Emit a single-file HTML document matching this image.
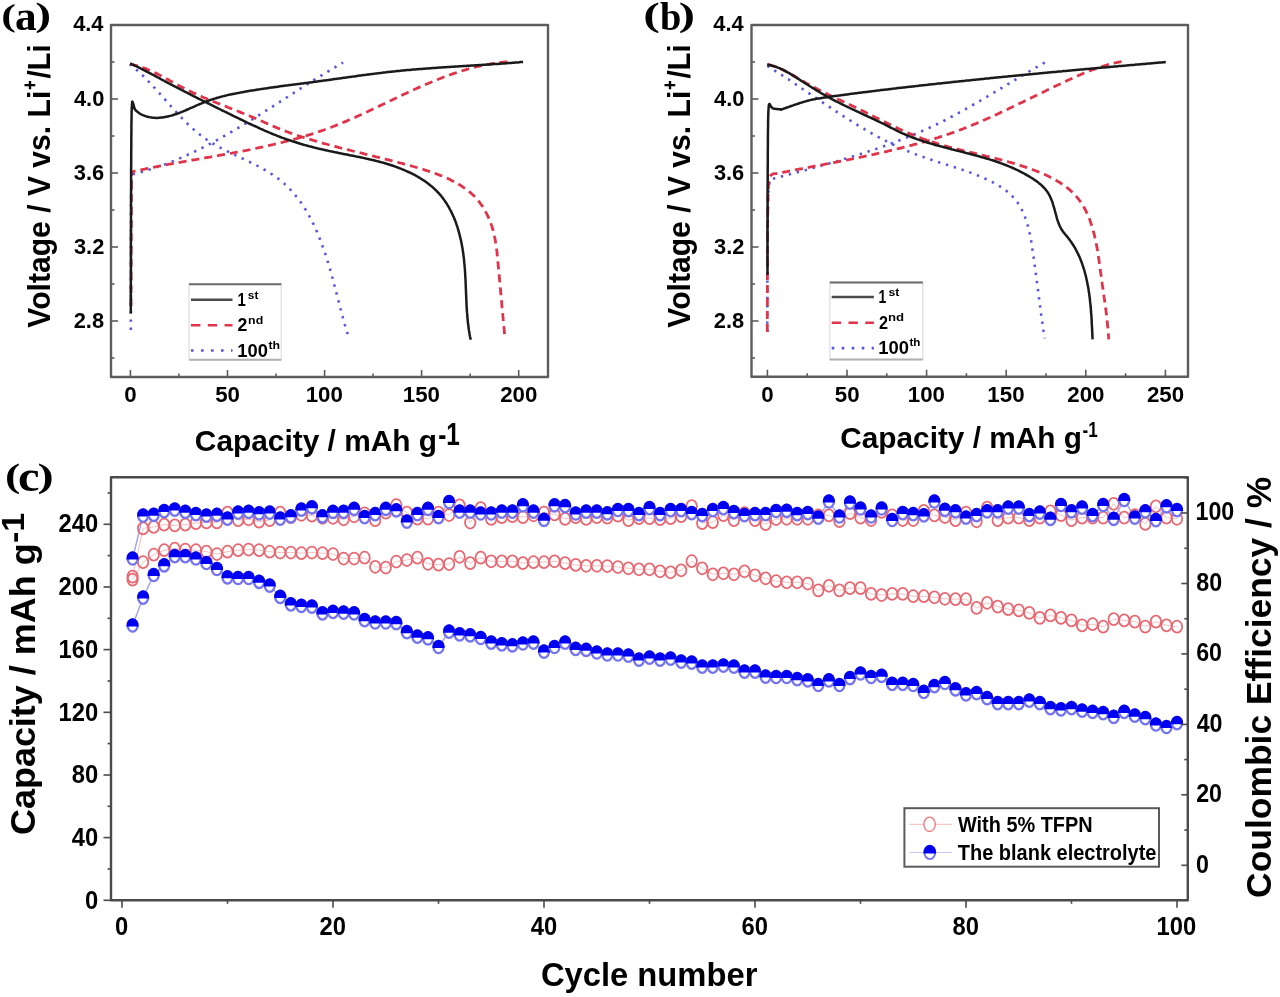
<!DOCTYPE html>
<html><head><meta charset="utf-8"><style>
html,body{margin:0;padding:0;background:#fff;}
svg{display:block;filter:blur(0.75px);}
</style></head><body>
<svg width="1280" height="997" viewBox="0 0 1280 997">
<rect width="1280" height="997" fill="#fff"/>
<path d="M129.8,64.2 L130.8,65.0 L131.8,65.8 L132.7,66.5 L133.6,67.3 L134.6,68.1 L135.5,68.9 L136.4,69.7 L137.3,70.5 L138.2,71.3 L139.1,72.2 L140.0,73.0 L140.9,73.8 L141.8,74.7 L142.7,75.5 L143.6,76.4 L144.4,77.2 L145.3,78.1 L146.2,79.0 L147.0,79.8 L147.9,80.7 L148.7,81.6 L149.6,82.5 L150.4,83.4 L151.2,84.3 L152.1,85.1 L152.9,86.0 L153.7,86.9 L154.6,87.8 L155.4,88.7 L156.2,89.7 L157.0,90.6 L157.8,91.5 L158.6,92.4 L159.5,93.3 L160.3,94.2 L161.1,95.1 L161.9,96.0 L162.7,97.0 L163.5,97.9 L164.3,98.8 L165.1,99.7 L165.9,100.6 L166.7,101.5 L167.5,102.5 L168.3,103.4 L169.2,104.3 L170.0,105.2 L170.8,106.1 L171.6,107.0 L172.4,107.9 L173.2,108.8 L174.0,109.7 L174.8,110.6 L175.7,111.5 L176.5,112.4 L177.3,113.3 L178.1,114.2 L178.9,115.1 L179.8,116.0 L180.6,116.9 L181.5,117.7 L182.3,118.6 L183.1,119.5 L184.0,120.3 L184.8,121.2 L185.7,122.0 L186.6,122.9 L187.4,123.7 L188.3,124.6 L189.2,125.4 L190.1,126.2 L190.9,127.0 L191.8,127.8 L192.7,128.6 L193.6,129.4 L194.5,130.2 L195.5,131.0 L196.4,131.8 L197.3,132.6 L198.2,133.3 L199.2,134.1 L200.1,134.8 L201.1,135.5 L202.1,136.3 L203.0,137.0 L204.0,137.7 L205.0,138.4 L206.0,139.1 L207.0,139.8 L208.0,140.4 L209.0,141.1 L210.1,141.7 L211.1,142.4 L212.1,143.0 L213.2,143.7 L214.2,144.3 L215.3,144.9 L216.4,145.5 L217.4,146.1 L218.5,146.7 L219.6,147.3 L220.7,147.9 L221.8,148.5 L222.9,149.0 L224.0,149.6 L225.1,150.2 L226.2,150.7 L227.3,151.3 L228.4,151.8 L229.5,152.4 L230.6,152.9 L231.8,153.5 L232.9,154.0 L234.0,154.5 L235.1,155.1 L236.3,155.6 L237.4,156.2 L238.5,156.7 L239.6,157.2 L240.8,157.8 L241.9,158.3 L243.0,158.8 L244.1,159.4 L245.3,159.9 L246.4,160.4 L247.5,161.0 L248.6,161.5 L249.7,162.0 L250.9,162.6 L252.0,163.1 L253.1,163.7 L254.2,164.2 L255.3,164.8 L256.4,165.4 L257.5,165.9 L258.6,166.5 L259.7,167.1 L260.7,167.6 L261.8,168.2 L262.9,168.8 L263.9,169.4 L265.0,170.0 L266.0,170.6 L267.1,171.2 L268.1,171.9 L269.2,172.5 L270.2,173.1 L271.2,173.8 L272.2,174.4 L273.2,175.1 L274.2,175.8 L275.2,176.5 L276.2,177.1 L277.1,177.8 L278.1,178.6 L279.0,179.3 L279.9,180.0 L280.9,180.8 L281.8,181.5 L282.7,182.3 L283.6,183.1 L284.5,183.8 L285.3,184.6 L286.2,185.4 L287.1,186.3 L287.9,187.1 L288.7,187.9 L289.6,188.8 L290.4,189.6 L291.2,190.5 L292.0,191.4 L292.8,192.2 L293.6,193.1 L294.3,194.0 L295.1,194.9 L295.8,195.9 L296.6,196.8 L297.3,197.7 L298.0,198.7 L298.8,199.6 L299.5,200.6 L300.2,201.5 L300.9,202.5 L301.5,203.5 L302.2,204.5 L302.9,205.5 L303.5,206.5 L304.2,207.5 L304.8,208.5 L305.5,209.5 L306.1,210.6 L306.7,211.6 L307.3,212.7 L307.9,213.7 L308.5,214.8 L309.1,215.8 L309.7,216.9 L310.3,218.0 L310.9,219.0 L311.4,220.1 L312.0,221.2 L312.5,222.3 L313.1,223.4 L313.6,224.5 L314.1,225.6 L314.7,226.7 L315.2,227.8 L315.7,229.0 L316.2,230.1 L316.7,231.2 L317.2,232.3 L317.7,233.5 L318.1,234.6 L318.6,235.7 L319.1,236.9 L319.5,238.0 L320.0,239.2 L320.4,240.3 L320.9,241.5 L321.3,242.7 L321.8,243.8 L322.2,245.0 L322.6,246.2 L323.0,247.3 L323.5,248.5 L323.9,249.7 L324.3,250.8 L324.7,252.0 L325.1,253.2 L325.5,254.4 L325.8,255.5 L326.2,256.7 L326.6,257.9 L327.0,259.1 L327.4,260.2 L327.7,261.4 L328.1,262.6 L328.4,263.8 L328.8,265.0 L329.1,266.1 L329.5,267.3 L329.8,268.5 L330.2,269.7 L330.5,270.9 L330.8,272.0 L331.2,273.2 L331.5,274.4 L331.8,275.6 L332.1,276.7 L332.5,277.9 L332.8,279.1 L333.1,280.3 L333.4,281.4 L333.7,282.6 L334.0,283.8 L334.3,285.0 L334.6,286.1 L334.9,287.3 L335.3,288.5 L335.6,289.7 L335.9,290.8 L336.2,292.0 L336.5,293.2 L336.8,294.3 L337.1,295.5 L337.4,296.7 L337.7,297.9 L338.0,299.0 L338.3,300.2 L338.6,301.4 L338.9,302.5 L339.2,303.7 L339.5,304.9 L339.8,306.0 L340.1,307.2 L340.4,308.4 L340.7,309.5 L341.0,310.7 L341.3,311.9 L341.6,313.0 L341.9,314.2 L342.2,315.4 L342.6,316.5 L342.9,317.7 L343.2,318.9 L343.5,320.1 L343.8,321.2 L344.2,322.4 L344.5,323.6 L344.8,324.7 L345.2,325.9 L345.5,327.1 L345.9,328.2 L346.2,329.4 L346.6,330.6 L346.9,331.7 L347.3,332.9 L347.7,334.1 L348.0,335.2" fill="none" stroke="#5656e4" stroke-width="2.6" stroke-dasharray="2.4 5.8" stroke-linejoin="round" />
<path d="M130.8,330.0 L130.8,323.7 L130.8,315.3 L130.9,305.2 L130.9,294.1 L130.9,282.4 L130.9,270.8 L131.0,259.8 L131.0,250.0 L131.0,240.8 L131.0,231.4 L131.0,222.1 L131.0,213.2 L131.0,204.7 L131.1,197.1 L131.2,190.4 L131.3,185.0 L131.5,181.0 L131.8,178.3 L132.1,176.6 L132.4,175.6 L132.8,175.2 L133.1,175.0 L133.3,174.8 L133.5,174.4 L133.3,174.2 L134.1,174.0 L134.9,173.8 L135.7,173.6 L136.5,173.4 L137.3,173.2 L138.0,173.0 L138.8,172.8 L139.6,172.6 L140.4,172.4 L141.2,172.1 L141.9,171.9 L142.7,171.7 L143.5,171.5 L144.3,171.2 L145.0,171.0 L145.8,170.8 L146.6,170.5 L147.4,170.3 L148.1,170.1 L148.9,169.8 L149.7,169.6 L150.4,169.3 L151.2,169.1 L152.0,168.9 L152.7,168.6 L153.5,168.4 L154.2,168.1 L155.0,167.8 L155.8,167.6 L156.5,167.3 L157.3,167.1 L158.0,166.8 L158.8,166.5 L159.5,166.3 L160.3,166.0 L161.0,165.7 L161.8,165.5 L162.6,165.2 L163.3,164.9 L164.1,164.6 L164.8,164.4 L165.6,164.1 L166.3,163.8 L167.0,163.5 L167.8,163.2 L168.5,162.9 L169.3,162.6 L170.0,162.4 L170.8,162.1 L171.5,161.8 L172.2,161.5 L173.0,161.2 L173.7,160.9 L174.5,160.6 L175.2,160.3 L175.9,160.0 L176.7,159.7 L177.4,159.3 L178.1,159.0 L178.9,158.7 L179.6,158.4 L180.3,158.1 L181.1,157.8 L181.8,157.5 L182.5,157.1 L183.3,156.8 L184.0,156.5 L184.7,156.2 L185.4,155.9 L186.2,155.5 L186.9,155.2 L187.6,154.9 L188.3,154.5 L189.1,154.2 L189.8,153.9 L190.5,153.5 L191.2,153.2 L191.9,152.9 L192.7,152.5 L193.4,152.2 L194.1,151.8 L194.8,151.5 L195.5,151.1 L196.3,150.8 L197.0,150.4 L197.7,150.1 L198.4,149.7 L199.1,149.4 L199.8,149.0 L200.5,148.7 L201.3,148.3 L202.0,148.0 L202.7,147.6 L203.4,147.3 L204.1,146.9 L204.8,146.5 L205.5,146.2 L206.2,145.8 L206.9,145.4 L207.6,145.1 L208.3,144.7 L209.0,144.3 L209.7,144.0 L210.5,143.6 L211.2,143.2 L211.9,142.8 L212.6,142.5 L213.3,142.1 L214.0,141.7 L214.7,141.3 L215.4,141.0 L216.1,140.6 L216.8,140.2 L217.5,139.8 L218.2,139.4 L218.9,139.0 L219.6,138.7 L220.3,138.3 L220.9,137.9 L221.6,137.5 L222.3,137.1 L223.0,136.7 L223.7,136.3 L224.4,135.9 L225.1,135.5 L225.8,135.1 L226.5,134.8 L227.2,134.4 L227.9,134.0 L228.6,133.6 L229.3,133.2 L230.0,132.8 L230.6,132.4 L231.3,132.0 L232.0,131.6 L232.7,131.2 L233.4,130.8 L234.1,130.4 L234.8,129.9 L235.5,129.5 L236.2,129.1 L236.8,128.7 L237.5,128.3 L238.2,127.9 L238.9,127.5 L239.6,127.1 L240.3,126.7 L241.0,126.3 L241.6,125.9 L242.3,125.4 L243.0,125.0 L243.7,124.6 L244.4,124.2 L245.1,123.8 L245.7,123.4 L246.4,123.0 L247.1,122.5 L247.8,122.1 L248.5,121.7 L249.1,121.3 L249.8,120.9 L250.5,120.4 L251.2,120.0 L251.9,119.6 L252.5,119.2 L253.2,118.8 L253.9,118.3 L254.6,117.9 L255.2,117.5 L255.9,117.1 L256.6,116.6 L257.3,116.2 L258.0,115.8 L258.6,115.4 L259.3,115.0 L260.0,114.5 L260.7,114.1 L261.3,113.7 L262.0,113.2 L262.7,112.8 L263.4,112.4 L264.0,112.0 L264.7,111.5 L265.4,111.1 L266.1,110.7 L266.7,110.2 L267.4,109.8 L268.1,109.4 L268.8,109.0 L269.4,108.5 L270.1,108.1 L270.8,107.7 L271.5,107.2 L272.1,106.8 L272.8,106.4 L273.5,105.9 L274.2,105.5 L274.8,105.1 L275.5,104.6 L276.2,104.2 L276.8,103.8 L277.5,103.3 L278.2,102.9 L278.9,102.5 L279.5,102.1 L280.2,101.6 L280.9,101.2 L281.6,100.8 L282.2,100.3 L282.9,99.9 L283.6,99.5 L284.2,99.0 L284.9,98.6 L285.6,98.2 L286.3,97.7 L286.9,97.3 L287.6,96.9 L288.3,96.4 L288.9,96.0 L289.6,95.6 L290.3,95.1 L291.0,94.7 L291.6,94.3 L292.3,93.8 L293.0,93.4 L293.6,93.0 L294.3,92.5 L295.0,92.1 L295.7,91.7 L296.3,91.2 L297.0,90.8 L297.7,90.4 L298.4,90.0 L299.0,89.5 L299.7,89.1 L300.4,88.7 L301.0,88.2 L301.7,87.8 L302.4,87.4 L303.1,86.9 L303.7,86.5 L304.4,86.1 L305.1,85.7 L305.8,85.2 L306.4,84.8 L307.1,84.4 L307.8,84.0 L308.5,83.5 L309.1,83.1 L309.8,82.7 L310.5,82.3 L311.1,81.8 L311.8,81.4 L312.5,81.0 L313.2,80.6 L313.8,80.1 L314.5,79.7 L315.2,79.3 L315.9,78.9 L316.6,78.5 L317.2,78.0 L317.9,77.6 L318.6,77.2 L319.3,76.8 L319.9,76.4 L320.6,75.9 L321.3,75.5 L322.0,75.1 L322.6,74.7 L323.3,74.3 L324.0,73.9 L324.7,73.5 L325.4,73.0 L326.0,72.6 L326.7,72.2 L327.4,71.8 L328.1,71.4 L328.8,71.0 L329.4,70.6 L330.1,70.2 L330.8,69.8 L331.5,69.4 L332.2,68.9 L332.8,68.5 L333.5,68.1 L334.2,67.7 L334.9,67.3 L335.6,66.9 L336.3,66.5 L336.9,66.1 L337.6,65.7 L338.3,65.3 L339.0,64.9 L339.7,64.5 L340.4,64.1 L341.1,63.7 L341.7,63.3 L342.4,63.0 L343.1,62.6" fill="none" stroke="#5656e4" stroke-width="2.6" stroke-dasharray="2.4 5.8" stroke-linejoin="round" />
<path d="M129.9,64.1 L131.7,64.5 L133.4,64.8 L135.1,65.3 L136.8,65.7 L138.5,66.2 L140.2,66.7 L141.8,67.3 L143.4,67.8 L145.1,68.4 L146.7,69.1 L148.3,69.7 L149.9,70.4 L151.4,71.1 L153.0,71.8 L154.6,72.6 L156.1,73.3 L157.7,74.1 L159.2,74.9 L160.8,75.7 L162.3,76.5 L163.8,77.3 L165.4,78.1 L166.9,79.0 L168.4,79.8 L169.9,80.7 L171.5,81.5 L173.0,82.3 L174.5,83.2 L176.0,84.0 L177.5,84.8 L179.1,85.7 L180.6,86.5 L182.1,87.3 L183.7,88.1 L185.2,88.9 L186.8,89.7 L188.3,90.4 L189.9,91.2 L191.5,91.9 L193.0,92.7 L194.6,93.4 L196.2,94.1 L197.8,94.9 L199.4,95.6 L201.0,96.3 L202.5,97.0 L204.1,97.7 L205.7,98.3 L207.3,99.0 L208.9,99.7 L210.5,100.4 L212.2,101.0 L213.8,101.7 L215.4,102.3 L217.0,103.0 L218.6,103.6 L220.2,104.3 L221.8,104.9 L223.4,105.6 L225.1,106.2 L226.7,106.8 L228.3,107.5 L229.9,108.1 L231.5,108.7 L233.2,109.4 L234.8,110.0 L236.4,110.6 L238.0,111.3 L239.6,111.9 L241.2,112.6 L242.9,113.2 L244.5,113.9 L246.1,114.5 L247.7,115.2 L249.3,115.8 L250.9,116.5 L252.5,117.1 L254.1,117.8 L255.7,118.5 L257.3,119.2 L258.9,119.9 L260.5,120.6 L262.1,121.3 L263.7,122.0 L265.3,122.7 L266.8,123.4 L268.4,124.1 L270.0,124.8 L271.6,125.5 L273.2,126.2 L274.8,126.9 L276.4,127.5 L278.0,128.2 L279.6,128.9 L281.2,129.5 L282.9,130.1 L284.5,130.8 L286.1,131.4 L287.7,132.0 L289.4,132.6 L291.0,133.2 L292.7,133.8 L294.3,134.3 L295.9,134.9 L297.6,135.5 L299.3,136.0 L300.9,136.6 L302.6,137.1 L304.2,137.6 L305.9,138.2 L307.6,138.7 L309.2,139.2 L310.9,139.7 L312.6,140.2 L314.2,140.7 L315.9,141.2 L317.6,141.7 L319.3,142.2 L320.9,142.6 L322.6,143.1 L324.3,143.6 L326.0,144.0 L327.6,144.5 L329.3,144.9 L331.0,145.4 L332.7,145.8 L334.3,146.3 L336.0,146.7 L337.7,147.1 L339.4,147.6 L341.0,148.0 L342.7,148.4 L344.4,148.9 L346.1,149.3 L347.7,149.7 L349.4,150.1 L351.1,150.5 L352.7,151.0 L354.4,151.4 L356.1,151.8 L357.7,152.2 L359.4,152.6 L361.1,153.0 L362.7,153.4 L364.4,153.9 L366.1,154.3 L367.7,154.7 L369.4,155.1 L371.1,155.5 L372.7,155.9 L374.4,156.3 L376.1,156.8 L377.8,157.2 L379.4,157.6 L381.1,158.0 L382.8,158.4 L384.5,158.9 L386.1,159.3 L387.8,159.7 L389.5,160.2 L391.2,160.6 L392.9,161.0 L394.5,161.5 L396.2,161.9 L397.9,162.3 L399.6,162.8 L401.3,163.2 L403.0,163.7 L404.7,164.2 L406.4,164.6 L408.1,165.1 L409.8,165.6 L411.5,166.0 L413.2,166.5 L414.9,167.0 L416.7,167.5 L418.4,168.0 L420.1,168.5 L421.8,169.0 L423.5,169.5 L425.2,170.1 L426.9,170.6 L428.6,171.2 L430.3,171.7 L432.0,172.3 L433.7,172.9 L435.4,173.5 L437.0,174.1 L438.7,174.7 L440.3,175.4 L442.0,176.0 L443.6,176.7 L445.2,177.4 L446.8,178.1 L448.4,178.8 L450.0,179.6 L451.5,180.4 L453.1,181.2 L454.6,182.0 L456.1,182.8 L457.6,183.6 L459.1,184.5 L460.6,185.4 L462.0,186.3 L463.4,187.3 L464.8,188.3 L466.2,189.3 L467.6,190.3 L468.9,191.3 L470.2,192.4 L471.4,193.5 L472.7,194.7 L473.9,195.8 L475.1,197.0 L476.2,198.3 L477.3,199.5 L478.4,200.8 L479.4,202.1 L480.4,203.5 L481.4,204.9 L482.4,206.2 L483.3,207.7 L484.2,209.1 L485.0,210.6 L485.8,212.1 L486.6,213.6 L487.4,215.1 L488.1,216.7 L488.8,218.2 L489.5,219.8 L490.1,221.4 L490.7,223.0 L491.3,224.7 L491.9,226.3 L492.4,228.0 L492.9,229.6 L493.3,231.3 L493.8,233.0 L494.2,234.7 L494.5,236.5 L494.9,238.2 L495.2,239.9 L495.5,241.7 L495.8,243.4 L496.1,245.2 L496.3,246.9 L496.5,248.7 L496.8,250.4 L497.0,252.2 L497.1,254.0 L497.3,255.7 L497.5,257.5 L497.7,259.3 L497.8,261.0 L498.0,262.8 L498.2,264.5 L498.3,266.3 L498.5,268.0 L498.6,269.8 L498.8,271.5 L499.0,273.3 L499.1,275.0 L499.3,276.7 L499.4,278.5 L499.6,280.2 L499.8,281.9 L499.9,283.7 L500.1,285.4 L500.2,287.1 L500.4,288.8 L500.6,290.5 L500.7,292.3 L500.9,294.0 L501.0,295.7 L501.2,297.4 L501.3,299.1 L501.5,300.8 L501.7,302.5 L501.8,304.3 L502.0,306.0 L502.1,307.7 L502.3,309.4 L502.5,311.1 L502.6,312.8 L502.8,314.6 L502.9,316.3 L503.1,318.0 L503.2,319.7 L503.4,321.5 L503.6,323.2 L503.7,324.9 L503.9,326.7 L504.1,328.4 L504.2,330.1 L504.4,331.9 L504.5,333.6 L504.7,335.4 L504.9,337.1 L505.0,338.9" fill="none" stroke="#e0344a" stroke-width="2.8" stroke-dasharray="8 5" stroke-linejoin="round" />
<path d="M131.0,306.0 L131.0,301.7 L131.0,296.1 L131.1,289.5 L131.1,282.1 L131.1,274.1 L131.1,265.9 L131.2,257.8 L131.2,250.0 L131.2,241.9 L131.3,233.1 L131.3,224.0 L131.3,214.8 L131.4,205.9 L131.4,197.7 L131.5,190.7 L131.5,185.0 L131.5,180.9 L131.5,178.0 L131.5,176.1 L131.5,175.0 L131.5,174.4 L131.5,174.0 L131.6,173.6 L131.7,173.0 L131.9,172.3 L132.1,171.9 L132.3,171.7 L132.6,171.6 L132.9,171.6 L133.1,171.7 L133.4,171.7 L133.5,171.7 L133.5,171.5 L134.7,171.2 L136.0,170.9 L137.3,170.6 L138.6,170.4 L139.9,170.1 L141.2,169.8 L142.5,169.5 L143.7,169.3 L145.0,169.0 L146.3,168.7 L147.6,168.5 L148.9,168.2 L150.2,167.9 L151.5,167.7 L152.8,167.4 L154.1,167.2 L155.3,166.9 L156.6,166.7 L157.9,166.4 L159.2,166.2 L160.5,165.9 L161.8,165.7 L163.1,165.4 L164.4,165.2 L165.7,164.9 L167.0,164.7 L168.3,164.4 L169.6,164.2 L170.9,164.0 L172.2,163.7 L173.5,163.5 L174.8,163.3 L176.1,163.0 L177.4,162.8 L178.7,162.5 L180.0,162.3 L181.3,162.1 L182.6,161.8 L183.9,161.6 L185.2,161.4 L186.5,161.2 L187.8,160.9 L189.1,160.7 L190.4,160.5 L191.7,160.2 L193.0,160.0 L194.3,159.8 L195.6,159.6 L196.9,159.3 L198.2,159.1 L199.5,158.9 L200.8,158.6 L202.1,158.4 L203.4,158.2 L204.7,158.0 L206.0,157.7 L207.3,157.5 L208.6,157.3 L209.9,157.1 L211.2,156.8 L212.5,156.6 L213.8,156.4 L215.1,156.1 L216.4,155.9 L217.7,155.7 L219.0,155.4 L220.3,155.2 L221.6,155.0 L222.9,154.7 L224.2,154.5 L225.5,154.3 L226.8,154.0 L228.1,153.8 L229.4,153.6 L230.7,153.3 L232.0,153.1 L233.3,152.8 L234.6,152.6 L235.9,152.3 L237.2,152.1 L238.5,151.9 L239.8,151.6 L241.1,151.4 L242.4,151.1 L243.7,150.8 L245.0,150.6 L246.3,150.3 L247.6,150.1 L248.9,149.8 L250.1,149.6 L251.4,149.3 L252.7,149.0 L254.0,148.8 L255.3,148.5 L256.6,148.2 L257.9,148.0 L259.2,147.7 L260.5,147.4 L261.7,147.1 L263.0,146.9 L264.3,146.6 L265.6,146.3 L266.9,146.0 L268.2,145.7 L269.5,145.4 L270.7,145.1 L272.0,144.8 L273.3,144.5 L274.6,144.2 L275.9,143.9 L277.1,143.6 L278.4,143.3 L279.7,143.0 L281.0,142.7 L282.2,142.4 L283.5,142.0 L284.8,141.7 L286.1,141.4 L287.3,141.1 L288.6,140.7 L289.9,140.4 L291.1,140.1 L292.4,139.7 L293.7,139.4 L294.9,139.0 L296.2,138.7 L297.5,138.3 L298.7,137.9 L300.0,137.6 L301.3,137.2 L302.5,136.9 L303.8,136.5 L305.0,136.1 L306.3,135.7 L307.5,135.3 L308.8,134.9 L310.0,134.6 L311.3,134.2 L312.5,133.8 L313.8,133.4 L315.0,133.0 L316.3,132.5 L317.5,132.1 L318.8,131.7 L320.0,131.3 L321.2,130.9 L322.5,130.4 L323.7,130.0 L325.0,129.5 L326.2,129.1 L327.4,128.6 L328.7,128.2 L329.9,127.7 L331.1,127.3 L332.4,126.8 L333.6,126.3 L334.8,125.8 L336.0,125.4 L337.2,124.9 L338.5,124.4 L339.7,123.9 L340.9,123.4 L342.1,122.9 L343.3,122.4 L344.6,121.9 L345.8,121.4 L347.0,120.9 L348.2,120.3 L349.4,119.8 L350.6,119.3 L351.8,118.8 L353.0,118.2 L354.2,117.7 L355.4,117.2 L356.7,116.6 L357.9,116.1 L359.1,115.5 L360.3,115.0 L361.5,114.4 L362.7,113.9 L363.9,113.3 L365.1,112.8 L366.3,112.2 L367.5,111.7 L368.7,111.1 L369.9,110.5 L371.1,110.0 L372.3,109.4 L373.5,108.8 L374.7,108.3 L375.9,107.7 L377.0,107.1 L378.2,106.6 L379.4,106.0 L380.6,105.4 L381.8,104.9 L383.0,104.3 L384.2,103.7 L385.4,103.1 L386.6,102.6 L387.8,102.0 L389.0,101.4 L390.2,100.8 L391.4,100.3 L392.6,99.7 L393.8,99.1 L395.0,98.6 L396.2,98.0 L397.4,97.4 L398.6,96.8 L399.8,96.3 L400.9,95.7 L402.1,95.1 L403.3,94.6 L404.5,94.0 L405.7,93.5 L406.9,92.9 L408.1,92.3 L409.3,91.8 L410.5,91.2 L411.7,90.7 L412.9,90.1 L414.1,89.6 L415.3,89.0 L416.5,88.5 L417.7,87.9 L418.9,87.4 L420.2,86.9 L421.4,86.3 L422.6,85.8 L423.8,85.3 L425.0,84.7 L426.2,84.2 L427.4,83.7 L428.6,83.2 L429.8,82.7 L431.0,82.2 L432.3,81.7 L433.5,81.2 L434.7,80.7 L435.9,80.2 L437.1,79.7 L438.3,79.2 L439.6,78.7 L440.8,78.2 L442.0,77.8 L443.2,77.3 L444.5,76.8 L445.7,76.4 L446.9,75.9 L448.2,75.5 L449.4,75.0 L450.6,74.6 L451.9,74.2 L453.1,73.7 L454.3,73.3 L455.6,72.9 L456.8,72.5 L458.1,72.1 L459.3,71.7 L460.6,71.3 L461.8,70.9 L463.1,70.5 L464.3,70.1 L465.6,69.8 L466.8,69.4 L468.1,69.0 L469.3,68.7 L470.6,68.3 L471.9,68.0 L473.1,67.7 L474.4,67.3 L475.7,67.0 L477.0,66.7 L478.2,66.4 L479.5,66.1 L480.8,65.8 L482.1,65.6 L483.4,65.3 L484.7,65.0 L485.9,64.8 L487.2,64.5 L488.5,64.3 L489.8,64.0 L491.1,63.8 L492.4,63.6 L493.7,63.4 L495.0,63.2 L496.4,63.0 L497.7,62.8 L499.0,62.7 L500.3,62.5 L501.6,62.3 L503.0,62.2 L504.3,62.1 L505.6,61.9 L506.9,61.8 L508.3,61.7 L509.6,61.6" fill="none" stroke="#e0344a" stroke-width="2.8" stroke-dasharray="8 5" stroke-linejoin="round" />
<path d="M130.2,63.5 L131.7,64.2 L133.2,64.8 L134.7,65.5 L136.1,66.2 L137.6,66.9 L139.1,67.7 L140.5,68.4 L142.0,69.1 L143.4,69.8 L144.9,70.6 L146.3,71.3 L147.8,72.1 L149.2,72.8 L150.7,73.6 L152.1,74.4 L153.6,75.1 L155.0,75.9 L156.4,76.7 L157.9,77.5 L159.3,78.2 L160.7,79.0 L162.2,79.8 L163.6,80.5 L165.1,81.3 L166.5,82.1 L167.9,82.9 L169.4,83.6 L170.8,84.4 L172.3,85.1 L173.7,85.9 L175.2,86.7 L176.6,87.4 L178.1,88.2 L179.5,88.9 L181.0,89.7 L182.4,90.4 L183.9,91.2 L185.3,91.9 L186.8,92.7 L188.3,93.4 L189.7,94.1 L191.2,94.9 L192.6,95.6 L194.1,96.4 L195.6,97.1 L197.0,97.8 L198.5,98.6 L200.0,99.3 L201.4,100.0 L202.9,100.8 L204.4,101.5 L205.8,102.2 L207.3,103.0 L208.8,103.7 L210.2,104.4 L211.7,105.2 L213.2,105.9 L214.6,106.6 L216.1,107.3 L217.6,108.1 L219.1,108.8 L220.5,109.5 L222.0,110.3 L223.5,111.0 L224.9,111.7 L226.4,112.4 L227.9,113.2 L229.4,113.9 L230.9,114.6 L232.3,115.3 L233.8,116.1 L235.3,116.8 L236.8,117.5 L238.2,118.2 L239.7,119.0 L241.2,119.7 L242.7,120.4 L244.2,121.1 L245.7,121.8 L247.1,122.5 L248.6,123.3 L250.1,124.0 L251.6,124.7 L253.1,125.4 L254.6,126.0 L256.1,126.7 L257.6,127.4 L259.1,128.1 L260.6,128.8 L262.1,129.4 L263.6,130.1 L265.1,130.8 L266.6,131.4 L268.1,132.1 L269.6,132.7 L271.1,133.3 L272.6,134.0 L274.2,134.6 L275.7,135.2 L277.2,135.8 L278.7,136.4 L280.3,137.0 L281.8,137.6 L283.3,138.1 L284.9,138.7 L286.4,139.2 L287.9,139.8 L289.5,140.3 L291.0,140.8 L292.6,141.3 L294.1,141.8 L295.7,142.3 L297.2,142.8 L298.8,143.3 L300.4,143.8 L301.9,144.2 L303.5,144.7 L305.1,145.1 L306.6,145.5 L308.2,146.0 L309.8,146.4 L311.4,146.8 L313.0,147.2 L314.5,147.6 L316.1,148.0 L317.7,148.4 L319.3,148.7 L320.9,149.1 L322.5,149.5 L324.1,149.8 L325.7,150.2 L327.3,150.5 L328.9,150.9 L330.5,151.2 L332.1,151.6 L333.7,151.9 L335.3,152.3 L336.9,152.6 L338.5,152.9 L340.1,153.2 L341.7,153.6 L343.3,153.9 L344.9,154.2 L346.5,154.5 L348.1,154.8 L349.7,155.2 L351.3,155.5 L353.0,155.8 L354.6,156.1 L356.2,156.5 L357.8,156.8 L359.4,157.1 L361.0,157.4 L362.6,157.8 L364.2,158.1 L365.8,158.5 L367.4,158.8 L369.0,159.2 L370.6,159.6 L372.2,159.9 L373.8,160.3 L375.4,160.7 L377.0,161.1 L378.6,161.5 L380.2,162.0 L381.8,162.4 L383.4,162.8 L385.0,163.3 L386.6,163.8 L388.2,164.3 L389.8,164.8 L391.3,165.3 L392.9,165.8 L394.5,166.3 L396.1,166.9 L397.7,167.5 L399.2,168.1 L400.8,168.7 L402.3,169.3 L403.9,169.9 L405.4,170.6 L407.0,171.3 L408.5,172.0 L410.0,172.7 L411.5,173.4 L413.0,174.2 L414.5,174.9 L415.9,175.7 L417.4,176.5 L418.8,177.4 L420.2,178.2 L421.6,179.1 L423.0,180.0 L424.4,180.9 L425.7,181.8 L427.0,182.7 L428.3,183.7 L429.6,184.7 L430.8,185.7 L432.1,186.7 L433.3,187.8 L434.5,188.9 L435.6,190.0 L436.8,191.1 L437.9,192.3 L438.9,193.4 L440.0,194.6 L441.0,195.8 L442.0,197.1 L443.0,198.3 L443.9,199.6 L444.8,200.9 L445.7,202.2 L446.6,203.5 L447.4,204.9 L448.3,206.3 L449.1,207.7 L449.8,209.1 L450.6,210.5 L451.3,211.9 L452.0,213.4 L452.7,214.8 L453.3,216.3 L454.0,217.8 L454.6,219.3 L455.2,220.8 L455.8,222.4 L456.3,223.9 L456.8,225.4 L457.4,227.0 L457.9,228.6 L458.3,230.2 L458.8,231.8 L459.2,233.4 L459.6,235.0 L460.0,236.6 L460.4,238.2 L460.8,239.8 L461.2,241.4 L461.5,243.1 L461.8,244.7 L462.1,246.4 L462.4,248.0 L462.7,249.7 L462.9,251.3 L463.2,253.0 L463.4,254.6 L463.6,256.3 L463.8,257.9 L464.0,259.6 L464.2,261.3 L464.3,262.9 L464.5,264.6 L464.6,266.2 L464.8,267.9 L464.9,269.5 L465.0,271.2 L465.1,272.9 L465.2,274.5 L465.3,276.2 L465.4,277.8 L465.5,279.5 L465.6,281.2 L465.6,282.8 L465.7,284.5 L465.8,286.1 L465.8,287.8 L465.9,289.4 L466.0,291.1 L466.0,292.7 L466.1,294.4 L466.2,296.0 L466.2,297.7 L466.3,299.3 L466.4,301.0 L466.5,302.6 L466.5,304.2 L466.6,305.9 L466.7,307.5 L466.8,309.1 L466.9,310.8 L467.0,312.4 L467.2,314.0 L467.3,315.7 L467.4,317.3 L467.6,318.9 L467.7,320.5 L467.9,322.2 L468.1,323.8 L468.3,325.4 L468.5,327.0 L468.7,328.6 L468.9,330.2 L469.2,331.8 L469.5,333.4 L469.7,335.0 L470.0,336.6 L470.4,338.2 L470.7,339.8" fill="none" stroke="#1a1a1a" stroke-width="2.5" stroke-linejoin="round" />
<path d="M130.8,313.6 L130.8,308.7 L130.8,302.3 L130.8,294.7 L130.8,286.2 L130.9,277.1 L130.9,267.8 L130.9,258.7 L130.9,250.0 L130.9,241.5 L130.9,232.7 L131.0,223.8 L131.0,214.8 L131.0,205.8 L131.0,196.9 L131.1,188.3 L131.1,180.0 L131.1,171.7 L131.2,163.3 L131.2,154.8 L131.3,146.6 L131.3,138.8 L131.4,131.7 L131.4,125.3 L131.5,120.0 L131.6,115.8 L131.6,112.6 L131.7,110.2 L131.7,108.4 L131.8,107.0 L131.9,106.0 L131.9,105.0 L132.0,104.0 L132.1,103.0 L132.1,102.4 L132.2,101.9 L132.2,101.7 L132.3,101.6 L132.4,101.7 L132.5,101.9 L132.6,102.1 L132.8,102.5 L133.0,103.2 L133.3,104.0 L133.6,104.9 L133.9,105.9 L134.1,106.8 L134.3,107.5 L134.5,108.0 L134.2,108.3 L134.9,109.2 L135.6,110.2 L136.5,111.0 L137.4,111.8 L138.4,112.6 L139.4,113.3 L140.6,114.0 L141.7,114.6 L142.9,115.1 L144.2,115.6 L145.4,116.1 L146.7,116.5 L148.0,116.9 L149.3,117.1 L150.7,117.4 L152.0,117.6 L153.3,117.7 L154.6,117.8 L155.9,117.9 L157.2,117.9 L158.5,117.8 L159.8,117.8 L161.1,117.6 L162.4,117.5 L163.7,117.3 L165.0,117.1 L166.3,116.8 L167.6,116.5 L168.8,116.2 L170.1,115.9 L171.4,115.6 L172.6,115.2 L173.9,114.8 L175.1,114.4 L176.4,114.0 L177.6,113.5 L178.9,113.1 L180.1,112.6 L181.3,112.1 L182.6,111.6 L183.8,111.1 L185.0,110.6 L186.3,110.0 L187.5,109.5 L188.7,109.0 L189.9,108.4 L191.1,107.9 L192.4,107.4 L193.6,106.8 L194.8,106.3 L196.0,105.7 L197.3,105.2 L198.5,104.7 L199.7,104.1 L201.0,103.6 L202.2,103.1 L203.4,102.6 L204.7,102.1 L205.9,101.6 L207.2,101.1 L208.4,100.7 L209.7,100.2 L211.0,99.8 L212.2,99.4 L213.5,99.0 L214.8,98.6 L216.1,98.2 L217.3,97.8 L218.6,97.5 L219.9,97.1 L221.2,96.7 L222.5,96.4 L223.8,96.1 L225.1,95.8 L226.4,95.4 L227.7,95.1 L229.0,94.8 L230.3,94.6 L231.6,94.3 L232.9,94.0 L234.2,93.7 L235.5,93.5 L236.8,93.2 L238.2,92.9 L239.5,92.7 L240.8,92.4 L242.1,92.2 L243.4,92.0 L244.7,91.7 L246.1,91.5 L247.4,91.3 L248.7,91.1 L250.0,90.8 L251.3,90.6 L252.6,90.4 L254.0,90.2 L255.3,90.0 L256.6,89.8 L257.9,89.6 L259.2,89.4 L260.6,89.1 L261.9,88.9 L263.2,88.7 L264.5,88.6 L265.8,88.4 L267.1,88.2 L268.5,88.0 L269.8,87.8 L271.1,87.6 L272.4,87.4 L273.7,87.2 L275.1,87.0 L276.4,86.9 L277.7,86.7 L279.0,86.5 L280.3,86.3 L281.7,86.1 L283.0,86.0 L284.3,85.8 L285.6,85.6 L286.9,85.4 L288.3,85.3 L289.6,85.1 L290.9,84.9 L292.2,84.7 L293.5,84.6 L294.9,84.4 L296.2,84.2 L297.5,84.1 L298.8,83.9 L300.2,83.7 L301.5,83.5 L302.8,83.4 L304.1,83.2 L305.4,83.0 L306.8,82.9 L308.1,82.7 L309.4,82.5 L310.7,82.4 L312.0,82.2 L313.4,82.0 L314.7,81.8 L316.0,81.7 L317.3,81.5 L318.6,81.3 L320.0,81.1 L321.3,81.0 L322.6,80.8 L323.9,80.6 L325.3,80.4 L326.6,80.2 L327.9,80.1 L329.2,79.9 L330.5,79.7 L331.9,79.5 L333.2,79.3 L334.5,79.1 L335.8,79.0 L337.1,78.8 L338.5,78.6 L339.8,78.4 L341.1,78.2 L342.4,78.0 L343.8,77.8 L345.1,77.7 L346.4,77.5 L347.7,77.3 L349.0,77.1 L350.4,76.9 L351.7,76.7 L353.0,76.6 L354.3,76.4 L355.7,76.2 L357.0,76.0 L358.3,75.8 L359.6,75.6 L360.9,75.5 L362.3,75.3 L363.6,75.1 L364.9,74.9 L366.2,74.8 L367.6,74.6 L368.9,74.4 L370.2,74.2 L371.5,74.1 L372.9,73.9 L374.2,73.7 L375.5,73.6 L376.8,73.4 L378.2,73.2 L379.5,73.1 L380.8,72.9 L382.1,72.8 L383.5,72.6 L384.8,72.4 L386.1,72.3 L387.4,72.1 L388.8,72.0 L390.1,71.8 L391.4,71.7 L392.7,71.5 L394.1,71.4 L395.4,71.3 L396.7,71.1 L398.0,71.0 L399.4,70.9 L400.7,70.7 L402.0,70.6 L403.4,70.5 L404.7,70.3 L406.0,70.2 L407.3,70.1 L408.7,70.0 L410.0,69.9 L411.3,69.7 L412.7,69.6 L414.0,69.5 L415.3,69.4 L416.6,69.3 L418.0,69.2 L419.3,69.1 L420.6,69.0 L422.0,68.9 L423.3,68.8 L424.6,68.7 L425.9,68.6 L427.3,68.5 L428.6,68.4 L429.9,68.3 L431.3,68.2 L432.6,68.1 L433.9,68.0 L435.3,67.9 L436.6,67.8 L437.9,67.7 L439.2,67.6 L440.6,67.5 L441.9,67.4 L443.2,67.3 L444.6,67.3 L445.9,67.2 L447.2,67.1 L448.6,67.0 L449.9,66.9 L451.2,66.8 L452.6,66.7 L453.9,66.7 L455.2,66.6 L456.6,66.5 L457.9,66.4 L459.2,66.3 L460.5,66.2 L461.9,66.2 L463.2,66.1 L464.5,66.0 L465.9,65.9 L467.2,65.8 L468.5,65.7 L469.9,65.7 L471.2,65.6 L472.5,65.5 L473.9,65.4 L475.2,65.3 L476.5,65.3 L477.9,65.2 L479.2,65.1 L480.5,65.0 L481.9,64.9 L483.2,64.8 L484.5,64.8 L485.8,64.7 L487.2,64.6 L488.5,64.5 L489.8,64.4 L491.2,64.3 L492.5,64.2 L493.8,64.1 L495.2,64.1 L496.5,64.0 L497.8,63.9 L499.2,63.8 L500.5,63.7 L501.8,63.6 L503.2,63.5 L504.5,63.4 L505.8,63.3 L507.1,63.2 L508.5,63.1 L509.8,63.0 L511.1,62.9 L512.5,62.8 L513.8,62.7 L515.1,62.6 L516.5,62.5 L517.8,62.4 L519.1,62.3 L520.4,62.1 L521.8,62.0 L523.1,61.9" fill="none" stroke="#1a1a1a" stroke-width="2.5" stroke-linejoin="round" />
<rect x="111" y="25" width="437" height="352" fill="none" stroke="#5c5c5c" stroke-width="2.4" stroke-linejoin="round"/>
<line x1="111" y1="25.0" x2="118" y2="25.0" stroke="#5c5c5c" stroke-width="1.6"/>
<line x1="111" y1="99.0" x2="118" y2="99.0" stroke="#5c5c5c" stroke-width="1.6"/>
<line x1="111" y1="173.0" x2="118" y2="173.0" stroke="#5c5c5c" stroke-width="1.6"/>
<line x1="111" y1="247.0" x2="118" y2="247.0" stroke="#5c5c5c" stroke-width="1.6"/>
<line x1="111" y1="321.0" x2="118" y2="321.0" stroke="#5c5c5c" stroke-width="1.6"/>
<line x1="111" y1="62.0" x2="114.5" y2="62.0" stroke="#5c5c5c" stroke-width="1.6"/>
<line x1="111" y1="136.0" x2="114.5" y2="136.0" stroke="#5c5c5c" stroke-width="1.6"/>
<line x1="111" y1="210.0" x2="114.5" y2="210.0" stroke="#5c5c5c" stroke-width="1.6"/>
<line x1="111" y1="284.0" x2="114.5" y2="284.0" stroke="#5c5c5c" stroke-width="1.6"/>
<line x1="111" y1="358.0" x2="114.5" y2="358.0" stroke="#5c5c5c" stroke-width="1.6"/>
<line x1="130.4" y1="377" x2="130.4" y2="370" stroke="#5c5c5c" stroke-width="1.6"/>
<line x1="227.5" y1="377" x2="227.5" y2="370" stroke="#5c5c5c" stroke-width="1.6"/>
<line x1="324.6" y1="377" x2="324.6" y2="370" stroke="#5c5c5c" stroke-width="1.6"/>
<line x1="421.6" y1="377" x2="421.6" y2="370" stroke="#5c5c5c" stroke-width="1.6"/>
<line x1="518.7" y1="377" x2="518.7" y2="370" stroke="#5c5c5c" stroke-width="1.6"/>
<line x1="178.9" y1="377" x2="178.9" y2="373.5" stroke="#5c5c5c" stroke-width="1.6"/>
<line x1="276.0" y1="377" x2="276.0" y2="373.5" stroke="#5c5c5c" stroke-width="1.6"/>
<line x1="373.1" y1="377" x2="373.1" y2="373.5" stroke="#5c5c5c" stroke-width="1.6"/>
<line x1="470.2" y1="377" x2="470.2" y2="373.5" stroke="#5c5c5c" stroke-width="1.6"/>
<text transform="translate(73.16,30.90) scale(1.0300,1)" font-family='"Liberation Sans", sans-serif' font-weight="bold" font-size="21.20" fill="#000">4.4</text>
<text transform="translate(73.92,106.30) scale(1.0300,1)" font-family='"Liberation Sans", sans-serif' font-weight="bold" font-size="21.20" fill="#000">4.0</text>
<text transform="translate(73.81,180.30) scale(1.0300,1)" font-family='"Liberation Sans", sans-serif' font-weight="bold" font-size="21.20" fill="#000">3.6</text>
<text transform="translate(73.92,254.30) scale(1.0300,1)" font-family='"Liberation Sans", sans-serif' font-weight="bold" font-size="21.20" fill="#000">3.2</text>
<text transform="translate(73.70,328.30) scale(1.0300,1)" font-family='"Liberation Sans", sans-serif' font-weight="bold" font-size="21.20" fill="#000">2.8</text>
<text transform="translate(124.21,401.50) scale(1.0000,1)" font-family='"Liberation Sans", sans-serif' font-weight="bold" font-size="22.30" fill="#000">0</text>
<text transform="translate(215.21,401.50) scale(1.0000,1)" font-family='"Liberation Sans", sans-serif' font-weight="bold" font-size="22.30" fill="#000">50</text>
<text transform="translate(305.71,401.50) scale(1.0000,1)" font-family='"Liberation Sans", sans-serif' font-weight="bold" font-size="22.30" fill="#000">100</text>
<text transform="translate(402.78,401.50) scale(1.0000,1)" font-family='"Liberation Sans", sans-serif' font-weight="bold" font-size="22.30" fill="#000">150</text>
<text transform="translate(500.19,401.50) scale(1.0000,1)" font-family='"Liberation Sans", sans-serif' font-weight="bold" font-size="22.30" fill="#000">200</text>
<text transform="translate(194.81,451.40) scale(0.9858,1)" font-family='"Liberation Sans", sans-serif' font-weight="bold" font-size="30.30" fill="#000">Capacity / mAh g</text>
<text transform="translate(438.13,444.60) scale(0.7734,1)" font-family='"Liberation Sans", sans-serif' font-weight="bold" font-size="31.50" fill="#000">-1</text>
<text transform="translate(49.70,327.70) rotate(-90) scale(0.9874,1)" font-family='"Liberation Sans", sans-serif' font-weight="bold" font-size="30.50" fill="#000">Voltage / V vs. Li</text>
<path d="M30,81 V89.2 M24.5,85.1 H35.3" stroke="#000" stroke-width="2.4"/>
<text transform="translate(49.70,78.59) rotate(-90) scale(0.9670,1)" font-family='"Liberation Sans", sans-serif' font-weight="bold" font-size="30.50" fill="#000">/Li</text>
<text transform="translate(1.32,25.83) scale(1.3549,1)" font-family='"Liberation Serif", serif' font-weight="bold" font-size="32.42" fill="#000">(</text>
<text transform="translate(15.10,30.07) scale(1.0138,1)" font-family='"Liberation Serif", serif' font-weight="bold" font-size="42.71" fill="#000">a</text>
<text transform="translate(35.17,25.92) scale(1.4550,1)" font-family='"Liberation Serif", serif' font-weight="bold" font-size="32.78" fill="#000">)</text>
<rect x="189.1" y="284.2" width="92.20000000000002" height="75.60000000000002" fill="#fff" stroke="#e4e4e4" stroke-width="1.5"/>
<line x1="189.1" y1="284.2" x2="281.3" y2="284.2" stroke="#6a6a6a" stroke-width="2"/>
<line x1="189.1" y1="359.8" x2="281.3" y2="359.8" stroke="#b0b0b0" stroke-width="2"/>
<line x1="191" y1="299.8" x2="232.5" y2="299.8" stroke="#4a4a4a" stroke-width="2.6"/>
<line x1="191" y1="325.2" x2="232.5" y2="325.2" stroke="#e0344a" stroke-width="2.6" stroke-dasharray="9.4 7.4"/>
<line x1="191" y1="350.5" x2="232.5" y2="350.5" stroke="#5656e4" stroke-width="2.6" stroke-dasharray="2.6 7.4"/>
<text transform="translate(237.54,306.20) scale(0.7978,1)" font-family='"Liberation Sans", sans-serif' font-weight="bold" font-size="18.60" fill="#000">1</text>
<text transform="translate(247.78,298.50) scale(1.0352,1)" font-family='"Liberation Sans", sans-serif' font-weight="bold" font-size="11.50" fill="#000">st</text>
<text transform="translate(237.48,331.00) scale(0.9521,1)" font-family='"Liberation Sans", sans-serif' font-weight="bold" font-size="18.60" fill="#000">2</text>
<text transform="translate(248.09,323.60) scale(1.0770,1)" font-family='"Liberation Sans", sans-serif' font-weight="bold" font-size="11.50" fill="#000">nd</text>
<text transform="translate(237.31,356.50) scale(0.9857,1)" font-family='"Liberation Sans", sans-serif' font-weight="bold" font-size="18.60" fill="#000">100</text>
<text transform="translate(268.48,349.10) scale(1.0733,1)" font-family='"Liberation Sans", sans-serif' font-weight="bold" font-size="11.50" fill="#000">th</text>
<path d="M767.3,65.9 L768.5,66.6 L769.7,67.4 L770.9,68.1 L772.1,68.9 L773.3,69.7 L774.5,70.4 L775.7,71.2 L776.9,72.0 L778.1,72.7 L779.3,73.5 L780.5,74.3 L781.7,75.0 L782.9,75.8 L784.1,76.6 L785.3,77.4 L786.5,78.2 L787.7,79.0 L788.9,79.7 L790.1,80.5 L791.3,81.3 L792.5,82.1 L793.6,82.9 L794.8,83.7 L796.0,84.5 L797.2,85.3 L798.4,86.1 L799.6,86.9 L800.8,87.7 L802.0,88.5 L803.1,89.3 L804.3,90.1 L805.5,90.9 L806.7,91.7 L807.9,92.5 L809.1,93.3 L810.3,94.1 L811.4,94.9 L812.6,95.7 L813.8,96.5 L815.0,97.3 L816.2,98.1 L817.4,98.9 L818.6,99.7 L819.8,100.5 L820.9,101.3 L822.1,102.1 L823.3,102.9 L824.5,103.7 L825.7,104.5 L826.9,105.3 L828.1,106.1 L829.3,106.9 L830.5,107.7 L831.7,108.5 L832.8,109.3 L834.0,110.1 L835.2,110.8 L836.4,111.6 L837.6,112.4 L838.8,113.2 L840.0,114.0 L841.2,114.8 L842.4,115.5 L843.6,116.3 L844.8,117.1 L846.0,117.8 L847.2,118.6 L848.4,119.4 L849.6,120.1 L850.9,120.9 L852.1,121.7 L853.3,122.4 L854.5,123.2 L855.7,123.9 L856.9,124.6 L858.1,125.4 L859.4,126.1 L860.6,126.9 L861.8,127.6 L863.0,128.3 L864.3,129.0 L865.5,129.8 L866.7,130.5 L867.9,131.2 L869.2,131.9 L870.4,132.6 L871.7,133.3 L872.9,134.0 L874.1,134.7 L875.4,135.4 L876.6,136.1 L877.9,136.8 L879.1,137.4 L880.4,138.1 L881.6,138.8 L882.9,139.4 L884.2,140.1 L885.4,140.7 L886.7,141.4 L887.9,142.0 L889.2,142.7 L890.5,143.3 L891.8,143.9 L893.0,144.5 L894.3,145.1 L895.6,145.7 L896.9,146.3 L898.2,146.9 L899.5,147.5 L900.8,148.1 L902.1,148.7 L903.4,149.3 L904.7,149.8 L906.0,150.4 L907.3,150.9 L908.6,151.5 L909.9,152.0 L911.2,152.6 L912.6,153.1 L913.9,153.6 L915.2,154.1 L916.5,154.6 L917.9,155.1 L919.2,155.6 L920.6,156.1 L921.9,156.6 L923.3,157.1 L924.6,157.5 L926.0,158.0 L927.3,158.5 L928.7,158.9 L930.0,159.4 L931.4,159.8 L932.8,160.3 L934.1,160.7 L935.5,161.1 L936.9,161.6 L938.2,162.0 L939.6,162.5 L941.0,162.9 L942.4,163.3 L943.7,163.8 L945.1,164.2 L946.5,164.6 L947.9,165.1 L949.2,165.5 L950.6,165.9 L952.0,166.4 L953.4,166.8 L954.7,167.2 L956.1,167.7 L957.5,168.1 L958.9,168.6 L960.2,169.1 L961.6,169.5 L963.0,170.0 L964.3,170.4 L965.7,170.9 L967.1,171.4 L968.4,171.9 L969.8,172.4 L971.1,172.9 L972.5,173.4 L973.9,173.9 L975.2,174.4 L976.6,175.0 L977.9,175.5 L979.2,176.1 L980.6,176.6 L981.9,177.2 L983.2,177.8 L984.6,178.4 L985.9,179.0 L987.2,179.6 L988.5,180.2 L989.8,180.8 L991.1,181.5 L992.4,182.1 L993.7,182.8 L995.0,183.5 L996.2,184.2 L997.5,184.9 L998.7,185.6 L999.9,186.4 L1001.1,187.2 L1002.3,187.9 L1003.5,188.7 L1004.6,189.6 L1005.8,190.4 L1006.9,191.3 L1007.9,192.1 L1009.0,193.0 L1010.0,193.9 L1011.0,194.9 L1012.0,195.8 L1012.9,196.8 L1013.9,197.8 L1014.7,198.9 L1015.6,199.9 L1016.4,201.0 L1017.2,202.1 L1018.0,203.2 L1018.7,204.3 L1019.5,205.5 L1020.2,206.6 L1020.8,207.8 L1021.5,209.0 L1022.1,210.3 L1022.7,211.5 L1023.3,212.8 L1023.8,214.0 L1024.3,215.3 L1024.9,216.6 L1025.3,217.9 L1025.8,219.3 L1026.3,220.6 L1026.7,222.0 L1027.1,223.3 L1027.5,224.7 L1027.9,226.1 L1028.3,227.5 L1028.6,228.9 L1029.0,230.3 L1029.3,231.7 L1029.6,233.1 L1029.9,234.6 L1030.2,236.0 L1030.5,237.4 L1030.8,238.9 L1031.0,240.3 L1031.3,241.8 L1031.5,243.2 L1031.8,244.7 L1032.0,246.1 L1032.2,247.6 L1032.4,249.1 L1032.6,250.5 L1032.8,252.0 L1033.1,253.4 L1033.3,254.9 L1033.5,256.3 L1033.7,257.8 L1033.8,259.2 L1034.0,260.7 L1034.2,262.1 L1034.4,263.5 L1034.6,265.0 L1034.8,266.4 L1035.0,267.8 L1035.2,269.2 L1035.4,270.6 L1035.6,272.1 L1035.8,273.5 L1035.9,274.9 L1036.1,276.3 L1036.3,277.7 L1036.5,279.1 L1036.7,280.5 L1036.9,281.9 L1037.1,283.3 L1037.2,284.7 L1037.4,286.1 L1037.6,287.5 L1037.8,288.9 L1038.0,290.3 L1038.2,291.7 L1038.3,293.1 L1038.5,294.5 L1038.7,295.9 L1038.9,297.3 L1039.1,298.7 L1039.3,300.1 L1039.5,301.5 L1039.6,302.9 L1039.8,304.3 L1040.0,305.7 L1040.2,307.1 L1040.4,308.5 L1040.6,309.9 L1040.8,311.3 L1041.0,312.7 L1041.1,314.1 L1041.3,315.5 L1041.5,316.9 L1041.7,318.3 L1041.9,319.7 L1042.1,321.1 L1042.3,322.6 L1042.5,324.0 L1042.7,325.4 L1042.9,326.8 L1043.1,328.3 L1043.3,329.7 L1043.5,331.1 L1043.7,332.6 L1043.9,334.0 L1044.1,335.5 L1044.4,336.9 L1044.6,338.4" fill="none" stroke="#5656e4" stroke-width="2.6" stroke-dasharray="2.4 5.8" stroke-linejoin="round" />
<path d="M767.3,332.0 L767.3,326.4 L767.3,318.8 L767.3,309.7 L767.4,299.8 L767.4,289.3 L767.4,278.8 L767.5,268.9 L767.5,260.0 L767.5,251.7 L767.6,243.2 L767.6,234.9 L767.6,226.8 L767.7,219.1 L767.8,211.9 L767.9,205.5 L768.0,200.0 L768.2,195.4 L768.4,191.7 L768.7,188.6 L769.0,186.2 L769.3,184.1 L769.5,182.5 L769.7,181.1 L769.9,179.8 L769.8,179.6 L770.8,179.4 L771.8,179.1 L772.8,178.8 L773.7,178.6 L774.7,178.3 L775.7,178.1 L776.7,177.8 L777.6,177.5 L778.6,177.3 L779.6,177.0 L780.6,176.8 L781.5,176.5 L782.5,176.2 L783.5,176.0 L784.5,175.7 L785.4,175.4 L786.4,175.2 L787.4,174.9 L788.4,174.7 L789.3,174.4 L790.3,174.1 L791.3,173.9 L792.3,173.6 L793.3,173.4 L794.2,173.1 L795.2,172.8 L796.2,172.6 L797.2,172.3 L798.1,172.0 L799.1,171.8 L800.1,171.5 L801.1,171.2 L802.0,171.0 L803.0,170.7 L804.0,170.5 L805.0,170.2 L806.0,169.9 L806.9,169.7 L807.9,169.4 L808.9,169.1 L809.9,168.9 L810.8,168.6 L811.8,168.3 L812.8,168.1 L813.8,167.8 L814.7,167.5 L815.7,167.2 L816.7,167.0 L817.7,166.7 L818.6,166.4 L819.6,166.2 L820.6,165.9 L821.6,165.6 L822.5,165.3 L823.5,165.1 L824.5,164.8 L825.5,164.5 L826.4,164.2 L827.4,164.0 L828.4,163.7 L829.4,163.4 L830.3,163.1 L831.3,162.8 L832.3,162.6 L833.3,162.3 L834.2,162.0 L835.2,161.7 L836.2,161.4 L837.1,161.2 L838.1,160.9 L839.1,160.6 L840.1,160.3 L841.0,160.0 L842.0,159.7 L843.0,159.4 L843.9,159.1 L844.9,158.8 L845.9,158.6 L846.8,158.3 L847.8,158.0 L848.8,157.7 L849.7,157.4 L850.7,157.1 L851.7,156.8 L852.6,156.5 L853.6,156.2 L854.6,155.9 L855.5,155.6 L856.5,155.3 L857.5,155.0 L858.4,154.7 L859.4,154.4 L860.4,154.1 L861.3,153.8 L862.3,153.5 L863.2,153.1 L864.2,152.8 L865.2,152.5 L866.1,152.2 L867.1,151.9 L868.0,151.6 L869.0,151.3 L870.0,150.9 L870.9,150.6 L871.9,150.3 L872.8,150.0 L873.8,149.7 L874.7,149.3 L875.7,149.0 L876.7,148.7 L877.6,148.4 L878.6,148.0 L879.5,147.7 L880.5,147.4 L881.4,147.0 L882.4,146.7 L883.3,146.4 L884.3,146.0 L885.2,145.7 L886.2,145.3 L887.1,145.0 L888.1,144.7 L889.0,144.3 L890.0,144.0 L890.9,143.6 L891.9,143.3 L892.8,142.9 L893.7,142.6 L894.7,142.2 L895.6,141.9 L896.6,141.5 L897.5,141.1 L898.5,140.8 L899.4,140.4 L900.3,140.1 L901.3,139.7 L902.2,139.3 L903.2,139.0 L904.1,138.6 L905.0,138.2 L906.0,137.8 L906.9,137.5 L907.8,137.1 L908.8,136.7 L909.7,136.3 L910.6,135.9 L911.6,135.6 L912.5,135.2 L913.4,134.8 L914.3,134.4 L915.3,134.0 L916.2,133.6 L917.1,133.2 L918.0,132.8 L919.0,132.4 L919.9,132.0 L920.8,131.6 L921.7,131.2 L922.7,130.8 L923.6,130.4 L924.5,130.0 L925.4,129.6 L926.3,129.2 L927.3,128.8 L928.2,128.3 L929.1,127.9 L930.0,127.5 L930.9,127.1 L931.8,126.6 L932.7,126.2 L933.6,125.8 L934.5,125.3 L935.5,124.9 L936.4,124.5 L937.3,124.0 L938.2,123.6 L939.1,123.2 L940.0,122.7 L940.9,122.3 L941.8,121.8 L942.7,121.4 L943.6,120.9 L944.5,120.5 L945.4,120.0 L946.3,119.5 L947.2,119.1 L948.1,118.6 L949.0,118.1 L949.9,117.7 L950.8,117.2 L951.6,116.7 L952.5,116.3 L953.4,115.8 L954.3,115.3 L955.2,114.8 L956.1,114.4 L957.0,113.9 L957.9,113.4 L958.8,112.9 L959.6,112.4 L960.5,112.0 L961.4,111.5 L962.3,111.0 L963.2,110.5 L964.1,110.0 L964.9,109.5 L965.8,109.0 L966.7,108.5 L967.6,108.0 L968.5,107.5 L969.3,107.0 L970.2,106.5 L971.1,106.0 L972.0,105.5 L972.8,105.0 L973.7,104.5 L974.6,104.0 L975.5,103.5 L976.3,103.0 L977.2,102.5 L978.1,102.0 L979.0,101.5 L979.8,101.0 L980.7,100.4 L981.6,99.9 L982.5,99.4 L983.3,98.9 L984.2,98.4 L985.1,97.9 L985.9,97.4 L986.8,96.8 L987.7,96.3 L988.6,95.8 L989.4,95.3 L990.3,94.8 L991.2,94.2 L992.0,93.7 L992.9,93.2 L993.8,92.7 L994.6,92.2 L995.5,91.6 L996.4,91.1 L997.2,90.6 L998.1,90.1 L999.0,89.6 L999.8,89.0 L1000.7,88.5 L1001.6,88.0 L1002.4,87.5 L1003.3,86.9 L1004.2,86.4 L1005.0,85.9 L1005.9,85.4 L1006.8,84.9 L1007.6,84.3 L1008.5,83.8 L1009.4,83.3 L1010.2,82.8 L1011.1,82.2 L1012.0,81.7 L1012.8,81.2 L1013.7,80.7 L1014.6,80.2 L1015.4,79.6 L1016.3,79.1 L1017.2,78.6 L1018.0,78.1 L1018.9,77.5 L1019.8,77.0 L1020.6,76.5 L1021.5,76.0 L1022.4,75.5 L1023.2,75.0 L1024.1,74.4 L1025.0,73.9 L1025.9,73.4 L1026.7,72.9 L1027.6,72.4 L1028.5,71.9 L1029.3,71.4 L1030.2,70.8 L1031.1,70.3 L1031.9,69.8 L1032.8,69.3 L1033.7,68.8 L1034.6,68.3 L1035.4,67.8 L1036.3,67.3 L1037.2,66.8 L1038.0,66.3 L1038.9,65.8 L1039.8,65.3 L1040.7,64.8 L1041.5,64.3 L1042.4,63.8 L1043.3,63.3 L1044.2,62.8 L1045.0,62.3 L1045.9,61.8" fill="none" stroke="#5656e4" stroke-width="2.6" stroke-dasharray="2.4 5.8" stroke-linejoin="round" />
<path d="M767.4,64.4 L769.0,64.7 L770.6,65.2 L772.1,65.6 L773.7,66.1 L775.2,66.6 L776.8,67.2 L778.3,67.8 L779.8,68.4 L781.2,69.1 L782.7,69.8 L784.2,70.5 L785.6,71.2 L787.1,72.0 L788.5,72.7 L789.9,73.5 L791.3,74.3 L792.7,75.1 L794.2,75.9 L795.6,76.8 L797.0,77.6 L798.4,78.4 L799.8,79.3 L801.2,80.1 L802.6,80.9 L804.0,81.7 L805.4,82.6 L806.8,83.4 L808.2,84.1 L809.6,84.9 L811.1,85.7 L812.5,86.5 L813.9,87.2 L815.4,88.0 L816.8,88.7 L818.2,89.5 L819.7,90.2 L821.1,90.9 L822.5,91.7 L824.0,92.4 L825.4,93.1 L826.9,93.8 L828.3,94.5 L829.8,95.2 L831.2,95.9 L832.7,96.6 L834.2,97.3 L835.6,98.0 L837.1,98.7 L838.5,99.4 L840.0,100.1 L841.5,100.8 L842.9,101.5 L844.4,102.1 L845.9,102.8 L847.3,103.5 L848.8,104.2 L850.3,104.9 L851.7,105.6 L853.2,106.3 L854.7,107.0 L856.1,107.7 L857.6,108.4 L859.1,109.1 L860.5,109.9 L862.0,110.6 L863.5,111.3 L864.9,112.0 L866.4,112.8 L867.9,113.5 L869.3,114.2 L870.8,115.0 L872.3,115.7 L873.8,116.4 L875.2,117.2 L876.7,117.9 L878.2,118.6 L879.6,119.4 L881.1,120.1 L882.6,120.8 L884.0,121.6 L885.5,122.3 L887.0,123.0 L888.5,123.7 L890.0,124.5 L891.4,125.2 L892.9,125.9 L894.4,126.6 L895.9,127.3 L897.4,128.0 L898.8,128.7 L900.3,129.4 L901.8,130.1 L903.3,130.7 L904.8,131.4 L906.3,132.1 L907.8,132.7 L909.3,133.4 L910.8,134.0 L912.3,134.6 L913.8,135.3 L915.3,135.9 L916.8,136.5 L918.3,137.1 L919.9,137.6 L921.4,138.2 L922.9,138.8 L924.4,139.3 L925.9,139.9 L927.5,140.4 L929.0,140.9 L930.5,141.4 L932.1,141.9 L933.6,142.4 L935.1,142.9 L936.7,143.4 L938.2,143.9 L939.8,144.3 L941.3,144.8 L942.9,145.2 L944.4,145.7 L946.0,146.1 L947.5,146.5 L949.1,147.0 L950.7,147.4 L952.2,147.8 L953.8,148.2 L955.3,148.6 L956.9,149.0 L958.5,149.4 L960.0,149.8 L961.6,150.2 L963.2,150.6 L964.7,151.0 L966.3,151.3 L967.9,151.7 L969.5,152.1 L971.0,152.5 L972.6,152.8 L974.2,153.2 L975.8,153.6 L977.4,154.0 L978.9,154.4 L980.5,154.7 L982.1,155.1 L983.7,155.5 L985.3,155.9 L986.8,156.3 L988.4,156.6 L990.0,157.0 L991.6,157.4 L993.2,157.8 L994.7,158.2 L996.3,158.6 L997.9,159.0 L999.5,159.4 L1001.1,159.8 L1002.6,160.2 L1004.2,160.7 L1005.8,161.1 L1007.4,161.5 L1009.0,162.0 L1010.5,162.4 L1012.1,162.9 L1013.7,163.3 L1015.3,163.8 L1016.9,164.3 L1018.4,164.8 L1020.0,165.3 L1021.6,165.8 L1023.1,166.3 L1024.7,166.8 L1026.3,167.3 L1027.9,167.9 L1029.4,168.4 L1031.0,169.0 L1032.6,169.6 L1034.1,170.2 L1035.7,170.8 L1037.2,171.4 L1038.8,172.0 L1040.3,172.6 L1041.9,173.3 L1043.4,173.9 L1044.9,174.6 L1046.4,175.3 L1047.9,176.0 L1049.4,176.7 L1050.9,177.5 L1052.3,178.2 L1053.8,179.0 L1055.2,179.8 L1056.6,180.6 L1058.0,181.5 L1059.4,182.3 L1060.8,183.2 L1062.1,184.1 L1063.5,185.0 L1064.8,185.9 L1066.1,186.9 L1067.3,187.9 L1068.6,188.9 L1069.8,189.9 L1071.0,191.0 L1072.1,192.0 L1073.3,193.1 L1074.4,194.3 L1075.4,195.4 L1076.5,196.6 L1077.5,197.8 L1078.5,199.0 L1079.4,200.3 L1080.4,201.6 L1081.3,202.9 L1082.1,204.2 L1083.0,205.6 L1083.8,206.9 L1084.5,208.3 L1085.3,209.7 L1086.0,211.2 L1086.7,212.6 L1087.4,214.1 L1088.0,215.6 L1088.7,217.1 L1089.3,218.6 L1089.9,220.1 L1090.4,221.7 L1090.9,223.2 L1091.5,224.8 L1092.0,226.4 L1092.4,227.9 L1092.9,229.5 L1093.3,231.1 L1093.8,232.7 L1094.2,234.3 L1094.6,235.9 L1094.9,237.5 L1095.3,239.1 L1095.6,240.7 L1096.0,242.3 L1096.3,243.9 L1096.6,245.5 L1096.9,247.2 L1097.2,248.8 L1097.5,250.4 L1097.7,252.0 L1098.0,253.6 L1098.2,255.3 L1098.5,256.9 L1098.7,258.5 L1099.0,260.1 L1099.2,261.8 L1099.4,263.4 L1099.6,265.0 L1099.9,266.6 L1100.1,268.3 L1100.3,269.9 L1100.5,271.5 L1100.7,273.1 L1101.0,274.7 L1101.2,276.4 L1101.4,278.0 L1101.6,279.6 L1101.9,281.2 L1102.1,282.8 L1102.3,284.4 L1102.5,286.0 L1102.8,287.6 L1103.0,289.2 L1103.2,290.8 L1103.4,292.4 L1103.7,294.0 L1103.9,295.6 L1104.1,297.2 L1104.4,298.8 L1104.6,300.4 L1104.8,302.0 L1105.0,303.6 L1105.2,305.3 L1105.4,306.9 L1105.7,308.5 L1105.9,310.1 L1106.1,311.7 L1106.3,313.3 L1106.5,314.9 L1106.7,316.5 L1106.8,318.1 L1107.0,319.7 L1107.2,321.4 L1107.4,323.0 L1107.5,324.6 L1107.7,326.2 L1107.9,327.8 L1108.0,329.5 L1108.1,331.1 L1108.3,332.7 L1108.4,334.4 L1108.5,336.0 L1108.6,337.7 L1108.8,339.3" fill="none" stroke="#e0344a" stroke-width="2.8" stroke-dasharray="8 5" stroke-linejoin="round" />
<path d="M767.3,332.0 L767.3,326.4 L767.3,318.8 L767.3,309.7 L767.4,299.8 L767.4,289.3 L767.4,278.8 L767.5,268.9 L767.5,260.0 L767.5,251.7 L767.6,243.3 L767.6,235.0 L767.6,226.9 L767.7,219.3 L767.8,212.1 L767.9,205.6 L768.0,200.0 L768.1,195.2 L768.3,191.2 L768.4,187.8 L768.5,185.0 L768.7,182.6 L769.0,180.6 L769.4,178.8 L769.9,177.1 L770.6,175.7 L771.5,174.8 L772.5,174.2 L773.6,173.9 L774.7,173.7 L775.7,173.7 L776.5,173.6 L777.1,173.5 L777.1,173.5 L778.3,173.2 L779.5,173.0 L780.7,172.7 L781.9,172.5 L783.1,172.3 L784.3,172.0 L785.6,171.8 L786.8,171.6 L788.0,171.3 L789.2,171.1 L790.4,170.9 L791.6,170.6 L792.8,170.4 L794.0,170.2 L795.2,169.9 L796.4,169.7 L797.6,169.5 L798.9,169.2 L800.1,169.0 L801.3,168.8 L802.5,168.5 L803.7,168.3 L804.9,168.1 L806.1,167.8 L807.3,167.6 L808.5,167.4 L809.8,167.1 L811.0,166.9 L812.2,166.7 L813.4,166.4 L814.6,166.2 L815.8,166.0 L817.0,165.8 L818.2,165.5 L819.5,165.3 L820.7,165.1 L821.9,164.8 L823.1,164.6 L824.3,164.4 L825.5,164.1 L826.7,163.9 L827.9,163.7 L829.2,163.4 L830.4,163.2 L831.6,163.0 L832.8,162.7 L834.0,162.5 L835.2,162.3 L836.4,162.0 L837.6,161.8 L838.9,161.5 L840.1,161.3 L841.3,161.1 L842.5,160.8 L843.7,160.6 L844.9,160.3 L846.1,160.1 L847.3,159.9 L848.6,159.6 L849.8,159.4 L851.0,159.1 L852.2,158.9 L853.4,158.6 L854.6,158.4 L855.8,158.1 L857.0,157.9 L858.2,157.6 L859.4,157.4 L860.7,157.1 L861.9,156.9 L863.1,156.6 L864.3,156.4 L865.5,156.1 L866.7,155.9 L867.9,155.6 L869.1,155.4 L870.3,155.1 L871.5,154.8 L872.7,154.6 L873.9,154.3 L875.1,154.0 L876.3,153.8 L877.5,153.5 L878.8,153.2 L880.0,153.0 L881.2,152.7 L882.4,152.4 L883.6,152.1 L884.8,151.9 L886.0,151.6 L887.2,151.3 L888.4,151.0 L889.6,150.7 L890.8,150.5 L892.0,150.2 L893.2,149.9 L894.4,149.6 L895.6,149.3 L896.8,149.0 L898.0,148.7 L899.2,148.4 L900.4,148.1 L901.6,147.8 L902.7,147.5 L903.9,147.2 L905.1,146.9 L906.3,146.6 L907.5,146.3 L908.7,146.0 L909.9,145.7 L911.1,145.4 L912.3,145.1 L913.5,144.7 L914.7,144.4 L915.8,144.1 L917.0,143.8 L918.2,143.4 L919.4,143.1 L920.6,142.8 L921.8,142.4 L923.0,142.1 L924.1,141.8 L925.3,141.4 L926.5,141.1 L927.7,140.7 L928.9,140.4 L930.0,140.0 L931.2,139.7 L932.4,139.3 L933.6,139.0 L934.7,138.6 L935.9,138.2 L937.1,137.9 L938.3,137.5 L939.4,137.1 L940.6,136.7 L941.8,136.3 L942.9,136.0 L944.1,135.6 L945.3,135.2 L946.4,134.8 L947.6,134.4 L948.8,134.0 L949.9,133.6 L951.1,133.2 L952.2,132.8 L953.4,132.4 L954.5,131.9 L955.7,131.5 L956.9,131.1 L958.0,130.7 L959.2,130.2 L960.3,129.8 L961.5,129.4 L962.6,128.9 L963.8,128.5 L964.9,128.0 L966.0,127.6 L967.2,127.1 L968.3,126.7 L969.5,126.2 L970.6,125.7 L971.8,125.3 L972.9,124.8 L974.0,124.3 L975.2,123.9 L976.3,123.4 L977.4,122.9 L978.6,122.4 L979.7,121.9 L980.8,121.4 L982.0,121.0 L983.1,120.5 L984.2,120.0 L985.4,119.5 L986.5,119.0 L987.6,118.5 L988.7,118.0 L989.9,117.5 L991.0,117.0 L992.1,116.5 L993.2,115.9 L994.4,115.4 L995.5,114.9 L996.6,114.4 L997.7,113.9 L998.8,113.4 L1000.0,112.9 L1001.1,112.3 L1002.2,111.8 L1003.3,111.3 L1004.4,110.8 L1005.6,110.2 L1006.7,109.7 L1007.8,109.2 L1008.9,108.6 L1010.0,108.1 L1011.1,107.6 L1012.2,107.1 L1013.4,106.5 L1014.5,106.0 L1015.6,105.4 L1016.7,104.9 L1017.8,104.4 L1018.9,103.8 L1020.0,103.3 L1021.1,102.8 L1022.3,102.2 L1023.4,101.7 L1024.5,101.1 L1025.6,100.6 L1026.7,100.1 L1027.8,99.5 L1028.9,99.0 L1030.0,98.4 L1031.2,97.9 L1032.3,97.3 L1033.4,96.8 L1034.5,96.3 L1035.6,95.7 L1036.7,95.2 L1037.8,94.6 L1038.9,94.1 L1040.0,93.6 L1041.1,93.0 L1042.3,92.5 L1043.4,91.9 L1044.5,91.4 L1045.6,90.9 L1046.7,90.3 L1047.8,89.8 L1048.9,89.2 L1050.0,88.7 L1051.2,88.2 L1052.3,87.6 L1053.4,87.1 L1054.5,86.6 L1055.6,86.0 L1056.7,85.5 L1057.8,85.0 L1059.0,84.5 L1060.1,83.9 L1061.2,83.4 L1062.3,82.9 L1063.4,82.4 L1064.5,81.8 L1065.7,81.3 L1066.8,80.8 L1067.9,80.3 L1069.0,79.8 L1070.1,79.3 L1071.3,78.7 L1072.4,78.2 L1073.5,77.7 L1074.6,77.2 L1075.7,76.7 L1076.9,76.2 L1078.0,75.7 L1079.1,75.2 L1080.3,74.8 L1081.4,74.3 L1082.5,73.8 L1083.7,73.3 L1084.8,72.9 L1085.9,72.4 L1087.1,71.9 L1088.2,71.5 L1089.3,71.0 L1090.5,70.6 L1091.6,70.1 L1092.8,69.7 L1093.9,69.3 L1095.1,68.9 L1096.2,68.4 L1097.4,68.0 L1098.6,67.6 L1099.7,67.3 L1100.9,66.9 L1102.0,66.5 L1103.2,66.1 L1104.4,65.8 L1105.6,65.4 L1106.7,65.1 L1107.9,64.7 L1109.1,64.4 L1110.3,64.1 L1111.5,63.8 L1112.7,63.5 L1113.9,63.2 L1115.1,62.9 L1116.3,62.7 L1117.5,62.4 L1118.7,62.1 L1119.9,61.9 L1121.1,61.7 L1122.3,61.5 L1123.6,61.3 L1124.8,61.1 L1126.0,60.9" fill="none" stroke="#e0344a" stroke-width="2.8" stroke-dasharray="8 5" stroke-linejoin="round" />
<path d="M767.2,64.8 L768.8,65.0 L770.4,65.3 L771.9,65.7 L773.5,66.1 L775.0,66.5 L776.5,67.0 L777.9,67.6 L779.4,68.1 L780.8,68.8 L782.2,69.4 L783.6,70.1 L785.0,70.8 L786.3,71.6 L787.7,72.3 L789.1,73.1 L790.4,73.9 L791.7,74.7 L793.1,75.6 L794.4,76.4 L795.7,77.3 L797.0,78.1 L798.4,78.9 L799.7,79.8 L801.0,80.6 L802.3,81.5 L803.6,82.3 L805.0,83.2 L806.3,84.0 L807.6,84.8 L809.0,85.7 L810.3,86.5 L811.6,87.3 L813.0,88.1 L814.3,89.0 L815.6,89.8 L817.0,90.6 L818.3,91.4 L819.7,92.2 L821.0,93.0 L822.4,93.8 L823.7,94.5 L825.1,95.3 L826.4,96.1 L827.8,96.9 L829.2,97.6 L830.6,98.4 L831.9,99.1 L833.3,99.8 L834.7,100.6 L836.1,101.3 L837.5,102.0 L838.9,102.7 L840.3,103.4 L841.7,104.1 L843.1,104.8 L844.5,105.5 L845.9,106.2 L847.3,106.8 L848.7,107.5 L850.1,108.2 L851.6,108.9 L853.0,109.5 L854.4,110.2 L855.8,110.8 L857.2,111.5 L858.7,112.2 L860.1,112.8 L861.5,113.5 L862.9,114.1 L864.3,114.8 L865.8,115.5 L867.2,116.1 L868.6,116.8 L870.0,117.4 L871.5,118.1 L872.9,118.8 L874.3,119.4 L875.7,120.1 L877.1,120.8 L878.5,121.5 L880.0,122.2 L881.4,122.8 L882.8,123.5 L884.2,124.2 L885.6,124.9 L887.0,125.7 L888.4,126.4 L889.8,127.1 L891.2,127.8 L892.6,128.5 L894.0,129.2 L895.4,129.9 L896.8,130.6 L898.2,131.3 L899.6,132.0 L901.0,132.6 L902.4,133.3 L903.9,133.9 L905.3,134.5 L906.7,135.1 L908.2,135.7 L909.6,136.3 L911.1,136.9 L912.5,137.5 L914.0,138.0 L915.4,138.5 L916.9,139.1 L918.4,139.6 L919.9,140.1 L921.3,140.6 L922.8,141.1 L924.3,141.6 L925.8,142.0 L927.3,142.5 L928.8,143.0 L930.3,143.4 L931.8,143.9 L933.3,144.3 L934.8,144.7 L936.3,145.2 L937.8,145.6 L939.3,146.0 L940.9,146.4 L942.4,146.8 L943.9,147.2 L945.4,147.6 L946.9,148.0 L948.5,148.4 L950.0,148.8 L951.5,149.2 L953.0,149.6 L954.5,150.0 L956.1,150.4 L957.6,150.7 L959.1,151.1 L960.6,151.5 L962.2,151.9 L963.7,152.3 L965.2,152.7 L966.7,153.1 L968.3,153.5 L969.8,153.9 L971.3,154.3 L972.8,154.7 L974.3,155.1 L975.9,155.5 L977.4,155.9 L978.9,156.3 L980.4,156.7 L981.9,157.2 L983.4,157.6 L984.9,158.0 L986.4,158.5 L987.9,158.9 L989.4,159.4 L990.9,159.9 L992.4,160.3 L993.9,160.8 L995.4,161.3 L996.8,161.8 L998.3,162.3 L999.8,162.8 L1001.3,163.4 L1002.7,163.9 L1004.2,164.5 L1005.6,165.0 L1007.1,165.6 L1008.5,166.2 L1010.0,166.8 L1011.4,167.4 L1012.8,168.0 L1014.3,168.7 L1015.7,169.3 L1017.1,170.0 L1018.5,170.7 L1019.9,171.4 L1021.3,172.1 L1022.7,172.8 L1024.1,173.5 L1025.5,174.3 L1026.9,175.1 L1028.2,175.9 L1029.6,176.7 L1030.9,177.5 L1032.3,178.3 L1033.6,179.2 L1034.9,180.1 L1036.2,181.0 L1037.5,181.9 L1038.7,182.9 L1040.0,183.9 L1041.1,184.9 L1042.3,186.0 L1043.4,187.1 L1044.4,188.2 L1045.5,189.4 L1046.4,190.6 L1047.3,191.8 L1048.2,193.1 L1049.0,194.5 L1049.7,195.8 L1050.4,197.2 L1051.0,198.7 L1051.6,200.1 L1052.2,201.6 L1052.7,203.1 L1053.1,204.6 L1053.6,206.2 L1054.0,207.7 L1054.5,209.2 L1054.9,210.7 L1055.3,212.3 L1055.7,213.8 L1056.1,215.3 L1056.5,216.8 L1056.9,218.3 L1057.4,219.8 L1057.9,221.3 L1058.4,222.7 L1058.9,224.1 L1059.5,225.5 L1060.2,226.9 L1060.9,228.3 L1061.6,229.6 L1062.5,230.8 L1063.3,232.1 L1064.3,233.3 L1065.3,234.5 L1066.3,235.6 L1067.3,236.8 L1068.2,238.0 L1069.2,239.2 L1070.1,240.5 L1071.0,241.7 L1071.8,243.0 L1072.7,244.3 L1073.5,245.5 L1074.3,246.8 L1075.1,248.2 L1075.8,249.5 L1076.5,250.8 L1077.2,252.2 L1077.9,253.6 L1078.5,254.9 L1079.2,256.3 L1079.8,257.7 L1080.4,259.1 L1080.9,260.6 L1081.5,262.0 L1082.0,263.4 L1082.5,264.9 L1083.0,266.3 L1083.5,267.8 L1084.0,269.3 L1084.4,270.8 L1084.8,272.3 L1085.2,273.8 L1085.6,275.3 L1086.0,276.8 L1086.3,278.3 L1086.7,279.9 L1087.0,281.4 L1087.3,282.9 L1087.6,284.5 L1087.9,286.0 L1088.2,287.6 L1088.5,289.1 L1088.7,290.7 L1088.9,292.3 L1089.2,293.8 L1089.4,295.4 L1089.6,297.0 L1089.8,298.6 L1090.0,300.2 L1090.1,301.7 L1090.3,303.3 L1090.5,304.9 L1090.6,306.5 L1090.8,308.1 L1090.9,309.7 L1091.0,311.2 L1091.1,312.8 L1091.3,314.4 L1091.4,316.0 L1091.5,317.6 L1091.6,319.2 L1091.7,320.7 L1091.7,322.3 L1091.8,323.9 L1091.9,325.4 L1092.0,327.0 L1092.1,328.6 L1092.1,330.1 L1092.2,331.7 L1092.3,333.2 L1092.4,334.8 L1092.4,336.3 L1092.5,337.8 L1092.6,339.3" fill="none" stroke="#1a1a1a" stroke-width="2.5" stroke-linejoin="round" />
<path d="M767.5,275.0 L767.5,269.2 L767.5,261.4 L767.5,252.1 L767.5,241.9 L767.5,231.1 L767.6,220.2 L767.6,209.6 L767.6,200.0 L767.6,190.7 L767.7,181.0 L767.7,171.3 L767.8,161.7 L767.8,152.5 L767.9,144.0 L767.9,136.4 L768.0,130.0 L768.1,124.8 L768.1,120.7 L768.2,117.4 L768.3,114.9 L768.3,112.8 L768.4,111.1 L768.5,109.6 L768.6,108.0 L768.7,106.6 L768.8,105.6 L768.9,104.9 L769.0,104.4 L769.1,104.2 L769.2,104.0 L769.4,104.0 L769.5,103.9 L769.7,103.9 L769.8,104.1 L770.0,104.4 L770.1,104.8 L770.3,105.3 L770.5,105.7 L770.8,106.2 L771.0,106.5 L771.2,106.8 L771.4,107.1 L771.7,107.3 L771.9,107.6 L772.2,107.9 L772.5,108.1 L773.0,108.3 L773.5,108.5 L774.2,108.7 L775.1,108.8 L776.2,109.0 L777.3,109.1 L778.3,109.2 L779.3,109.3 L780.1,109.3 L780.7,109.4 L780.8,109.7 L782.0,109.3 L783.3,108.8 L784.5,108.4 L785.7,108.0 L787.0,107.5 L788.2,107.1 L789.4,106.7 L790.6,106.2 L791.9,105.8 L793.1,105.4 L794.3,104.9 L795.5,104.5 L796.8,104.1 L798.0,103.7 L799.2,103.3 L800.4,102.9 L801.7,102.5 L802.9,102.1 L804.1,101.7 L805.4,101.4 L806.6,101.0 L807.9,100.7 L809.1,100.4 L810.4,100.1 L811.6,99.8 L812.9,99.5 L814.1,99.3 L815.4,99.0 L816.7,98.8 L818.0,98.6 L819.2,98.4 L820.5,98.2 L821.8,98.0 L823.1,97.8 L824.3,97.6 L825.6,97.4 L826.9,97.2 L828.2,97.0 L829.5,96.8 L830.7,96.6 L832.0,96.5 L833.3,96.3 L834.6,96.1 L835.9,95.9 L837.2,95.7 L838.5,95.6 L839.7,95.4 L841.0,95.2 L842.3,95.0 L843.6,94.9 L844.9,94.7 L846.2,94.5 L847.5,94.4 L848.7,94.2 L850.0,94.0 L851.3,93.8 L852.6,93.7 L853.9,93.5 L855.2,93.3 L856.5,93.2 L857.8,93.0 L859.1,92.8 L860.4,92.7 L861.6,92.5 L862.9,92.3 L864.2,92.2 L865.5,92.0 L866.8,91.9 L868.1,91.7 L869.4,91.5 L870.7,91.4 L872.0,91.2 L873.3,91.1 L874.6,90.9 L875.9,90.7 L877.1,90.6 L878.4,90.4 L879.7,90.3 L881.0,90.1 L882.3,90.0 L883.6,89.8 L884.9,89.7 L886.2,89.5 L887.5,89.4 L888.8,89.2 L890.1,89.0 L891.4,88.9 L892.7,88.7 L894.0,88.6 L895.3,88.4 L896.5,88.3 L897.8,88.1 L899.1,88.0 L900.4,87.8 L901.7,87.7 L903.0,87.5 L904.3,87.4 L905.6,87.2 L906.9,87.1 L908.2,87.0 L909.5,86.8 L910.8,86.7 L912.1,86.5 L913.4,86.4 L914.7,86.2 L916.0,86.1 L917.2,85.9 L918.5,85.8 L919.8,85.6 L921.1,85.5 L922.4,85.3 L923.7,85.2 L925.0,85.1 L926.3,84.9 L927.6,84.8 L928.9,84.6 L930.2,84.5 L931.5,84.3 L932.8,84.2 L934.1,84.1 L935.4,83.9 L936.7,83.8 L937.9,83.6 L939.2,83.5 L940.5,83.4 L941.8,83.2 L943.1,83.1 L944.4,82.9 L945.7,82.8 L947.0,82.7 L948.3,82.5 L949.6,82.4 L950.9,82.3 L952.2,82.1 L953.5,82.0 L954.8,81.8 L956.1,81.7 L957.3,81.6 L958.6,81.4 L959.9,81.3 L961.2,81.2 L962.5,81.0 L963.8,80.9 L965.1,80.8 L966.4,80.6 L967.7,80.5 L969.0,80.4 L970.3,80.2 L971.6,80.1 L972.9,79.9 L974.2,79.8 L975.5,79.7 L976.7,79.6 L978.0,79.4 L979.3,79.3 L980.6,79.2 L981.9,79.0 L983.2,78.9 L984.5,78.8 L985.8,78.6 L987.1,78.5 L988.4,78.4 L989.7,78.2 L991.0,78.1 L992.3,78.0 L993.6,77.8 L994.9,77.7 L996.2,77.6 L997.4,77.5 L998.7,77.3 L1000.0,77.2 L1001.3,77.1 L1002.6,76.9 L1003.9,76.8 L1005.2,76.7 L1006.5,76.6 L1007.8,76.4 L1009.1,76.3 L1010.4,76.2 L1011.7,76.1 L1013.0,75.9 L1014.3,75.8 L1015.6,75.7 L1016.9,75.5 L1018.1,75.4 L1019.4,75.3 L1020.7,75.2 L1022.0,75.0 L1023.3,74.9 L1024.6,74.8 L1025.9,74.7 L1027.2,74.5 L1028.5,74.4 L1029.8,74.3 L1031.1,74.2 L1032.4,74.1 L1033.7,73.9 L1035.0,73.8 L1036.3,73.7 L1037.6,73.6 L1038.8,73.4 L1040.1,73.3 L1041.4,73.2 L1042.7,73.1 L1044.0,73.0 L1045.3,72.8 L1046.6,72.7 L1047.9,72.6 L1049.2,72.5 L1050.5,72.3 L1051.8,72.2 L1053.1,72.1 L1054.4,72.0 L1055.7,71.9 L1057.0,71.7 L1058.3,71.6 L1059.6,71.5 L1060.9,71.4 L1062.1,71.3 L1063.4,71.1 L1064.7,71.0 L1066.0,70.9 L1067.3,70.8 L1068.6,70.7 L1069.9,70.5 L1071.2,70.4 L1072.5,70.3 L1073.8,70.2 L1075.1,70.1 L1076.4,70.0 L1077.7,69.8 L1079.0,69.7 L1080.3,69.6 L1081.6,69.5 L1082.9,69.4 L1084.2,69.2 L1085.5,69.1 L1086.7,69.0 L1088.0,68.9 L1089.3,68.8 L1090.6,68.7 L1091.9,68.5 L1093.2,68.4 L1094.5,68.3 L1095.8,68.2 L1097.1,68.1 L1098.4,68.0 L1099.7,67.8 L1101.0,67.7 L1102.3,67.6 L1103.6,67.5 L1104.9,67.4 L1106.2,67.3 L1107.5,67.2 L1108.8,67.0 L1110.1,66.9 L1111.4,66.8 L1112.7,66.7 L1114.0,66.6 L1115.3,66.5 L1116.5,66.4 L1117.8,66.2 L1119.1,66.1 L1120.4,66.0 L1121.7,65.9 L1123.0,65.8 L1124.3,65.7 L1125.6,65.6 L1126.9,65.4 L1128.2,65.3 L1129.5,65.2 L1130.8,65.1 L1132.1,65.0 L1133.4,64.9 L1134.7,64.8 L1136.0,64.6 L1137.3,64.5 L1138.6,64.4 L1139.9,64.3 L1141.2,64.2 L1142.5,64.1 L1143.8,64.0 L1145.1,63.9 L1146.4,63.7 L1147.7,63.6 L1149.0,63.5 L1150.3,63.4 L1151.6,63.3 L1152.9,63.2 L1154.1,63.1 L1155.4,63.0 L1156.7,62.8 L1158.0,62.7 L1159.3,62.6 L1160.6,62.5 L1161.9,62.4 L1163.2,62.3 L1164.5,62.2 L1165.8,62.1" fill="none" stroke="#1a1a1a" stroke-width="2.5" stroke-linejoin="round" />
<rect x="751.5" y="25" width="436.5" height="351.7" fill="none" stroke="#5c5c5c" stroke-width="2.4" stroke-linejoin="round"/>
<line x1="751.5" y1="25.0" x2="758.5" y2="25.0" stroke="#5c5c5c" stroke-width="1.6"/>
<line x1="751.5" y1="99.0" x2="758.5" y2="99.0" stroke="#5c5c5c" stroke-width="1.6"/>
<line x1="751.5" y1="173.0" x2="758.5" y2="173.0" stroke="#5c5c5c" stroke-width="1.6"/>
<line x1="751.5" y1="247.0" x2="758.5" y2="247.0" stroke="#5c5c5c" stroke-width="1.6"/>
<line x1="751.5" y1="321.0" x2="758.5" y2="321.0" stroke="#5c5c5c" stroke-width="1.6"/>
<line x1="751.5" y1="62.0" x2="755.0" y2="62.0" stroke="#5c5c5c" stroke-width="1.6"/>
<line x1="751.5" y1="136.0" x2="755.0" y2="136.0" stroke="#5c5c5c" stroke-width="1.6"/>
<line x1="751.5" y1="210.0" x2="755.0" y2="210.0" stroke="#5c5c5c" stroke-width="1.6"/>
<line x1="751.5" y1="284.0" x2="755.0" y2="284.0" stroke="#5c5c5c" stroke-width="1.6"/>
<line x1="751.5" y1="358.0" x2="755.0" y2="358.0" stroke="#5c5c5c" stroke-width="1.6"/>
<line x1="767.4" y1="376.7" x2="767.4" y2="369.7" stroke="#5c5c5c" stroke-width="1.6"/>
<line x1="847.0" y1="376.7" x2="847.0" y2="369.7" stroke="#5c5c5c" stroke-width="1.6"/>
<line x1="926.6" y1="376.7" x2="926.6" y2="369.7" stroke="#5c5c5c" stroke-width="1.6"/>
<line x1="1006.2" y1="376.7" x2="1006.2" y2="369.7" stroke="#5c5c5c" stroke-width="1.6"/>
<line x1="1085.8" y1="376.7" x2="1085.8" y2="369.7" stroke="#5c5c5c" stroke-width="1.6"/>
<line x1="1165.4" y1="376.7" x2="1165.4" y2="369.7" stroke="#5c5c5c" stroke-width="1.6"/>
<line x1="807.2" y1="376.7" x2="807.2" y2="373.2" stroke="#5c5c5c" stroke-width="1.6"/>
<line x1="886.8" y1="376.7" x2="886.8" y2="373.2" stroke="#5c5c5c" stroke-width="1.6"/>
<line x1="966.4" y1="376.7" x2="966.4" y2="373.2" stroke="#5c5c5c" stroke-width="1.6"/>
<line x1="1046.0" y1="376.7" x2="1046.0" y2="373.2" stroke="#5c5c5c" stroke-width="1.6"/>
<line x1="1125.6" y1="376.7" x2="1125.6" y2="373.2" stroke="#5c5c5c" stroke-width="1.6"/>
<text transform="translate(713.26,30.90) scale(1.0300,1)" font-family='"Liberation Sans", sans-serif' font-weight="bold" font-size="21.20" fill="#000">4.4</text>
<text transform="translate(714.02,106.30) scale(1.0300,1)" font-family='"Liberation Sans", sans-serif' font-weight="bold" font-size="21.20" fill="#000">4.0</text>
<text transform="translate(713.91,180.30) scale(1.0300,1)" font-family='"Liberation Sans", sans-serif' font-weight="bold" font-size="21.20" fill="#000">3.6</text>
<text transform="translate(714.02,254.30) scale(1.0300,1)" font-family='"Liberation Sans", sans-serif' font-weight="bold" font-size="21.20" fill="#000">3.2</text>
<text transform="translate(713.80,328.30) scale(1.0300,1)" font-family='"Liberation Sans", sans-serif' font-weight="bold" font-size="21.20" fill="#000">2.8</text>
<text transform="translate(761.21,401.50) scale(1.0000,1)" font-family='"Liberation Sans", sans-serif' font-weight="bold" font-size="22.30" fill="#000">0</text>
<text transform="translate(834.74,401.50) scale(1.0000,1)" font-family='"Liberation Sans", sans-serif' font-weight="bold" font-size="22.30" fill="#000">50</text>
<text transform="translate(907.76,401.50) scale(1.0000,1)" font-family='"Liberation Sans", sans-serif' font-weight="bold" font-size="22.30" fill="#000">100</text>
<text transform="translate(987.36,401.50) scale(1.0000,1)" font-family='"Liberation Sans", sans-serif' font-weight="bold" font-size="22.30" fill="#000">150</text>
<text transform="translate(1067.29,401.50) scale(1.0000,1)" font-family='"Liberation Sans", sans-serif' font-weight="bold" font-size="22.30" fill="#000">200</text>
<text transform="translate(1146.89,401.50) scale(1.0000,1)" font-family='"Liberation Sans", sans-serif' font-weight="bold" font-size="22.30" fill="#000">250</text>
<text transform="translate(840.21,447.50) scale(1.0104,1)" font-family='"Liberation Sans", sans-serif' font-weight="bold" font-size="29.50" fill="#000">Capacity / mAh g</text>
<text transform="translate(1082.62,436.75) scale(0.7596,1)" font-family='"Liberation Sans", sans-serif' font-weight="bold" font-size="22.50" fill="#000">-1</text>
<text transform="translate(689.70,327.70) rotate(-90) scale(0.9874,1)" font-family='"Liberation Sans", sans-serif' font-weight="bold" font-size="30.50" fill="#000">Voltage / V vs. Li</text>
<path d="M670,81 V89.2 M664.5,85.1 H675.3" stroke="#000" stroke-width="2.4"/>
<text transform="translate(689.70,78.59) rotate(-90) scale(0.9670,1)" font-family='"Liberation Sans", sans-serif' font-weight="bold" font-size="30.50" fill="#000">/Li</text>
<text transform="translate(643.36,25.50) scale(1.4667,1)" font-family='"Liberation Serif", serif' font-weight="bold" font-size="33.96" fill="#000">(</text>
<text transform="translate(660.02,29.60) scale(0.9703,1)" font-family='"Liberation Serif", serif' font-weight="bold" font-size="39.57" fill="#000">b</text>
<text transform="translate(678.83,25.68) scale(1.4414,1)" font-family='"Liberation Serif", serif' font-weight="bold" font-size="33.89" fill="#000">)</text>
<rect x="829.8" y="282.5" width="93.0" height="77.0" fill="#fff" stroke="#e4e4e4" stroke-width="1.5"/>
<line x1="829.8" y1="282.5" x2="922.8" y2="282.5" stroke="#6a6a6a" stroke-width="2"/>
<line x1="829.8" y1="359.5" x2="922.8" y2="359.5" stroke="#b0b0b0" stroke-width="2"/>
<line x1="831.7" y1="297" x2="873.9" y2="297" stroke="#4a4a4a" stroke-width="2.6"/>
<line x1="831.7" y1="322.8" x2="873.9" y2="322.8" stroke="#e0344a" stroke-width="2.6" stroke-dasharray="9.4 7.4"/>
<line x1="831.7" y1="348.1" x2="873.9" y2="348.1" stroke="#5656e4" stroke-width="2.6" stroke-dasharray="2.6 7.4"/>
<text transform="translate(878.59,303.40) scale(0.7515,1)" font-family='"Liberation Sans", sans-serif' font-weight="bold" font-size="18.60" fill="#000">1</text>
<text transform="translate(888.47,295.60) scale(1.0663,1)" font-family='"Liberation Sans", sans-serif' font-weight="bold" font-size="11.50" fill="#000">st</text>
<text transform="translate(878.93,328.90) scale(0.8737,1)" font-family='"Liberation Sans", sans-serif' font-weight="bold" font-size="18.60" fill="#000">2</text>
<text transform="translate(888.04,321.10) scale(1.1488,1)" font-family='"Liberation Sans", sans-serif' font-weight="bold" font-size="11.50" fill="#000">nd</text>
<text transform="translate(878.30,354.40) scale(0.9891,1)" font-family='"Liberation Sans", sans-serif' font-weight="bold" font-size="18.60" fill="#000">100</text>
<text transform="translate(909.38,345.80) scale(1.0137,1)" font-family='"Liberation Sans", sans-serif' font-weight="bold" font-size="11.50" fill="#000">th</text>
<path d="M132.6,576.6 L143.1,528.4 L153.7,526.9 L164.2,524.6 L174.8,525.4 L185.3,524.6 L195.9,523.1 L206.4,522.4 L216.9,522.4 L227.5,512.6 L238.1,520.1 L248.6,519.3 L259.1,521.6 L269.7,520.1 L280.2,512.6 L290.8,517.1 L301.4,514.8 L311.9,515.6 L322.5,517.8 L333.0,517.8 L343.6,519.3 L354.1,516.3 L364.6,513.3 L375.2,520.1 L385.8,512.6 L396.3,505.0 L406.9,512.6 L417.4,518.6 L428.0,518.6 L438.5,512.6 L449.1,515.0 L459.6,505.3 L470.2,522.5 L480.7,508.1 L491.2,518.9 L501.8,517.1 L512.4,516.2 L522.9,517.1 L533.5,515.3 L544.0,512.6 L554.5,514.4 L565.1,518.9 L575.7,517.1 L586.2,518.9 L596.8,517.1 L607.3,517.6 L617.9,515.7 L628.4,520.1 L639.0,518.1 L649.5,518.1 L660.1,519.1 L670.6,518.1 L681.2,516.1 L691.7,506.1 L702.2,523.1 L712.8,522.1 L723.4,515.1 L733.9,520.1 L744.5,513.1 L755.0,520.1 L765.6,524.1 L776.1,519.0 L786.7,518.8 L797.2,518.8 L807.8,518.8 L818.3,515.4 L828.9,515.4 L839.4,521.2 L850.0,513.1 L860.5,517.7 L871.1,520.0 L881.6,511.9 L892.2,515.4 L902.7,520.0 L913.2,520.0 L923.8,510.8 L934.4,515.4 L944.9,517.0 L955.5,520.1 L966.0,512.6 L976.6,521.3 L987.1,507.6 L997.7,520.1 L1008.2,517.6 L1018.8,517.6 L1029.3,520.1 L1039.8,517.6 L1050.4,511.3 L1061.0,515.1 L1071.5,520.1 L1082.1,517.6 L1092.6,517.6 L1103.2,517.6 L1113.7,503.8 L1124.2,517.6 L1134.8,515.1 L1145.3,523.9 L1155.9,506.3 L1166.5,517.6 L1177.0,518.8" fill="none" stroke="#f6c0c0" stroke-width="1.0" stroke-linejoin="round" />
<path d="M132.6,579.6 L143.1,562.2 L153.7,554.7 L164.2,550.2 L174.8,548.7 L185.3,549.5 L195.9,550.2 L206.4,551.7 L216.9,554.0 L227.5,551.7 L238.1,550.2 L248.6,549.5 L259.1,550.2 L269.7,551.7 L280.2,552.5 L290.8,552.5 L301.4,553.2 L311.9,552.5 L322.5,553.2 L333.0,554.0 L343.6,558.5 L354.1,558.5 L364.6,557.7 L375.2,566.8 L385.8,567.5 L396.3,561.5 L406.9,560.0 L417.4,557.7 L428.0,563.8 L438.5,564.6 L449.1,564.0 L459.6,556.8 L470.2,563.1 L480.7,557.7 L491.2,561.3 L501.8,561.3 L512.4,561.3 L522.9,563.1 L533.5,562.2 L544.0,562.2 L554.5,561.3 L565.1,563.1 L575.7,564.9 L586.2,565.8 L596.8,565.8 L607.3,566.0 L617.9,567.0 L628.4,568.3 L639.0,569.3 L649.5,569.3 L660.1,571.3 L670.6,572.3 L681.2,570.3 L691.7,561.2 L702.2,568.3 L712.8,574.3 L723.4,573.3 L733.9,574.3 L744.5,571.3 L755.0,575.3 L765.6,578.3 L776.1,581.2 L786.7,582.3 L797.2,582.3 L807.8,583.5 L818.3,590.4 L828.9,585.8 L839.4,590.4 L850.0,588.1 L860.5,588.1 L871.1,593.9 L881.6,595.0 L892.2,593.9 L902.7,593.9 L913.2,596.2 L923.8,596.2 L934.4,597.3 L944.9,598.8 L955.5,599.1 L966.0,599.1 L976.6,607.9 L987.1,602.8 L997.7,606.6 L1008.2,609.1 L1018.8,610.4 L1029.3,612.9 L1039.8,617.9 L1050.4,615.4 L1061.0,617.9 L1071.5,620.4 L1082.1,625.4 L1092.6,624.2 L1103.2,626.7 L1113.7,619.1 L1124.2,620.4 L1134.8,621.6 L1145.3,626.7 L1155.9,621.6 L1166.5,625.4 L1177.0,626.7" fill="none" stroke="#f6c0c0" stroke-width="1.0" stroke-linejoin="round" />
<path d="M132.6,558.5 L143.1,515.6 L153.7,514.8 L164.2,511.1 L174.8,509.6 L185.3,511.8 L195.9,514.1 L206.4,515.6 L216.9,514.8 L227.5,518.6 L238.1,512.6 L248.6,511.8 L259.1,513.3 L269.7,512.6 L280.2,518.6 L290.8,516.3 L301.4,509.6 L311.9,507.3 L322.5,516.3 L333.0,511.8 L343.6,511.8 L354.1,508.8 L364.6,517.1 L375.2,514.1 L385.8,508.8 L396.3,510.3 L406.9,521.6 L417.4,514.1 L428.0,508.8 L438.5,517.1 L449.1,502.0 L459.6,511.7 L470.2,511.7 L480.7,513.5 L491.2,513.5 L501.8,511.7 L512.4,511.7 L522.9,505.3 L533.5,511.7 L544.0,519.8 L554.5,505.3 L565.1,506.2 L575.7,513.5 L586.2,511.7 L596.8,511.7 L607.3,513.3 L617.9,510.0 L628.4,510.1 L639.0,514.1 L649.5,508.1 L660.1,514.1 L670.6,510.1 L681.2,510.1 L691.7,513.1 L702.2,515.1 L712.8,510.1 L723.4,508.1 L733.9,512.1 L744.5,515.1 L755.0,514.1 L765.6,514.1 L776.1,511.0 L786.7,510.8 L797.2,514.2 L807.8,513.1 L818.3,517.7 L828.9,501.5 L839.4,516.5 L850.0,502.7 L860.5,508.5 L871.1,516.5 L881.6,508.5 L892.2,520.0 L902.7,513.1 L913.2,514.2 L923.8,515.4 L934.4,501.5 L944.9,509.8 L955.5,511.3 L966.0,517.6 L976.6,515.1 L987.1,511.3 L997.7,511.3 L1008.2,507.6 L1018.8,507.6 L1029.3,515.1 L1039.8,512.6 L1050.4,518.8 L1061.0,505.0 L1071.5,511.3 L1082.1,507.6 L1092.6,515.1 L1103.2,505.0 L1113.7,518.8 L1124.2,500.0 L1134.8,517.6 L1145.3,511.3 L1155.9,520.1 L1166.5,506.3 L1177.0,510.1" fill="none" stroke="#a0a0f0" stroke-width="1.4" stroke-linejoin="round" />
<path d="M132.6,625.5 L143.1,597.6 L153.7,575.0 L164.2,565.3 L174.8,556.2 L185.3,556.2 L195.9,558.5 L206.4,563.0 L216.9,569.0 L227.5,577.3 L238.1,578.0 L248.6,578.0 L259.1,581.8 L269.7,585.6 L280.2,596.9 L290.8,604.4 L301.4,605.9 L311.9,606.6 L322.5,613.4 L333.0,611.9 L343.6,612.7 L354.1,613.4 L364.6,620.2 L375.2,622.5 L385.8,622.5 L396.3,623.2 L406.9,632.2 L417.4,636.7 L428.0,638.3 L438.5,647.0 L449.1,631.7 L459.6,634.4 L470.2,635.3 L480.7,638.0 L491.2,642.6 L501.8,644.4 L512.4,645.3 L522.9,643.5 L533.5,642.6 L544.0,651.6 L554.5,647.0 L565.1,642.6 L575.7,648.9 L586.2,649.8 L596.8,652.5 L607.3,654.5 L617.9,654.5 L628.4,655.6 L639.0,659.6 L649.5,657.6 L660.1,659.6 L670.6,658.6 L681.2,661.6 L691.7,662.6 L702.2,666.6 L712.8,666.6 L723.4,665.6 L733.9,666.6 L744.5,671.6 L755.0,671.6 L765.6,676.6 L776.1,677.0 L786.7,677.0 L797.2,679.2 L807.8,680.4 L818.3,685.0 L828.9,680.4 L839.4,685.0 L850.0,678.1 L860.5,673.5 L871.1,677.0 L881.6,675.8 L892.2,683.9 L902.7,683.9 L913.2,685.0 L923.8,691.9 L934.4,686.2 L944.9,683.0 L955.5,689.3 L966.0,694.4 L976.6,693.1 L987.1,698.1 L997.7,703.1 L1008.2,703.1 L1018.8,703.1 L1029.3,700.6 L1039.8,703.1 L1050.4,708.2 L1061.0,709.4 L1071.5,708.2 L1082.1,710.7 L1092.6,711.9 L1103.2,713.2 L1113.7,716.9 L1124.2,711.9 L1134.8,715.7 L1145.3,718.2 L1155.9,724.5 L1166.5,727.0 L1177.0,723.2" fill="none" stroke="#a0a0f0" stroke-width="1.4" stroke-linejoin="round" />
<ellipse cx="132.6" cy="576.6" rx="5.2" ry="6.0" fill="none" stroke="#e96670" stroke-width="1.75"/>
<ellipse cx="143.1" cy="528.4" rx="5.2" ry="6.0" fill="none" stroke="#e96670" stroke-width="1.75"/>
<ellipse cx="153.7" cy="526.9" rx="5.2" ry="6.0" fill="none" stroke="#e96670" stroke-width="1.75"/>
<ellipse cx="164.2" cy="524.6" rx="5.2" ry="6.0" fill="none" stroke="#e96670" stroke-width="1.75"/>
<ellipse cx="174.8" cy="525.4" rx="5.2" ry="6.0" fill="none" stroke="#e96670" stroke-width="1.75"/>
<ellipse cx="185.3" cy="524.6" rx="5.2" ry="6.0" fill="none" stroke="#e96670" stroke-width="1.75"/>
<ellipse cx="195.9" cy="523.1" rx="5.2" ry="6.0" fill="none" stroke="#e96670" stroke-width="1.75"/>
<ellipse cx="206.4" cy="522.4" rx="5.2" ry="6.0" fill="none" stroke="#e96670" stroke-width="1.75"/>
<ellipse cx="216.9" cy="522.4" rx="5.2" ry="6.0" fill="none" stroke="#e96670" stroke-width="1.75"/>
<ellipse cx="227.5" cy="512.6" rx="5.2" ry="6.0" fill="none" stroke="#e96670" stroke-width="1.75"/>
<ellipse cx="238.1" cy="520.1" rx="5.2" ry="6.0" fill="none" stroke="#e96670" stroke-width="1.75"/>
<ellipse cx="248.6" cy="519.3" rx="5.2" ry="6.0" fill="none" stroke="#e96670" stroke-width="1.75"/>
<ellipse cx="259.1" cy="521.6" rx="5.2" ry="6.0" fill="none" stroke="#e96670" stroke-width="1.75"/>
<ellipse cx="269.7" cy="520.1" rx="5.2" ry="6.0" fill="none" stroke="#e96670" stroke-width="1.75"/>
<ellipse cx="280.2" cy="512.6" rx="5.2" ry="6.0" fill="none" stroke="#e96670" stroke-width="1.75"/>
<ellipse cx="290.8" cy="517.1" rx="5.2" ry="6.0" fill="none" stroke="#e96670" stroke-width="1.75"/>
<ellipse cx="301.4" cy="514.8" rx="5.2" ry="6.0" fill="none" stroke="#e96670" stroke-width="1.75"/>
<ellipse cx="311.9" cy="515.6" rx="5.2" ry="6.0" fill="none" stroke="#e96670" stroke-width="1.75"/>
<ellipse cx="322.5" cy="517.8" rx="5.2" ry="6.0" fill="none" stroke="#e96670" stroke-width="1.75"/>
<ellipse cx="333.0" cy="517.8" rx="5.2" ry="6.0" fill="none" stroke="#e96670" stroke-width="1.75"/>
<ellipse cx="343.6" cy="519.3" rx="5.2" ry="6.0" fill="none" stroke="#e96670" stroke-width="1.75"/>
<ellipse cx="354.1" cy="516.3" rx="5.2" ry="6.0" fill="none" stroke="#e96670" stroke-width="1.75"/>
<ellipse cx="364.6" cy="513.3" rx="5.2" ry="6.0" fill="none" stroke="#e96670" stroke-width="1.75"/>
<ellipse cx="375.2" cy="520.1" rx="5.2" ry="6.0" fill="none" stroke="#e96670" stroke-width="1.75"/>
<ellipse cx="385.8" cy="512.6" rx="5.2" ry="6.0" fill="none" stroke="#e96670" stroke-width="1.75"/>
<ellipse cx="396.3" cy="505.0" rx="5.2" ry="6.0" fill="none" stroke="#e96670" stroke-width="1.75"/>
<ellipse cx="406.9" cy="512.6" rx="5.2" ry="6.0" fill="none" stroke="#e96670" stroke-width="1.75"/>
<ellipse cx="417.4" cy="518.6" rx="5.2" ry="6.0" fill="none" stroke="#e96670" stroke-width="1.75"/>
<ellipse cx="428.0" cy="518.6" rx="5.2" ry="6.0" fill="none" stroke="#e96670" stroke-width="1.75"/>
<ellipse cx="438.5" cy="512.6" rx="5.2" ry="6.0" fill="none" stroke="#e96670" stroke-width="1.75"/>
<ellipse cx="449.1" cy="515.0" rx="5.2" ry="6.0" fill="none" stroke="#e96670" stroke-width="1.75"/>
<ellipse cx="459.6" cy="505.3" rx="5.2" ry="6.0" fill="none" stroke="#e96670" stroke-width="1.75"/>
<ellipse cx="470.2" cy="522.5" rx="5.2" ry="6.0" fill="none" stroke="#e96670" stroke-width="1.75"/>
<ellipse cx="480.7" cy="508.1" rx="5.2" ry="6.0" fill="none" stroke="#e96670" stroke-width="1.75"/>
<ellipse cx="491.2" cy="518.9" rx="5.2" ry="6.0" fill="none" stroke="#e96670" stroke-width="1.75"/>
<ellipse cx="501.8" cy="517.1" rx="5.2" ry="6.0" fill="none" stroke="#e96670" stroke-width="1.75"/>
<ellipse cx="512.4" cy="516.2" rx="5.2" ry="6.0" fill="none" stroke="#e96670" stroke-width="1.75"/>
<ellipse cx="522.9" cy="517.1" rx="5.2" ry="6.0" fill="none" stroke="#e96670" stroke-width="1.75"/>
<ellipse cx="533.5" cy="515.3" rx="5.2" ry="6.0" fill="none" stroke="#e96670" stroke-width="1.75"/>
<ellipse cx="544.0" cy="512.6" rx="5.2" ry="6.0" fill="none" stroke="#e96670" stroke-width="1.75"/>
<ellipse cx="554.5" cy="514.4" rx="5.2" ry="6.0" fill="none" stroke="#e96670" stroke-width="1.75"/>
<ellipse cx="565.1" cy="518.9" rx="5.2" ry="6.0" fill="none" stroke="#e96670" stroke-width="1.75"/>
<ellipse cx="575.7" cy="517.1" rx="5.2" ry="6.0" fill="none" stroke="#e96670" stroke-width="1.75"/>
<ellipse cx="586.2" cy="518.9" rx="5.2" ry="6.0" fill="none" stroke="#e96670" stroke-width="1.75"/>
<ellipse cx="596.8" cy="517.1" rx="5.2" ry="6.0" fill="none" stroke="#e96670" stroke-width="1.75"/>
<ellipse cx="607.3" cy="517.6" rx="5.2" ry="6.0" fill="none" stroke="#e96670" stroke-width="1.75"/>
<ellipse cx="617.9" cy="515.7" rx="5.2" ry="6.0" fill="none" stroke="#e96670" stroke-width="1.75"/>
<ellipse cx="628.4" cy="520.1" rx="5.2" ry="6.0" fill="none" stroke="#e96670" stroke-width="1.75"/>
<ellipse cx="639.0" cy="518.1" rx="5.2" ry="6.0" fill="none" stroke="#e96670" stroke-width="1.75"/>
<ellipse cx="649.5" cy="518.1" rx="5.2" ry="6.0" fill="none" stroke="#e96670" stroke-width="1.75"/>
<ellipse cx="660.1" cy="519.1" rx="5.2" ry="6.0" fill="none" stroke="#e96670" stroke-width="1.75"/>
<ellipse cx="670.6" cy="518.1" rx="5.2" ry="6.0" fill="none" stroke="#e96670" stroke-width="1.75"/>
<ellipse cx="681.2" cy="516.1" rx="5.2" ry="6.0" fill="none" stroke="#e96670" stroke-width="1.75"/>
<ellipse cx="691.7" cy="506.1" rx="5.2" ry="6.0" fill="none" stroke="#e96670" stroke-width="1.75"/>
<ellipse cx="702.2" cy="523.1" rx="5.2" ry="6.0" fill="none" stroke="#e96670" stroke-width="1.75"/>
<ellipse cx="712.8" cy="522.1" rx="5.2" ry="6.0" fill="none" stroke="#e96670" stroke-width="1.75"/>
<ellipse cx="723.4" cy="515.1" rx="5.2" ry="6.0" fill="none" stroke="#e96670" stroke-width="1.75"/>
<ellipse cx="733.9" cy="520.1" rx="5.2" ry="6.0" fill="none" stroke="#e96670" stroke-width="1.75"/>
<ellipse cx="744.5" cy="513.1" rx="5.2" ry="6.0" fill="none" stroke="#e96670" stroke-width="1.75"/>
<ellipse cx="755.0" cy="520.1" rx="5.2" ry="6.0" fill="none" stroke="#e96670" stroke-width="1.75"/>
<ellipse cx="765.6" cy="524.1" rx="5.2" ry="6.0" fill="none" stroke="#e96670" stroke-width="1.75"/>
<ellipse cx="776.1" cy="519.0" rx="5.2" ry="6.0" fill="none" stroke="#e96670" stroke-width="1.75"/>
<ellipse cx="786.7" cy="518.8" rx="5.2" ry="6.0" fill="none" stroke="#e96670" stroke-width="1.75"/>
<ellipse cx="797.2" cy="518.8" rx="5.2" ry="6.0" fill="none" stroke="#e96670" stroke-width="1.75"/>
<ellipse cx="807.8" cy="518.8" rx="5.2" ry="6.0" fill="none" stroke="#e96670" stroke-width="1.75"/>
<ellipse cx="818.3" cy="515.4" rx="5.2" ry="6.0" fill="none" stroke="#e96670" stroke-width="1.75"/>
<ellipse cx="828.9" cy="515.4" rx="5.2" ry="6.0" fill="none" stroke="#e96670" stroke-width="1.75"/>
<ellipse cx="839.4" cy="521.2" rx="5.2" ry="6.0" fill="none" stroke="#e96670" stroke-width="1.75"/>
<ellipse cx="850.0" cy="513.1" rx="5.2" ry="6.0" fill="none" stroke="#e96670" stroke-width="1.75"/>
<ellipse cx="860.5" cy="517.7" rx="5.2" ry="6.0" fill="none" stroke="#e96670" stroke-width="1.75"/>
<ellipse cx="871.1" cy="520.0" rx="5.2" ry="6.0" fill="none" stroke="#e96670" stroke-width="1.75"/>
<ellipse cx="881.6" cy="511.9" rx="5.2" ry="6.0" fill="none" stroke="#e96670" stroke-width="1.75"/>
<ellipse cx="892.2" cy="515.4" rx="5.2" ry="6.0" fill="none" stroke="#e96670" stroke-width="1.75"/>
<ellipse cx="902.7" cy="520.0" rx="5.2" ry="6.0" fill="none" stroke="#e96670" stroke-width="1.75"/>
<ellipse cx="913.2" cy="520.0" rx="5.2" ry="6.0" fill="none" stroke="#e96670" stroke-width="1.75"/>
<ellipse cx="923.8" cy="510.8" rx="5.2" ry="6.0" fill="none" stroke="#e96670" stroke-width="1.75"/>
<ellipse cx="934.4" cy="515.4" rx="5.2" ry="6.0" fill="none" stroke="#e96670" stroke-width="1.75"/>
<ellipse cx="944.9" cy="517.0" rx="5.2" ry="6.0" fill="none" stroke="#e96670" stroke-width="1.75"/>
<ellipse cx="955.5" cy="520.1" rx="5.2" ry="6.0" fill="none" stroke="#e96670" stroke-width="1.75"/>
<ellipse cx="966.0" cy="512.6" rx="5.2" ry="6.0" fill="none" stroke="#e96670" stroke-width="1.75"/>
<ellipse cx="976.6" cy="521.3" rx="5.2" ry="6.0" fill="none" stroke="#e96670" stroke-width="1.75"/>
<ellipse cx="987.1" cy="507.6" rx="5.2" ry="6.0" fill="none" stroke="#e96670" stroke-width="1.75"/>
<ellipse cx="997.7" cy="520.1" rx="5.2" ry="6.0" fill="none" stroke="#e96670" stroke-width="1.75"/>
<ellipse cx="1008.2" cy="517.6" rx="5.2" ry="6.0" fill="none" stroke="#e96670" stroke-width="1.75"/>
<ellipse cx="1018.8" cy="517.6" rx="5.2" ry="6.0" fill="none" stroke="#e96670" stroke-width="1.75"/>
<ellipse cx="1029.3" cy="520.1" rx="5.2" ry="6.0" fill="none" stroke="#e96670" stroke-width="1.75"/>
<ellipse cx="1039.8" cy="517.6" rx="5.2" ry="6.0" fill="none" stroke="#e96670" stroke-width="1.75"/>
<ellipse cx="1050.4" cy="511.3" rx="5.2" ry="6.0" fill="none" stroke="#e96670" stroke-width="1.75"/>
<ellipse cx="1061.0" cy="515.1" rx="5.2" ry="6.0" fill="none" stroke="#e96670" stroke-width="1.75"/>
<ellipse cx="1071.5" cy="520.1" rx="5.2" ry="6.0" fill="none" stroke="#e96670" stroke-width="1.75"/>
<ellipse cx="1082.1" cy="517.6" rx="5.2" ry="6.0" fill="none" stroke="#e96670" stroke-width="1.75"/>
<ellipse cx="1092.6" cy="517.6" rx="5.2" ry="6.0" fill="none" stroke="#e96670" stroke-width="1.75"/>
<ellipse cx="1103.2" cy="517.6" rx="5.2" ry="6.0" fill="none" stroke="#e96670" stroke-width="1.75"/>
<ellipse cx="1113.7" cy="503.8" rx="5.2" ry="6.0" fill="none" stroke="#e96670" stroke-width="1.75"/>
<ellipse cx="1124.2" cy="517.6" rx="5.2" ry="6.0" fill="none" stroke="#e96670" stroke-width="1.75"/>
<ellipse cx="1134.8" cy="515.1" rx="5.2" ry="6.0" fill="none" stroke="#e96670" stroke-width="1.75"/>
<ellipse cx="1145.3" cy="523.9" rx="5.2" ry="6.0" fill="none" stroke="#e96670" stroke-width="1.75"/>
<ellipse cx="1155.9" cy="506.3" rx="5.2" ry="6.0" fill="none" stroke="#e96670" stroke-width="1.75"/>
<ellipse cx="1166.5" cy="517.6" rx="5.2" ry="6.0" fill="none" stroke="#e96670" stroke-width="1.75"/>
<ellipse cx="1177.0" cy="518.8" rx="5.2" ry="6.0" fill="none" stroke="#e96670" stroke-width="1.75"/>
<ellipse cx="132.6" cy="579.6" rx="5.2" ry="6.0" fill="none" stroke="#e96670" stroke-width="1.75"/>
<ellipse cx="143.1" cy="562.2" rx="5.2" ry="6.0" fill="none" stroke="#e96670" stroke-width="1.75"/>
<ellipse cx="153.7" cy="554.7" rx="5.2" ry="6.0" fill="none" stroke="#e96670" stroke-width="1.75"/>
<ellipse cx="164.2" cy="550.2" rx="5.2" ry="6.0" fill="none" stroke="#e96670" stroke-width="1.75"/>
<ellipse cx="174.8" cy="548.7" rx="5.2" ry="6.0" fill="none" stroke="#e96670" stroke-width="1.75"/>
<ellipse cx="185.3" cy="549.5" rx="5.2" ry="6.0" fill="none" stroke="#e96670" stroke-width="1.75"/>
<ellipse cx="195.9" cy="550.2" rx="5.2" ry="6.0" fill="none" stroke="#e96670" stroke-width="1.75"/>
<ellipse cx="206.4" cy="551.7" rx="5.2" ry="6.0" fill="none" stroke="#e96670" stroke-width="1.75"/>
<ellipse cx="216.9" cy="554.0" rx="5.2" ry="6.0" fill="none" stroke="#e96670" stroke-width="1.75"/>
<ellipse cx="227.5" cy="551.7" rx="5.2" ry="6.0" fill="none" stroke="#e96670" stroke-width="1.75"/>
<ellipse cx="238.1" cy="550.2" rx="5.2" ry="6.0" fill="none" stroke="#e96670" stroke-width="1.75"/>
<ellipse cx="248.6" cy="549.5" rx="5.2" ry="6.0" fill="none" stroke="#e96670" stroke-width="1.75"/>
<ellipse cx="259.1" cy="550.2" rx="5.2" ry="6.0" fill="none" stroke="#e96670" stroke-width="1.75"/>
<ellipse cx="269.7" cy="551.7" rx="5.2" ry="6.0" fill="none" stroke="#e96670" stroke-width="1.75"/>
<ellipse cx="280.2" cy="552.5" rx="5.2" ry="6.0" fill="none" stroke="#e96670" stroke-width="1.75"/>
<ellipse cx="290.8" cy="552.5" rx="5.2" ry="6.0" fill="none" stroke="#e96670" stroke-width="1.75"/>
<ellipse cx="301.4" cy="553.2" rx="5.2" ry="6.0" fill="none" stroke="#e96670" stroke-width="1.75"/>
<ellipse cx="311.9" cy="552.5" rx="5.2" ry="6.0" fill="none" stroke="#e96670" stroke-width="1.75"/>
<ellipse cx="322.5" cy="553.2" rx="5.2" ry="6.0" fill="none" stroke="#e96670" stroke-width="1.75"/>
<ellipse cx="333.0" cy="554.0" rx="5.2" ry="6.0" fill="none" stroke="#e96670" stroke-width="1.75"/>
<ellipse cx="343.6" cy="558.5" rx="5.2" ry="6.0" fill="none" stroke="#e96670" stroke-width="1.75"/>
<ellipse cx="354.1" cy="558.5" rx="5.2" ry="6.0" fill="none" stroke="#e96670" stroke-width="1.75"/>
<ellipse cx="364.6" cy="557.7" rx="5.2" ry="6.0" fill="none" stroke="#e96670" stroke-width="1.75"/>
<ellipse cx="375.2" cy="566.8" rx="5.2" ry="6.0" fill="none" stroke="#e96670" stroke-width="1.75"/>
<ellipse cx="385.8" cy="567.5" rx="5.2" ry="6.0" fill="none" stroke="#e96670" stroke-width="1.75"/>
<ellipse cx="396.3" cy="561.5" rx="5.2" ry="6.0" fill="none" stroke="#e96670" stroke-width="1.75"/>
<ellipse cx="406.9" cy="560.0" rx="5.2" ry="6.0" fill="none" stroke="#e96670" stroke-width="1.75"/>
<ellipse cx="417.4" cy="557.7" rx="5.2" ry="6.0" fill="none" stroke="#e96670" stroke-width="1.75"/>
<ellipse cx="428.0" cy="563.8" rx="5.2" ry="6.0" fill="none" stroke="#e96670" stroke-width="1.75"/>
<ellipse cx="438.5" cy="564.6" rx="5.2" ry="6.0" fill="none" stroke="#e96670" stroke-width="1.75"/>
<ellipse cx="449.1" cy="564.0" rx="5.2" ry="6.0" fill="none" stroke="#e96670" stroke-width="1.75"/>
<ellipse cx="459.6" cy="556.8" rx="5.2" ry="6.0" fill="none" stroke="#e96670" stroke-width="1.75"/>
<ellipse cx="470.2" cy="563.1" rx="5.2" ry="6.0" fill="none" stroke="#e96670" stroke-width="1.75"/>
<ellipse cx="480.7" cy="557.7" rx="5.2" ry="6.0" fill="none" stroke="#e96670" stroke-width="1.75"/>
<ellipse cx="491.2" cy="561.3" rx="5.2" ry="6.0" fill="none" stroke="#e96670" stroke-width="1.75"/>
<ellipse cx="501.8" cy="561.3" rx="5.2" ry="6.0" fill="none" stroke="#e96670" stroke-width="1.75"/>
<ellipse cx="512.4" cy="561.3" rx="5.2" ry="6.0" fill="none" stroke="#e96670" stroke-width="1.75"/>
<ellipse cx="522.9" cy="563.1" rx="5.2" ry="6.0" fill="none" stroke="#e96670" stroke-width="1.75"/>
<ellipse cx="533.5" cy="562.2" rx="5.2" ry="6.0" fill="none" stroke="#e96670" stroke-width="1.75"/>
<ellipse cx="544.0" cy="562.2" rx="5.2" ry="6.0" fill="none" stroke="#e96670" stroke-width="1.75"/>
<ellipse cx="554.5" cy="561.3" rx="5.2" ry="6.0" fill="none" stroke="#e96670" stroke-width="1.75"/>
<ellipse cx="565.1" cy="563.1" rx="5.2" ry="6.0" fill="none" stroke="#e96670" stroke-width="1.75"/>
<ellipse cx="575.7" cy="564.9" rx="5.2" ry="6.0" fill="none" stroke="#e96670" stroke-width="1.75"/>
<ellipse cx="586.2" cy="565.8" rx="5.2" ry="6.0" fill="none" stroke="#e96670" stroke-width="1.75"/>
<ellipse cx="596.8" cy="565.8" rx="5.2" ry="6.0" fill="none" stroke="#e96670" stroke-width="1.75"/>
<ellipse cx="607.3" cy="566.0" rx="5.2" ry="6.0" fill="none" stroke="#e96670" stroke-width="1.75"/>
<ellipse cx="617.9" cy="567.0" rx="5.2" ry="6.0" fill="none" stroke="#e96670" stroke-width="1.75"/>
<ellipse cx="628.4" cy="568.3" rx="5.2" ry="6.0" fill="none" stroke="#e96670" stroke-width="1.75"/>
<ellipse cx="639.0" cy="569.3" rx="5.2" ry="6.0" fill="none" stroke="#e96670" stroke-width="1.75"/>
<ellipse cx="649.5" cy="569.3" rx="5.2" ry="6.0" fill="none" stroke="#e96670" stroke-width="1.75"/>
<ellipse cx="660.1" cy="571.3" rx="5.2" ry="6.0" fill="none" stroke="#e96670" stroke-width="1.75"/>
<ellipse cx="670.6" cy="572.3" rx="5.2" ry="6.0" fill="none" stroke="#e96670" stroke-width="1.75"/>
<ellipse cx="681.2" cy="570.3" rx="5.2" ry="6.0" fill="none" stroke="#e96670" stroke-width="1.75"/>
<ellipse cx="691.7" cy="561.2" rx="5.2" ry="6.0" fill="none" stroke="#e96670" stroke-width="1.75"/>
<ellipse cx="702.2" cy="568.3" rx="5.2" ry="6.0" fill="none" stroke="#e96670" stroke-width="1.75"/>
<ellipse cx="712.8" cy="574.3" rx="5.2" ry="6.0" fill="none" stroke="#e96670" stroke-width="1.75"/>
<ellipse cx="723.4" cy="573.3" rx="5.2" ry="6.0" fill="none" stroke="#e96670" stroke-width="1.75"/>
<ellipse cx="733.9" cy="574.3" rx="5.2" ry="6.0" fill="none" stroke="#e96670" stroke-width="1.75"/>
<ellipse cx="744.5" cy="571.3" rx="5.2" ry="6.0" fill="none" stroke="#e96670" stroke-width="1.75"/>
<ellipse cx="755.0" cy="575.3" rx="5.2" ry="6.0" fill="none" stroke="#e96670" stroke-width="1.75"/>
<ellipse cx="765.6" cy="578.3" rx="5.2" ry="6.0" fill="none" stroke="#e96670" stroke-width="1.75"/>
<ellipse cx="776.1" cy="581.2" rx="5.2" ry="6.0" fill="none" stroke="#e96670" stroke-width="1.75"/>
<ellipse cx="786.7" cy="582.3" rx="5.2" ry="6.0" fill="none" stroke="#e96670" stroke-width="1.75"/>
<ellipse cx="797.2" cy="582.3" rx="5.2" ry="6.0" fill="none" stroke="#e96670" stroke-width="1.75"/>
<ellipse cx="807.8" cy="583.5" rx="5.2" ry="6.0" fill="none" stroke="#e96670" stroke-width="1.75"/>
<ellipse cx="818.3" cy="590.4" rx="5.2" ry="6.0" fill="none" stroke="#e96670" stroke-width="1.75"/>
<ellipse cx="828.9" cy="585.8" rx="5.2" ry="6.0" fill="none" stroke="#e96670" stroke-width="1.75"/>
<ellipse cx="839.4" cy="590.4" rx="5.2" ry="6.0" fill="none" stroke="#e96670" stroke-width="1.75"/>
<ellipse cx="850.0" cy="588.1" rx="5.2" ry="6.0" fill="none" stroke="#e96670" stroke-width="1.75"/>
<ellipse cx="860.5" cy="588.1" rx="5.2" ry="6.0" fill="none" stroke="#e96670" stroke-width="1.75"/>
<ellipse cx="871.1" cy="593.9" rx="5.2" ry="6.0" fill="none" stroke="#e96670" stroke-width="1.75"/>
<ellipse cx="881.6" cy="595.0" rx="5.2" ry="6.0" fill="none" stroke="#e96670" stroke-width="1.75"/>
<ellipse cx="892.2" cy="593.9" rx="5.2" ry="6.0" fill="none" stroke="#e96670" stroke-width="1.75"/>
<ellipse cx="902.7" cy="593.9" rx="5.2" ry="6.0" fill="none" stroke="#e96670" stroke-width="1.75"/>
<ellipse cx="913.2" cy="596.2" rx="5.2" ry="6.0" fill="none" stroke="#e96670" stroke-width="1.75"/>
<ellipse cx="923.8" cy="596.2" rx="5.2" ry="6.0" fill="none" stroke="#e96670" stroke-width="1.75"/>
<ellipse cx="934.4" cy="597.3" rx="5.2" ry="6.0" fill="none" stroke="#e96670" stroke-width="1.75"/>
<ellipse cx="944.9" cy="598.8" rx="5.2" ry="6.0" fill="none" stroke="#e96670" stroke-width="1.75"/>
<ellipse cx="955.5" cy="599.1" rx="5.2" ry="6.0" fill="none" stroke="#e96670" stroke-width="1.75"/>
<ellipse cx="966.0" cy="599.1" rx="5.2" ry="6.0" fill="none" stroke="#e96670" stroke-width="1.75"/>
<ellipse cx="976.6" cy="607.9" rx="5.2" ry="6.0" fill="none" stroke="#e96670" stroke-width="1.75"/>
<ellipse cx="987.1" cy="602.8" rx="5.2" ry="6.0" fill="none" stroke="#e96670" stroke-width="1.75"/>
<ellipse cx="997.7" cy="606.6" rx="5.2" ry="6.0" fill="none" stroke="#e96670" stroke-width="1.75"/>
<ellipse cx="1008.2" cy="609.1" rx="5.2" ry="6.0" fill="none" stroke="#e96670" stroke-width="1.75"/>
<ellipse cx="1018.8" cy="610.4" rx="5.2" ry="6.0" fill="none" stroke="#e96670" stroke-width="1.75"/>
<ellipse cx="1029.3" cy="612.9" rx="5.2" ry="6.0" fill="none" stroke="#e96670" stroke-width="1.75"/>
<ellipse cx="1039.8" cy="617.9" rx="5.2" ry="6.0" fill="none" stroke="#e96670" stroke-width="1.75"/>
<ellipse cx="1050.4" cy="615.4" rx="5.2" ry="6.0" fill="none" stroke="#e96670" stroke-width="1.75"/>
<ellipse cx="1061.0" cy="617.9" rx="5.2" ry="6.0" fill="none" stroke="#e96670" stroke-width="1.75"/>
<ellipse cx="1071.5" cy="620.4" rx="5.2" ry="6.0" fill="none" stroke="#e96670" stroke-width="1.75"/>
<ellipse cx="1082.1" cy="625.4" rx="5.2" ry="6.0" fill="none" stroke="#e96670" stroke-width="1.75"/>
<ellipse cx="1092.6" cy="624.2" rx="5.2" ry="6.0" fill="none" stroke="#e96670" stroke-width="1.75"/>
<ellipse cx="1103.2" cy="626.7" rx="5.2" ry="6.0" fill="none" stroke="#e96670" stroke-width="1.75"/>
<ellipse cx="1113.7" cy="619.1" rx="5.2" ry="6.0" fill="none" stroke="#e96670" stroke-width="1.75"/>
<ellipse cx="1124.2" cy="620.4" rx="5.2" ry="6.0" fill="none" stroke="#e96670" stroke-width="1.75"/>
<ellipse cx="1134.8" cy="621.6" rx="5.2" ry="6.0" fill="none" stroke="#e96670" stroke-width="1.75"/>
<ellipse cx="1145.3" cy="626.7" rx="5.2" ry="6.0" fill="none" stroke="#e96670" stroke-width="1.75"/>
<ellipse cx="1155.9" cy="621.6" rx="5.2" ry="6.0" fill="none" stroke="#e96670" stroke-width="1.75"/>
<ellipse cx="1166.5" cy="625.4" rx="5.2" ry="6.0" fill="none" stroke="#e96670" stroke-width="1.75"/>
<ellipse cx="1177.0" cy="626.7" rx="5.2" ry="6.0" fill="none" stroke="#e96670" stroke-width="1.75"/>
<ellipse cx="132.6" cy="558.5" rx="5.0" ry="6.2" fill="#fff" stroke="#7474f0" stroke-width="2.3"/>
<path d="M126.46,559.50 A6.15,7.35 0 1 1 138.64,559.50 Z" fill="#0000f0"/>
<ellipse cx="143.1" cy="515.6" rx="5.0" ry="6.2" fill="#fff" stroke="#7474f0" stroke-width="2.3"/>
<path d="M137.01,516.60 A6.15,7.35 0 1 1 149.19,516.60 Z" fill="#0000f0"/>
<ellipse cx="153.7" cy="514.8" rx="5.0" ry="6.2" fill="#fff" stroke="#7474f0" stroke-width="2.3"/>
<path d="M147.56,515.80 A6.15,7.35 0 1 1 159.74,515.80 Z" fill="#0000f0"/>
<ellipse cx="164.2" cy="511.1" rx="5.0" ry="6.2" fill="#fff" stroke="#7474f0" stroke-width="2.3"/>
<path d="M158.11,512.10 A6.15,7.35 0 1 1 170.29,512.10 Z" fill="#0000f0"/>
<ellipse cx="174.8" cy="509.6" rx="5.0" ry="6.2" fill="#fff" stroke="#7474f0" stroke-width="2.3"/>
<path d="M168.66,510.60 A6.15,7.35 0 1 1 180.84,510.60 Z" fill="#0000f0"/>
<ellipse cx="185.3" cy="511.8" rx="5.0" ry="6.2" fill="#fff" stroke="#7474f0" stroke-width="2.3"/>
<path d="M179.21,512.80 A6.15,7.35 0 1 1 191.39,512.80 Z" fill="#0000f0"/>
<ellipse cx="195.9" cy="514.1" rx="5.0" ry="6.2" fill="#fff" stroke="#7474f0" stroke-width="2.3"/>
<path d="M189.76,515.10 A6.15,7.35 0 1 1 201.94,515.10 Z" fill="#0000f0"/>
<ellipse cx="206.4" cy="515.6" rx="5.0" ry="6.2" fill="#fff" stroke="#7474f0" stroke-width="2.3"/>
<path d="M200.31,516.60 A6.15,7.35 0 1 1 212.49,516.60 Z" fill="#0000f0"/>
<ellipse cx="216.9" cy="514.8" rx="5.0" ry="6.2" fill="#fff" stroke="#7474f0" stroke-width="2.3"/>
<path d="M210.86,515.80 A6.15,7.35 0 1 1 223.04,515.80 Z" fill="#0000f0"/>
<ellipse cx="227.5" cy="518.6" rx="5.0" ry="6.2" fill="#fff" stroke="#7474f0" stroke-width="2.3"/>
<path d="M221.41,519.60 A6.15,7.35 0 1 1 233.59,519.60 Z" fill="#0000f0"/>
<ellipse cx="238.1" cy="512.6" rx="5.0" ry="6.2" fill="#fff" stroke="#7474f0" stroke-width="2.3"/>
<path d="M231.96,513.60 A6.15,7.35 0 1 1 244.14,513.60 Z" fill="#0000f0"/>
<ellipse cx="248.6" cy="511.8" rx="5.0" ry="6.2" fill="#fff" stroke="#7474f0" stroke-width="2.3"/>
<path d="M242.51,512.80 A6.15,7.35 0 1 1 254.69,512.80 Z" fill="#0000f0"/>
<ellipse cx="259.1" cy="513.3" rx="5.0" ry="6.2" fill="#fff" stroke="#7474f0" stroke-width="2.3"/>
<path d="M253.06,514.30 A6.15,7.35 0 1 1 265.24,514.30 Z" fill="#0000f0"/>
<ellipse cx="269.7" cy="512.6" rx="5.0" ry="6.2" fill="#fff" stroke="#7474f0" stroke-width="2.3"/>
<path d="M263.61,513.60 A6.15,7.35 0 1 1 275.79,513.60 Z" fill="#0000f0"/>
<ellipse cx="280.2" cy="518.6" rx="5.0" ry="6.2" fill="#fff" stroke="#7474f0" stroke-width="2.3"/>
<path d="M274.16,519.60 A6.15,7.35 0 1 1 286.34,519.60 Z" fill="#0000f0"/>
<ellipse cx="290.8" cy="516.3" rx="5.0" ry="6.2" fill="#fff" stroke="#7474f0" stroke-width="2.3"/>
<path d="M284.71,517.30 A6.15,7.35 0 1 1 296.89,517.30 Z" fill="#0000f0"/>
<ellipse cx="301.4" cy="509.6" rx="5.0" ry="6.2" fill="#fff" stroke="#7474f0" stroke-width="2.3"/>
<path d="M295.26,510.60 A6.15,7.35 0 1 1 307.44,510.60 Z" fill="#0000f0"/>
<ellipse cx="311.9" cy="507.3" rx="5.0" ry="6.2" fill="#fff" stroke="#7474f0" stroke-width="2.3"/>
<path d="M305.81,508.30 A6.15,7.35 0 1 1 317.99,508.30 Z" fill="#0000f0"/>
<ellipse cx="322.5" cy="516.3" rx="5.0" ry="6.2" fill="#fff" stroke="#7474f0" stroke-width="2.3"/>
<path d="M316.36,517.30 A6.15,7.35 0 1 1 328.54,517.30 Z" fill="#0000f0"/>
<ellipse cx="333.0" cy="511.8" rx="5.0" ry="6.2" fill="#fff" stroke="#7474f0" stroke-width="2.3"/>
<path d="M326.91,512.80 A6.15,7.35 0 1 1 339.09,512.80 Z" fill="#0000f0"/>
<ellipse cx="343.6" cy="511.8" rx="5.0" ry="6.2" fill="#fff" stroke="#7474f0" stroke-width="2.3"/>
<path d="M337.46,512.80 A6.15,7.35 0 1 1 349.64,512.80 Z" fill="#0000f0"/>
<ellipse cx="354.1" cy="508.8" rx="5.0" ry="6.2" fill="#fff" stroke="#7474f0" stroke-width="2.3"/>
<path d="M348.01,509.80 A6.15,7.35 0 1 1 360.19,509.80 Z" fill="#0000f0"/>
<ellipse cx="364.6" cy="517.1" rx="5.0" ry="6.2" fill="#fff" stroke="#7474f0" stroke-width="2.3"/>
<path d="M358.56,518.10 A6.15,7.35 0 1 1 370.74,518.10 Z" fill="#0000f0"/>
<ellipse cx="375.2" cy="514.1" rx="5.0" ry="6.2" fill="#fff" stroke="#7474f0" stroke-width="2.3"/>
<path d="M369.11,515.10 A6.15,7.35 0 1 1 381.29,515.10 Z" fill="#0000f0"/>
<ellipse cx="385.8" cy="508.8" rx="5.0" ry="6.2" fill="#fff" stroke="#7474f0" stroke-width="2.3"/>
<path d="M379.66,509.80 A6.15,7.35 0 1 1 391.84,509.80 Z" fill="#0000f0"/>
<ellipse cx="396.3" cy="510.3" rx="5.0" ry="6.2" fill="#fff" stroke="#7474f0" stroke-width="2.3"/>
<path d="M390.21,511.30 A6.15,7.35 0 1 1 402.39,511.30 Z" fill="#0000f0"/>
<ellipse cx="406.9" cy="521.6" rx="5.0" ry="6.2" fill="#fff" stroke="#7474f0" stroke-width="2.3"/>
<path d="M400.76,522.60 A6.15,7.35 0 1 1 412.94,522.60 Z" fill="#0000f0"/>
<ellipse cx="417.4" cy="514.1" rx="5.0" ry="6.2" fill="#fff" stroke="#7474f0" stroke-width="2.3"/>
<path d="M411.31,515.10 A6.15,7.35 0 1 1 423.49,515.10 Z" fill="#0000f0"/>
<ellipse cx="428.0" cy="508.8" rx="5.0" ry="6.2" fill="#fff" stroke="#7474f0" stroke-width="2.3"/>
<path d="M421.86,509.80 A6.15,7.35 0 1 1 434.04,509.80 Z" fill="#0000f0"/>
<ellipse cx="438.5" cy="517.1" rx="5.0" ry="6.2" fill="#fff" stroke="#7474f0" stroke-width="2.3"/>
<path d="M432.41,518.10 A6.15,7.35 0 1 1 444.59,518.10 Z" fill="#0000f0"/>
<ellipse cx="449.1" cy="502.0" rx="5.0" ry="6.2" fill="#fff" stroke="#7474f0" stroke-width="2.3"/>
<path d="M442.96,503.00 A6.15,7.35 0 1 1 455.14,503.00 Z" fill="#0000f0"/>
<ellipse cx="459.6" cy="511.7" rx="5.0" ry="6.2" fill="#fff" stroke="#7474f0" stroke-width="2.3"/>
<path d="M453.51,512.70 A6.15,7.35 0 1 1 465.69,512.70 Z" fill="#0000f0"/>
<ellipse cx="470.2" cy="511.7" rx="5.0" ry="6.2" fill="#fff" stroke="#7474f0" stroke-width="2.3"/>
<path d="M464.06,512.70 A6.15,7.35 0 1 1 476.24,512.70 Z" fill="#0000f0"/>
<ellipse cx="480.7" cy="513.5" rx="5.0" ry="6.2" fill="#fff" stroke="#7474f0" stroke-width="2.3"/>
<path d="M474.61,514.50 A6.15,7.35 0 1 1 486.79,514.50 Z" fill="#0000f0"/>
<ellipse cx="491.2" cy="513.5" rx="5.0" ry="6.2" fill="#fff" stroke="#7474f0" stroke-width="2.3"/>
<path d="M485.16,514.50 A6.15,7.35 0 1 1 497.34,514.50 Z" fill="#0000f0"/>
<ellipse cx="501.8" cy="511.7" rx="5.0" ry="6.2" fill="#fff" stroke="#7474f0" stroke-width="2.3"/>
<path d="M495.71,512.70 A6.15,7.35 0 1 1 507.89,512.70 Z" fill="#0000f0"/>
<ellipse cx="512.4" cy="511.7" rx="5.0" ry="6.2" fill="#fff" stroke="#7474f0" stroke-width="2.3"/>
<path d="M506.26,512.70 A6.15,7.35 0 1 1 518.44,512.70 Z" fill="#0000f0"/>
<ellipse cx="522.9" cy="505.3" rx="5.0" ry="6.2" fill="#fff" stroke="#7474f0" stroke-width="2.3"/>
<path d="M516.81,506.30 A6.15,7.35 0 1 1 528.99,506.30 Z" fill="#0000f0"/>
<ellipse cx="533.5" cy="511.7" rx="5.0" ry="6.2" fill="#fff" stroke="#7474f0" stroke-width="2.3"/>
<path d="M527.36,512.70 A6.15,7.35 0 1 1 539.54,512.70 Z" fill="#0000f0"/>
<ellipse cx="544.0" cy="519.8" rx="5.0" ry="6.2" fill="#fff" stroke="#7474f0" stroke-width="2.3"/>
<path d="M537.91,520.80 A6.15,7.35 0 1 1 550.09,520.80 Z" fill="#0000f0"/>
<ellipse cx="554.5" cy="505.3" rx="5.0" ry="6.2" fill="#fff" stroke="#7474f0" stroke-width="2.3"/>
<path d="M548.46,506.30 A6.15,7.35 0 1 1 560.64,506.30 Z" fill="#0000f0"/>
<ellipse cx="565.1" cy="506.2" rx="5.0" ry="6.2" fill="#fff" stroke="#7474f0" stroke-width="2.3"/>
<path d="M559.01,507.20 A6.15,7.35 0 1 1 571.19,507.20 Z" fill="#0000f0"/>
<ellipse cx="575.7" cy="513.5" rx="5.0" ry="6.2" fill="#fff" stroke="#7474f0" stroke-width="2.3"/>
<path d="M569.56,514.50 A6.15,7.35 0 1 1 581.74,514.50 Z" fill="#0000f0"/>
<ellipse cx="586.2" cy="511.7" rx="5.0" ry="6.2" fill="#fff" stroke="#7474f0" stroke-width="2.3"/>
<path d="M580.11,512.70 A6.15,7.35 0 1 1 592.29,512.70 Z" fill="#0000f0"/>
<ellipse cx="596.8" cy="511.7" rx="5.0" ry="6.2" fill="#fff" stroke="#7474f0" stroke-width="2.3"/>
<path d="M590.66,512.70 A6.15,7.35 0 1 1 602.84,512.70 Z" fill="#0000f0"/>
<ellipse cx="607.3" cy="513.3" rx="5.0" ry="6.2" fill="#fff" stroke="#7474f0" stroke-width="2.3"/>
<path d="M601.21,514.30 A6.15,7.35 0 1 1 613.39,514.30 Z" fill="#0000f0"/>
<ellipse cx="617.9" cy="510.0" rx="5.0" ry="6.2" fill="#fff" stroke="#7474f0" stroke-width="2.3"/>
<path d="M611.76,511.00 A6.15,7.35 0 1 1 623.94,511.00 Z" fill="#0000f0"/>
<ellipse cx="628.4" cy="510.1" rx="5.0" ry="6.2" fill="#fff" stroke="#7474f0" stroke-width="2.3"/>
<path d="M622.31,511.10 A6.15,7.35 0 1 1 634.49,511.10 Z" fill="#0000f0"/>
<ellipse cx="639.0" cy="514.1" rx="5.0" ry="6.2" fill="#fff" stroke="#7474f0" stroke-width="2.3"/>
<path d="M632.86,515.10 A6.15,7.35 0 1 1 645.04,515.10 Z" fill="#0000f0"/>
<ellipse cx="649.5" cy="508.1" rx="5.0" ry="6.2" fill="#fff" stroke="#7474f0" stroke-width="2.3"/>
<path d="M643.41,509.10 A6.15,7.35 0 1 1 655.59,509.10 Z" fill="#0000f0"/>
<ellipse cx="660.1" cy="514.1" rx="5.0" ry="6.2" fill="#fff" stroke="#7474f0" stroke-width="2.3"/>
<path d="M653.96,515.10 A6.15,7.35 0 1 1 666.14,515.10 Z" fill="#0000f0"/>
<ellipse cx="670.6" cy="510.1" rx="5.0" ry="6.2" fill="#fff" stroke="#7474f0" stroke-width="2.3"/>
<path d="M664.51,511.10 A6.15,7.35 0 1 1 676.69,511.10 Z" fill="#0000f0"/>
<ellipse cx="681.2" cy="510.1" rx="5.0" ry="6.2" fill="#fff" stroke="#7474f0" stroke-width="2.3"/>
<path d="M675.06,511.10 A6.15,7.35 0 1 1 687.24,511.10 Z" fill="#0000f0"/>
<ellipse cx="691.7" cy="513.1" rx="5.0" ry="6.2" fill="#fff" stroke="#7474f0" stroke-width="2.3"/>
<path d="M685.61,514.10 A6.15,7.35 0 1 1 697.79,514.10 Z" fill="#0000f0"/>
<ellipse cx="702.2" cy="515.1" rx="5.0" ry="6.2" fill="#fff" stroke="#7474f0" stroke-width="2.3"/>
<path d="M696.16,516.10 A6.15,7.35 0 1 1 708.34,516.10 Z" fill="#0000f0"/>
<ellipse cx="712.8" cy="510.1" rx="5.0" ry="6.2" fill="#fff" stroke="#7474f0" stroke-width="2.3"/>
<path d="M706.71,511.10 A6.15,7.35 0 1 1 718.89,511.10 Z" fill="#0000f0"/>
<ellipse cx="723.4" cy="508.1" rx="5.0" ry="6.2" fill="#fff" stroke="#7474f0" stroke-width="2.3"/>
<path d="M717.26,509.10 A6.15,7.35 0 1 1 729.44,509.10 Z" fill="#0000f0"/>
<ellipse cx="733.9" cy="512.1" rx="5.0" ry="6.2" fill="#fff" stroke="#7474f0" stroke-width="2.3"/>
<path d="M727.81,513.10 A6.15,7.35 0 1 1 739.99,513.10 Z" fill="#0000f0"/>
<ellipse cx="744.5" cy="515.1" rx="5.0" ry="6.2" fill="#fff" stroke="#7474f0" stroke-width="2.3"/>
<path d="M738.36,516.10 A6.15,7.35 0 1 1 750.54,516.10 Z" fill="#0000f0"/>
<ellipse cx="755.0" cy="514.1" rx="5.0" ry="6.2" fill="#fff" stroke="#7474f0" stroke-width="2.3"/>
<path d="M748.91,515.10 A6.15,7.35 0 1 1 761.09,515.10 Z" fill="#0000f0"/>
<ellipse cx="765.6" cy="514.1" rx="5.0" ry="6.2" fill="#fff" stroke="#7474f0" stroke-width="2.3"/>
<path d="M759.46,515.10 A6.15,7.35 0 1 1 771.64,515.10 Z" fill="#0000f0"/>
<ellipse cx="776.1" cy="511.0" rx="5.0" ry="6.2" fill="#fff" stroke="#7474f0" stroke-width="2.3"/>
<path d="M770.01,512.00 A6.15,7.35 0 1 1 782.19,512.00 Z" fill="#0000f0"/>
<ellipse cx="786.7" cy="510.8" rx="5.0" ry="6.2" fill="#fff" stroke="#7474f0" stroke-width="2.3"/>
<path d="M780.56,511.80 A6.15,7.35 0 1 1 792.74,511.80 Z" fill="#0000f0"/>
<ellipse cx="797.2" cy="514.2" rx="5.0" ry="6.2" fill="#fff" stroke="#7474f0" stroke-width="2.3"/>
<path d="M791.11,515.20 A6.15,7.35 0 1 1 803.29,515.20 Z" fill="#0000f0"/>
<ellipse cx="807.8" cy="513.1" rx="5.0" ry="6.2" fill="#fff" stroke="#7474f0" stroke-width="2.3"/>
<path d="M801.66,514.10 A6.15,7.35 0 1 1 813.84,514.10 Z" fill="#0000f0"/>
<ellipse cx="818.3" cy="517.7" rx="5.0" ry="6.2" fill="#fff" stroke="#7474f0" stroke-width="2.3"/>
<path d="M812.21,518.70 A6.15,7.35 0 1 1 824.39,518.70 Z" fill="#0000f0"/>
<ellipse cx="828.9" cy="501.5" rx="5.0" ry="6.2" fill="#fff" stroke="#7474f0" stroke-width="2.3"/>
<path d="M822.76,502.50 A6.15,7.35 0 1 1 834.94,502.50 Z" fill="#0000f0"/>
<ellipse cx="839.4" cy="516.5" rx="5.0" ry="6.2" fill="#fff" stroke="#7474f0" stroke-width="2.3"/>
<path d="M833.31,517.50 A6.15,7.35 0 1 1 845.49,517.50 Z" fill="#0000f0"/>
<ellipse cx="850.0" cy="502.7" rx="5.0" ry="6.2" fill="#fff" stroke="#7474f0" stroke-width="2.3"/>
<path d="M843.86,503.70 A6.15,7.35 0 1 1 856.04,503.70 Z" fill="#0000f0"/>
<ellipse cx="860.5" cy="508.5" rx="5.0" ry="6.2" fill="#fff" stroke="#7474f0" stroke-width="2.3"/>
<path d="M854.41,509.50 A6.15,7.35 0 1 1 866.59,509.50 Z" fill="#0000f0"/>
<ellipse cx="871.1" cy="516.5" rx="5.0" ry="6.2" fill="#fff" stroke="#7474f0" stroke-width="2.3"/>
<path d="M864.96,517.50 A6.15,7.35 0 1 1 877.14,517.50 Z" fill="#0000f0"/>
<ellipse cx="881.6" cy="508.5" rx="5.0" ry="6.2" fill="#fff" stroke="#7474f0" stroke-width="2.3"/>
<path d="M875.51,509.50 A6.15,7.35 0 1 1 887.69,509.50 Z" fill="#0000f0"/>
<ellipse cx="892.2" cy="520.0" rx="5.0" ry="6.2" fill="#fff" stroke="#7474f0" stroke-width="2.3"/>
<path d="M886.06,521.00 A6.15,7.35 0 1 1 898.24,521.00 Z" fill="#0000f0"/>
<ellipse cx="902.7" cy="513.1" rx="5.0" ry="6.2" fill="#fff" stroke="#7474f0" stroke-width="2.3"/>
<path d="M896.61,514.10 A6.15,7.35 0 1 1 908.79,514.10 Z" fill="#0000f0"/>
<ellipse cx="913.2" cy="514.2" rx="5.0" ry="6.2" fill="#fff" stroke="#7474f0" stroke-width="2.3"/>
<path d="M907.16,515.20 A6.15,7.35 0 1 1 919.34,515.20 Z" fill="#0000f0"/>
<ellipse cx="923.8" cy="515.4" rx="5.0" ry="6.2" fill="#fff" stroke="#7474f0" stroke-width="2.3"/>
<path d="M917.71,516.40 A6.15,7.35 0 1 1 929.89,516.40 Z" fill="#0000f0"/>
<ellipse cx="934.4" cy="501.5" rx="5.0" ry="6.2" fill="#fff" stroke="#7474f0" stroke-width="2.3"/>
<path d="M928.26,502.50 A6.15,7.35 0 1 1 940.44,502.50 Z" fill="#0000f0"/>
<ellipse cx="944.9" cy="509.8" rx="5.0" ry="6.2" fill="#fff" stroke="#7474f0" stroke-width="2.3"/>
<path d="M938.81,510.80 A6.15,7.35 0 1 1 950.99,510.80 Z" fill="#0000f0"/>
<ellipse cx="955.5" cy="511.3" rx="5.0" ry="6.2" fill="#fff" stroke="#7474f0" stroke-width="2.3"/>
<path d="M949.36,512.30 A6.15,7.35 0 1 1 961.54,512.30 Z" fill="#0000f0"/>
<ellipse cx="966.0" cy="517.6" rx="5.0" ry="6.2" fill="#fff" stroke="#7474f0" stroke-width="2.3"/>
<path d="M959.91,518.60 A6.15,7.35 0 1 1 972.09,518.60 Z" fill="#0000f0"/>
<ellipse cx="976.6" cy="515.1" rx="5.0" ry="6.2" fill="#fff" stroke="#7474f0" stroke-width="2.3"/>
<path d="M970.46,516.10 A6.15,7.35 0 1 1 982.64,516.10 Z" fill="#0000f0"/>
<ellipse cx="987.1" cy="511.3" rx="5.0" ry="6.2" fill="#fff" stroke="#7474f0" stroke-width="2.3"/>
<path d="M981.01,512.30 A6.15,7.35 0 1 1 993.19,512.30 Z" fill="#0000f0"/>
<ellipse cx="997.7" cy="511.3" rx="5.0" ry="6.2" fill="#fff" stroke="#7474f0" stroke-width="2.3"/>
<path d="M991.56,512.30 A6.15,7.35 0 1 1 1003.74,512.30 Z" fill="#0000f0"/>
<ellipse cx="1008.2" cy="507.6" rx="5.0" ry="6.2" fill="#fff" stroke="#7474f0" stroke-width="2.3"/>
<path d="M1002.11,508.60 A6.15,7.35 0 1 1 1014.29,508.60 Z" fill="#0000f0"/>
<ellipse cx="1018.8" cy="507.6" rx="5.0" ry="6.2" fill="#fff" stroke="#7474f0" stroke-width="2.3"/>
<path d="M1012.66,508.60 A6.15,7.35 0 1 1 1024.84,508.60 Z" fill="#0000f0"/>
<ellipse cx="1029.3" cy="515.1" rx="5.0" ry="6.2" fill="#fff" stroke="#7474f0" stroke-width="2.3"/>
<path d="M1023.21,516.10 A6.15,7.35 0 1 1 1035.39,516.10 Z" fill="#0000f0"/>
<ellipse cx="1039.8" cy="512.6" rx="5.0" ry="6.2" fill="#fff" stroke="#7474f0" stroke-width="2.3"/>
<path d="M1033.76,513.60 A6.15,7.35 0 1 1 1045.94,513.60 Z" fill="#0000f0"/>
<ellipse cx="1050.4" cy="518.8" rx="5.0" ry="6.2" fill="#fff" stroke="#7474f0" stroke-width="2.3"/>
<path d="M1044.31,519.80 A6.15,7.35 0 1 1 1056.49,519.80 Z" fill="#0000f0"/>
<ellipse cx="1061.0" cy="505.0" rx="5.0" ry="6.2" fill="#fff" stroke="#7474f0" stroke-width="2.3"/>
<path d="M1054.86,506.00 A6.15,7.35 0 1 1 1067.04,506.00 Z" fill="#0000f0"/>
<ellipse cx="1071.5" cy="511.3" rx="5.0" ry="6.2" fill="#fff" stroke="#7474f0" stroke-width="2.3"/>
<path d="M1065.41,512.30 A6.15,7.35 0 1 1 1077.59,512.30 Z" fill="#0000f0"/>
<ellipse cx="1082.1" cy="507.6" rx="5.0" ry="6.2" fill="#fff" stroke="#7474f0" stroke-width="2.3"/>
<path d="M1075.96,508.60 A6.15,7.35 0 1 1 1088.14,508.60 Z" fill="#0000f0"/>
<ellipse cx="1092.6" cy="515.1" rx="5.0" ry="6.2" fill="#fff" stroke="#7474f0" stroke-width="2.3"/>
<path d="M1086.51,516.10 A6.15,7.35 0 1 1 1098.69,516.10 Z" fill="#0000f0"/>
<ellipse cx="1103.2" cy="505.0" rx="5.0" ry="6.2" fill="#fff" stroke="#7474f0" stroke-width="2.3"/>
<path d="M1097.06,506.00 A6.15,7.35 0 1 1 1109.24,506.00 Z" fill="#0000f0"/>
<ellipse cx="1113.7" cy="518.8" rx="5.0" ry="6.2" fill="#fff" stroke="#7474f0" stroke-width="2.3"/>
<path d="M1107.61,519.80 A6.15,7.35 0 1 1 1119.79,519.80 Z" fill="#0000f0"/>
<ellipse cx="1124.2" cy="500.0" rx="5.0" ry="6.2" fill="#fff" stroke="#7474f0" stroke-width="2.3"/>
<path d="M1118.16,501.00 A6.15,7.35 0 1 1 1130.34,501.00 Z" fill="#0000f0"/>
<ellipse cx="1134.8" cy="517.6" rx="5.0" ry="6.2" fill="#fff" stroke="#7474f0" stroke-width="2.3"/>
<path d="M1128.71,518.60 A6.15,7.35 0 1 1 1140.89,518.60 Z" fill="#0000f0"/>
<ellipse cx="1145.3" cy="511.3" rx="5.0" ry="6.2" fill="#fff" stroke="#7474f0" stroke-width="2.3"/>
<path d="M1139.26,512.30 A6.15,7.35 0 1 1 1151.44,512.30 Z" fill="#0000f0"/>
<ellipse cx="1155.9" cy="520.1" rx="5.0" ry="6.2" fill="#fff" stroke="#7474f0" stroke-width="2.3"/>
<path d="M1149.81,521.10 A6.15,7.35 0 1 1 1161.99,521.10 Z" fill="#0000f0"/>
<ellipse cx="1166.5" cy="506.3" rx="5.0" ry="6.2" fill="#fff" stroke="#7474f0" stroke-width="2.3"/>
<path d="M1160.36,507.30 A6.15,7.35 0 1 1 1172.54,507.30 Z" fill="#0000f0"/>
<ellipse cx="1177.0" cy="510.1" rx="5.0" ry="6.2" fill="#fff" stroke="#7474f0" stroke-width="2.3"/>
<path d="M1170.91,511.10 A6.15,7.35 0 1 1 1183.09,511.10 Z" fill="#0000f0"/>
<ellipse cx="132.6" cy="625.5" rx="5.0" ry="6.2" fill="#fff" stroke="#7474f0" stroke-width="2.3"/>
<path d="M126.46,626.50 A6.15,7.35 0 1 1 138.64,626.50 Z" fill="#0000f0"/>
<ellipse cx="143.1" cy="597.6" rx="5.0" ry="6.2" fill="#fff" stroke="#7474f0" stroke-width="2.3"/>
<path d="M137.01,598.60 A6.15,7.35 0 1 1 149.19,598.60 Z" fill="#0000f0"/>
<ellipse cx="153.7" cy="575.0" rx="5.0" ry="6.2" fill="#fff" stroke="#7474f0" stroke-width="2.3"/>
<path d="M147.56,576.00 A6.15,7.35 0 1 1 159.74,576.00 Z" fill="#0000f0"/>
<ellipse cx="164.2" cy="565.3" rx="5.0" ry="6.2" fill="#fff" stroke="#7474f0" stroke-width="2.3"/>
<path d="M158.11,566.30 A6.15,7.35 0 1 1 170.29,566.30 Z" fill="#0000f0"/>
<ellipse cx="174.8" cy="556.2" rx="5.0" ry="6.2" fill="#fff" stroke="#7474f0" stroke-width="2.3"/>
<path d="M168.66,557.20 A6.15,7.35 0 1 1 180.84,557.20 Z" fill="#0000f0"/>
<ellipse cx="185.3" cy="556.2" rx="5.0" ry="6.2" fill="#fff" stroke="#7474f0" stroke-width="2.3"/>
<path d="M179.21,557.20 A6.15,7.35 0 1 1 191.39,557.20 Z" fill="#0000f0"/>
<ellipse cx="195.9" cy="558.5" rx="5.0" ry="6.2" fill="#fff" stroke="#7474f0" stroke-width="2.3"/>
<path d="M189.76,559.50 A6.15,7.35 0 1 1 201.94,559.50 Z" fill="#0000f0"/>
<ellipse cx="206.4" cy="563.0" rx="5.0" ry="6.2" fill="#fff" stroke="#7474f0" stroke-width="2.3"/>
<path d="M200.31,564.00 A6.15,7.35 0 1 1 212.49,564.00 Z" fill="#0000f0"/>
<ellipse cx="216.9" cy="569.0" rx="5.0" ry="6.2" fill="#fff" stroke="#7474f0" stroke-width="2.3"/>
<path d="M210.86,570.00 A6.15,7.35 0 1 1 223.04,570.00 Z" fill="#0000f0"/>
<ellipse cx="227.5" cy="577.3" rx="5.0" ry="6.2" fill="#fff" stroke="#7474f0" stroke-width="2.3"/>
<path d="M221.41,578.30 A6.15,7.35 0 1 1 233.59,578.30 Z" fill="#0000f0"/>
<ellipse cx="238.1" cy="578.0" rx="5.0" ry="6.2" fill="#fff" stroke="#7474f0" stroke-width="2.3"/>
<path d="M231.96,579.00 A6.15,7.35 0 1 1 244.14,579.00 Z" fill="#0000f0"/>
<ellipse cx="248.6" cy="578.0" rx="5.0" ry="6.2" fill="#fff" stroke="#7474f0" stroke-width="2.3"/>
<path d="M242.51,579.00 A6.15,7.35 0 1 1 254.69,579.00 Z" fill="#0000f0"/>
<ellipse cx="259.1" cy="581.8" rx="5.0" ry="6.2" fill="#fff" stroke="#7474f0" stroke-width="2.3"/>
<path d="M253.06,582.80 A6.15,7.35 0 1 1 265.24,582.80 Z" fill="#0000f0"/>
<ellipse cx="269.7" cy="585.6" rx="5.0" ry="6.2" fill="#fff" stroke="#7474f0" stroke-width="2.3"/>
<path d="M263.61,586.60 A6.15,7.35 0 1 1 275.79,586.60 Z" fill="#0000f0"/>
<ellipse cx="280.2" cy="596.9" rx="5.0" ry="6.2" fill="#fff" stroke="#7474f0" stroke-width="2.3"/>
<path d="M274.16,597.90 A6.15,7.35 0 1 1 286.34,597.90 Z" fill="#0000f0"/>
<ellipse cx="290.8" cy="604.4" rx="5.0" ry="6.2" fill="#fff" stroke="#7474f0" stroke-width="2.3"/>
<path d="M284.71,605.40 A6.15,7.35 0 1 1 296.89,605.40 Z" fill="#0000f0"/>
<ellipse cx="301.4" cy="605.9" rx="5.0" ry="6.2" fill="#fff" stroke="#7474f0" stroke-width="2.3"/>
<path d="M295.26,606.90 A6.15,7.35 0 1 1 307.44,606.90 Z" fill="#0000f0"/>
<ellipse cx="311.9" cy="606.6" rx="5.0" ry="6.2" fill="#fff" stroke="#7474f0" stroke-width="2.3"/>
<path d="M305.81,607.60 A6.15,7.35 0 1 1 317.99,607.60 Z" fill="#0000f0"/>
<ellipse cx="322.5" cy="613.4" rx="5.0" ry="6.2" fill="#fff" stroke="#7474f0" stroke-width="2.3"/>
<path d="M316.36,614.40 A6.15,7.35 0 1 1 328.54,614.40 Z" fill="#0000f0"/>
<ellipse cx="333.0" cy="611.9" rx="5.0" ry="6.2" fill="#fff" stroke="#7474f0" stroke-width="2.3"/>
<path d="M326.91,612.90 A6.15,7.35 0 1 1 339.09,612.90 Z" fill="#0000f0"/>
<ellipse cx="343.6" cy="612.7" rx="5.0" ry="6.2" fill="#fff" stroke="#7474f0" stroke-width="2.3"/>
<path d="M337.46,613.70 A6.15,7.35 0 1 1 349.64,613.70 Z" fill="#0000f0"/>
<ellipse cx="354.1" cy="613.4" rx="5.0" ry="6.2" fill="#fff" stroke="#7474f0" stroke-width="2.3"/>
<path d="M348.01,614.40 A6.15,7.35 0 1 1 360.19,614.40 Z" fill="#0000f0"/>
<ellipse cx="364.6" cy="620.2" rx="5.0" ry="6.2" fill="#fff" stroke="#7474f0" stroke-width="2.3"/>
<path d="M358.56,621.20 A6.15,7.35 0 1 1 370.74,621.20 Z" fill="#0000f0"/>
<ellipse cx="375.2" cy="622.5" rx="5.0" ry="6.2" fill="#fff" stroke="#7474f0" stroke-width="2.3"/>
<path d="M369.11,623.50 A6.15,7.35 0 1 1 381.29,623.50 Z" fill="#0000f0"/>
<ellipse cx="385.8" cy="622.5" rx="5.0" ry="6.2" fill="#fff" stroke="#7474f0" stroke-width="2.3"/>
<path d="M379.66,623.50 A6.15,7.35 0 1 1 391.84,623.50 Z" fill="#0000f0"/>
<ellipse cx="396.3" cy="623.2" rx="5.0" ry="6.2" fill="#fff" stroke="#7474f0" stroke-width="2.3"/>
<path d="M390.21,624.20 A6.15,7.35 0 1 1 402.39,624.20 Z" fill="#0000f0"/>
<ellipse cx="406.9" cy="632.2" rx="5.0" ry="6.2" fill="#fff" stroke="#7474f0" stroke-width="2.3"/>
<path d="M400.76,633.20 A6.15,7.35 0 1 1 412.94,633.20 Z" fill="#0000f0"/>
<ellipse cx="417.4" cy="636.7" rx="5.0" ry="6.2" fill="#fff" stroke="#7474f0" stroke-width="2.3"/>
<path d="M411.31,637.70 A6.15,7.35 0 1 1 423.49,637.70 Z" fill="#0000f0"/>
<ellipse cx="428.0" cy="638.3" rx="5.0" ry="6.2" fill="#fff" stroke="#7474f0" stroke-width="2.3"/>
<path d="M421.86,639.30 A6.15,7.35 0 1 1 434.04,639.30 Z" fill="#0000f0"/>
<ellipse cx="438.5" cy="647.0" rx="5.0" ry="6.2" fill="#fff" stroke="#7474f0" stroke-width="2.3"/>
<path d="M432.41,648.00 A6.15,7.35 0 1 1 444.59,648.00 Z" fill="#0000f0"/>
<ellipse cx="449.1" cy="631.7" rx="5.0" ry="6.2" fill="#fff" stroke="#7474f0" stroke-width="2.3"/>
<path d="M442.96,632.70 A6.15,7.35 0 1 1 455.14,632.70 Z" fill="#0000f0"/>
<ellipse cx="459.6" cy="634.4" rx="5.0" ry="6.2" fill="#fff" stroke="#7474f0" stroke-width="2.3"/>
<path d="M453.51,635.40 A6.15,7.35 0 1 1 465.69,635.40 Z" fill="#0000f0"/>
<ellipse cx="470.2" cy="635.3" rx="5.0" ry="6.2" fill="#fff" stroke="#7474f0" stroke-width="2.3"/>
<path d="M464.06,636.30 A6.15,7.35 0 1 1 476.24,636.30 Z" fill="#0000f0"/>
<ellipse cx="480.7" cy="638.0" rx="5.0" ry="6.2" fill="#fff" stroke="#7474f0" stroke-width="2.3"/>
<path d="M474.61,639.00 A6.15,7.35 0 1 1 486.79,639.00 Z" fill="#0000f0"/>
<ellipse cx="491.2" cy="642.6" rx="5.0" ry="6.2" fill="#fff" stroke="#7474f0" stroke-width="2.3"/>
<path d="M485.16,643.60 A6.15,7.35 0 1 1 497.34,643.60 Z" fill="#0000f0"/>
<ellipse cx="501.8" cy="644.4" rx="5.0" ry="6.2" fill="#fff" stroke="#7474f0" stroke-width="2.3"/>
<path d="M495.71,645.40 A6.15,7.35 0 1 1 507.89,645.40 Z" fill="#0000f0"/>
<ellipse cx="512.4" cy="645.3" rx="5.0" ry="6.2" fill="#fff" stroke="#7474f0" stroke-width="2.3"/>
<path d="M506.26,646.30 A6.15,7.35 0 1 1 518.44,646.30 Z" fill="#0000f0"/>
<ellipse cx="522.9" cy="643.5" rx="5.0" ry="6.2" fill="#fff" stroke="#7474f0" stroke-width="2.3"/>
<path d="M516.81,644.50 A6.15,7.35 0 1 1 528.99,644.50 Z" fill="#0000f0"/>
<ellipse cx="533.5" cy="642.6" rx="5.0" ry="6.2" fill="#fff" stroke="#7474f0" stroke-width="2.3"/>
<path d="M527.36,643.60 A6.15,7.35 0 1 1 539.54,643.60 Z" fill="#0000f0"/>
<ellipse cx="544.0" cy="651.6" rx="5.0" ry="6.2" fill="#fff" stroke="#7474f0" stroke-width="2.3"/>
<path d="M537.91,652.60 A6.15,7.35 0 1 1 550.09,652.60 Z" fill="#0000f0"/>
<ellipse cx="554.5" cy="647.0" rx="5.0" ry="6.2" fill="#fff" stroke="#7474f0" stroke-width="2.3"/>
<path d="M548.46,648.00 A6.15,7.35 0 1 1 560.64,648.00 Z" fill="#0000f0"/>
<ellipse cx="565.1" cy="642.6" rx="5.0" ry="6.2" fill="#fff" stroke="#7474f0" stroke-width="2.3"/>
<path d="M559.01,643.60 A6.15,7.35 0 1 1 571.19,643.60 Z" fill="#0000f0"/>
<ellipse cx="575.7" cy="648.9" rx="5.0" ry="6.2" fill="#fff" stroke="#7474f0" stroke-width="2.3"/>
<path d="M569.56,649.90 A6.15,7.35 0 1 1 581.74,649.90 Z" fill="#0000f0"/>
<ellipse cx="586.2" cy="649.8" rx="5.0" ry="6.2" fill="#fff" stroke="#7474f0" stroke-width="2.3"/>
<path d="M580.11,650.80 A6.15,7.35 0 1 1 592.29,650.80 Z" fill="#0000f0"/>
<ellipse cx="596.8" cy="652.5" rx="5.0" ry="6.2" fill="#fff" stroke="#7474f0" stroke-width="2.3"/>
<path d="M590.66,653.50 A6.15,7.35 0 1 1 602.84,653.50 Z" fill="#0000f0"/>
<ellipse cx="607.3" cy="654.5" rx="5.0" ry="6.2" fill="#fff" stroke="#7474f0" stroke-width="2.3"/>
<path d="M601.21,655.50 A6.15,7.35 0 1 1 613.39,655.50 Z" fill="#0000f0"/>
<ellipse cx="617.9" cy="654.5" rx="5.0" ry="6.2" fill="#fff" stroke="#7474f0" stroke-width="2.3"/>
<path d="M611.76,655.50 A6.15,7.35 0 1 1 623.94,655.50 Z" fill="#0000f0"/>
<ellipse cx="628.4" cy="655.6" rx="5.0" ry="6.2" fill="#fff" stroke="#7474f0" stroke-width="2.3"/>
<path d="M622.31,656.60 A6.15,7.35 0 1 1 634.49,656.60 Z" fill="#0000f0"/>
<ellipse cx="639.0" cy="659.6" rx="5.0" ry="6.2" fill="#fff" stroke="#7474f0" stroke-width="2.3"/>
<path d="M632.86,660.60 A6.15,7.35 0 1 1 645.04,660.60 Z" fill="#0000f0"/>
<ellipse cx="649.5" cy="657.6" rx="5.0" ry="6.2" fill="#fff" stroke="#7474f0" stroke-width="2.3"/>
<path d="M643.41,658.60 A6.15,7.35 0 1 1 655.59,658.60 Z" fill="#0000f0"/>
<ellipse cx="660.1" cy="659.6" rx="5.0" ry="6.2" fill="#fff" stroke="#7474f0" stroke-width="2.3"/>
<path d="M653.96,660.60 A6.15,7.35 0 1 1 666.14,660.60 Z" fill="#0000f0"/>
<ellipse cx="670.6" cy="658.6" rx="5.0" ry="6.2" fill="#fff" stroke="#7474f0" stroke-width="2.3"/>
<path d="M664.51,659.60 A6.15,7.35 0 1 1 676.69,659.60 Z" fill="#0000f0"/>
<ellipse cx="681.2" cy="661.6" rx="5.0" ry="6.2" fill="#fff" stroke="#7474f0" stroke-width="2.3"/>
<path d="M675.06,662.60 A6.15,7.35 0 1 1 687.24,662.60 Z" fill="#0000f0"/>
<ellipse cx="691.7" cy="662.6" rx="5.0" ry="6.2" fill="#fff" stroke="#7474f0" stroke-width="2.3"/>
<path d="M685.61,663.60 A6.15,7.35 0 1 1 697.79,663.60 Z" fill="#0000f0"/>
<ellipse cx="702.2" cy="666.6" rx="5.0" ry="6.2" fill="#fff" stroke="#7474f0" stroke-width="2.3"/>
<path d="M696.16,667.60 A6.15,7.35 0 1 1 708.34,667.60 Z" fill="#0000f0"/>
<ellipse cx="712.8" cy="666.6" rx="5.0" ry="6.2" fill="#fff" stroke="#7474f0" stroke-width="2.3"/>
<path d="M706.71,667.60 A6.15,7.35 0 1 1 718.89,667.60 Z" fill="#0000f0"/>
<ellipse cx="723.4" cy="665.6" rx="5.0" ry="6.2" fill="#fff" stroke="#7474f0" stroke-width="2.3"/>
<path d="M717.26,666.60 A6.15,7.35 0 1 1 729.44,666.60 Z" fill="#0000f0"/>
<ellipse cx="733.9" cy="666.6" rx="5.0" ry="6.2" fill="#fff" stroke="#7474f0" stroke-width="2.3"/>
<path d="M727.81,667.60 A6.15,7.35 0 1 1 739.99,667.60 Z" fill="#0000f0"/>
<ellipse cx="744.5" cy="671.6" rx="5.0" ry="6.2" fill="#fff" stroke="#7474f0" stroke-width="2.3"/>
<path d="M738.36,672.60 A6.15,7.35 0 1 1 750.54,672.60 Z" fill="#0000f0"/>
<ellipse cx="755.0" cy="671.6" rx="5.0" ry="6.2" fill="#fff" stroke="#7474f0" stroke-width="2.3"/>
<path d="M748.91,672.60 A6.15,7.35 0 1 1 761.09,672.60 Z" fill="#0000f0"/>
<ellipse cx="765.6" cy="676.6" rx="5.0" ry="6.2" fill="#fff" stroke="#7474f0" stroke-width="2.3"/>
<path d="M759.46,677.60 A6.15,7.35 0 1 1 771.64,677.60 Z" fill="#0000f0"/>
<ellipse cx="776.1" cy="677.0" rx="5.0" ry="6.2" fill="#fff" stroke="#7474f0" stroke-width="2.3"/>
<path d="M770.01,678.00 A6.15,7.35 0 1 1 782.19,678.00 Z" fill="#0000f0"/>
<ellipse cx="786.7" cy="677.0" rx="5.0" ry="6.2" fill="#fff" stroke="#7474f0" stroke-width="2.3"/>
<path d="M780.56,678.00 A6.15,7.35 0 1 1 792.74,678.00 Z" fill="#0000f0"/>
<ellipse cx="797.2" cy="679.2" rx="5.0" ry="6.2" fill="#fff" stroke="#7474f0" stroke-width="2.3"/>
<path d="M791.11,680.20 A6.15,7.35 0 1 1 803.29,680.20 Z" fill="#0000f0"/>
<ellipse cx="807.8" cy="680.4" rx="5.0" ry="6.2" fill="#fff" stroke="#7474f0" stroke-width="2.3"/>
<path d="M801.66,681.40 A6.15,7.35 0 1 1 813.84,681.40 Z" fill="#0000f0"/>
<ellipse cx="818.3" cy="685.0" rx="5.0" ry="6.2" fill="#fff" stroke="#7474f0" stroke-width="2.3"/>
<path d="M812.21,686.00 A6.15,7.35 0 1 1 824.39,686.00 Z" fill="#0000f0"/>
<ellipse cx="828.9" cy="680.4" rx="5.0" ry="6.2" fill="#fff" stroke="#7474f0" stroke-width="2.3"/>
<path d="M822.76,681.40 A6.15,7.35 0 1 1 834.94,681.40 Z" fill="#0000f0"/>
<ellipse cx="839.4" cy="685.0" rx="5.0" ry="6.2" fill="#fff" stroke="#7474f0" stroke-width="2.3"/>
<path d="M833.31,686.00 A6.15,7.35 0 1 1 845.49,686.00 Z" fill="#0000f0"/>
<ellipse cx="850.0" cy="678.1" rx="5.0" ry="6.2" fill="#fff" stroke="#7474f0" stroke-width="2.3"/>
<path d="M843.86,679.10 A6.15,7.35 0 1 1 856.04,679.10 Z" fill="#0000f0"/>
<ellipse cx="860.5" cy="673.5" rx="5.0" ry="6.2" fill="#fff" stroke="#7474f0" stroke-width="2.3"/>
<path d="M854.41,674.50 A6.15,7.35 0 1 1 866.59,674.50 Z" fill="#0000f0"/>
<ellipse cx="871.1" cy="677.0" rx="5.0" ry="6.2" fill="#fff" stroke="#7474f0" stroke-width="2.3"/>
<path d="M864.96,678.00 A6.15,7.35 0 1 1 877.14,678.00 Z" fill="#0000f0"/>
<ellipse cx="881.6" cy="675.8" rx="5.0" ry="6.2" fill="#fff" stroke="#7474f0" stroke-width="2.3"/>
<path d="M875.51,676.80 A6.15,7.35 0 1 1 887.69,676.80 Z" fill="#0000f0"/>
<ellipse cx="892.2" cy="683.9" rx="5.0" ry="6.2" fill="#fff" stroke="#7474f0" stroke-width="2.3"/>
<path d="M886.06,684.90 A6.15,7.35 0 1 1 898.24,684.90 Z" fill="#0000f0"/>
<ellipse cx="902.7" cy="683.9" rx="5.0" ry="6.2" fill="#fff" stroke="#7474f0" stroke-width="2.3"/>
<path d="M896.61,684.90 A6.15,7.35 0 1 1 908.79,684.90 Z" fill="#0000f0"/>
<ellipse cx="913.2" cy="685.0" rx="5.0" ry="6.2" fill="#fff" stroke="#7474f0" stroke-width="2.3"/>
<path d="M907.16,686.00 A6.15,7.35 0 1 1 919.34,686.00 Z" fill="#0000f0"/>
<ellipse cx="923.8" cy="691.9" rx="5.0" ry="6.2" fill="#fff" stroke="#7474f0" stroke-width="2.3"/>
<path d="M917.71,692.90 A6.15,7.35 0 1 1 929.89,692.90 Z" fill="#0000f0"/>
<ellipse cx="934.4" cy="686.2" rx="5.0" ry="6.2" fill="#fff" stroke="#7474f0" stroke-width="2.3"/>
<path d="M928.26,687.20 A6.15,7.35 0 1 1 940.44,687.20 Z" fill="#0000f0"/>
<ellipse cx="944.9" cy="683.0" rx="5.0" ry="6.2" fill="#fff" stroke="#7474f0" stroke-width="2.3"/>
<path d="M938.81,684.00 A6.15,7.35 0 1 1 950.99,684.00 Z" fill="#0000f0"/>
<ellipse cx="955.5" cy="689.3" rx="5.0" ry="6.2" fill="#fff" stroke="#7474f0" stroke-width="2.3"/>
<path d="M949.36,690.30 A6.15,7.35 0 1 1 961.54,690.30 Z" fill="#0000f0"/>
<ellipse cx="966.0" cy="694.4" rx="5.0" ry="6.2" fill="#fff" stroke="#7474f0" stroke-width="2.3"/>
<path d="M959.91,695.40 A6.15,7.35 0 1 1 972.09,695.40 Z" fill="#0000f0"/>
<ellipse cx="976.6" cy="693.1" rx="5.0" ry="6.2" fill="#fff" stroke="#7474f0" stroke-width="2.3"/>
<path d="M970.46,694.10 A6.15,7.35 0 1 1 982.64,694.10 Z" fill="#0000f0"/>
<ellipse cx="987.1" cy="698.1" rx="5.0" ry="6.2" fill="#fff" stroke="#7474f0" stroke-width="2.3"/>
<path d="M981.01,699.10 A6.15,7.35 0 1 1 993.19,699.10 Z" fill="#0000f0"/>
<ellipse cx="997.7" cy="703.1" rx="5.0" ry="6.2" fill="#fff" stroke="#7474f0" stroke-width="2.3"/>
<path d="M991.56,704.10 A6.15,7.35 0 1 1 1003.74,704.10 Z" fill="#0000f0"/>
<ellipse cx="1008.2" cy="703.1" rx="5.0" ry="6.2" fill="#fff" stroke="#7474f0" stroke-width="2.3"/>
<path d="M1002.11,704.10 A6.15,7.35 0 1 1 1014.29,704.10 Z" fill="#0000f0"/>
<ellipse cx="1018.8" cy="703.1" rx="5.0" ry="6.2" fill="#fff" stroke="#7474f0" stroke-width="2.3"/>
<path d="M1012.66,704.10 A6.15,7.35 0 1 1 1024.84,704.10 Z" fill="#0000f0"/>
<ellipse cx="1029.3" cy="700.6" rx="5.0" ry="6.2" fill="#fff" stroke="#7474f0" stroke-width="2.3"/>
<path d="M1023.21,701.60 A6.15,7.35 0 1 1 1035.39,701.60 Z" fill="#0000f0"/>
<ellipse cx="1039.8" cy="703.1" rx="5.0" ry="6.2" fill="#fff" stroke="#7474f0" stroke-width="2.3"/>
<path d="M1033.76,704.10 A6.15,7.35 0 1 1 1045.94,704.10 Z" fill="#0000f0"/>
<ellipse cx="1050.4" cy="708.2" rx="5.0" ry="6.2" fill="#fff" stroke="#7474f0" stroke-width="2.3"/>
<path d="M1044.31,709.20 A6.15,7.35 0 1 1 1056.49,709.20 Z" fill="#0000f0"/>
<ellipse cx="1061.0" cy="709.4" rx="5.0" ry="6.2" fill="#fff" stroke="#7474f0" stroke-width="2.3"/>
<path d="M1054.86,710.40 A6.15,7.35 0 1 1 1067.04,710.40 Z" fill="#0000f0"/>
<ellipse cx="1071.5" cy="708.2" rx="5.0" ry="6.2" fill="#fff" stroke="#7474f0" stroke-width="2.3"/>
<path d="M1065.41,709.20 A6.15,7.35 0 1 1 1077.59,709.20 Z" fill="#0000f0"/>
<ellipse cx="1082.1" cy="710.7" rx="5.0" ry="6.2" fill="#fff" stroke="#7474f0" stroke-width="2.3"/>
<path d="M1075.96,711.70 A6.15,7.35 0 1 1 1088.14,711.70 Z" fill="#0000f0"/>
<ellipse cx="1092.6" cy="711.9" rx="5.0" ry="6.2" fill="#fff" stroke="#7474f0" stroke-width="2.3"/>
<path d="M1086.51,712.90 A6.15,7.35 0 1 1 1098.69,712.90 Z" fill="#0000f0"/>
<ellipse cx="1103.2" cy="713.2" rx="5.0" ry="6.2" fill="#fff" stroke="#7474f0" stroke-width="2.3"/>
<path d="M1097.06,714.20 A6.15,7.35 0 1 1 1109.24,714.20 Z" fill="#0000f0"/>
<ellipse cx="1113.7" cy="716.9" rx="5.0" ry="6.2" fill="#fff" stroke="#7474f0" stroke-width="2.3"/>
<path d="M1107.61,717.90 A6.15,7.35 0 1 1 1119.79,717.90 Z" fill="#0000f0"/>
<ellipse cx="1124.2" cy="711.9" rx="5.0" ry="6.2" fill="#fff" stroke="#7474f0" stroke-width="2.3"/>
<path d="M1118.16,712.90 A6.15,7.35 0 1 1 1130.34,712.90 Z" fill="#0000f0"/>
<ellipse cx="1134.8" cy="715.7" rx="5.0" ry="6.2" fill="#fff" stroke="#7474f0" stroke-width="2.3"/>
<path d="M1128.71,716.70 A6.15,7.35 0 1 1 1140.89,716.70 Z" fill="#0000f0"/>
<ellipse cx="1145.3" cy="718.2" rx="5.0" ry="6.2" fill="#fff" stroke="#7474f0" stroke-width="2.3"/>
<path d="M1139.26,719.20 A6.15,7.35 0 1 1 1151.44,719.20 Z" fill="#0000f0"/>
<ellipse cx="1155.9" cy="724.5" rx="5.0" ry="6.2" fill="#fff" stroke="#7474f0" stroke-width="2.3"/>
<path d="M1149.81,725.50 A6.15,7.35 0 1 1 1161.99,725.50 Z" fill="#0000f0"/>
<ellipse cx="1166.5" cy="727.0" rx="5.0" ry="6.2" fill="#fff" stroke="#7474f0" stroke-width="2.3"/>
<path d="M1160.36,728.00 A6.15,7.35 0 1 1 1172.54,728.00 Z" fill="#0000f0"/>
<ellipse cx="1177.0" cy="723.2" rx="5.0" ry="6.2" fill="#fff" stroke="#7474f0" stroke-width="2.3"/>
<path d="M1170.91,724.20 A6.15,7.35 0 1 1 1183.09,724.20 Z" fill="#0000f0"/>
<rect x="111" y="477.3" width="1076.8" height="422.99999999999994" fill="none" stroke="#4a4a4a" stroke-width="2.4" stroke-linejoin="round"/>
<line x1="103.5" y1="900.3" x2="111" y2="900.3" stroke="#4a4a4a" stroke-width="1.6"/>
<text transform="translate(84.96,908.50) scale(0.9000,1)" font-family='"Liberation Sans", sans-serif' font-weight="bold" font-size="26.40" fill="#000">0</text>
<line x1="103.5" y1="837.6" x2="111" y2="837.6" stroke="#4a4a4a" stroke-width="1.6"/>
<text transform="translate(71.78,845.83) scale(0.9000,1)" font-family='"Liberation Sans", sans-serif' font-weight="bold" font-size="26.40" fill="#000">40</text>
<line x1="103.5" y1="775.0" x2="111" y2="775.0" stroke="#4a4a4a" stroke-width="1.6"/>
<text transform="translate(71.78,783.16) scale(0.9000,1)" font-family='"Liberation Sans", sans-serif' font-weight="bold" font-size="26.40" fill="#000">80</text>
<line x1="103.5" y1="712.3" x2="111" y2="712.3" stroke="#4a4a4a" stroke-width="1.6"/>
<text transform="translate(58.59,720.50) scale(0.9000,1)" font-family='"Liberation Sans", sans-serif' font-weight="bold" font-size="26.40" fill="#000">120</text>
<line x1="103.5" y1="649.6" x2="111" y2="649.6" stroke="#4a4a4a" stroke-width="1.6"/>
<text transform="translate(58.59,657.83) scale(0.9000,1)" font-family='"Liberation Sans", sans-serif' font-weight="bold" font-size="26.40" fill="#000">160</text>
<line x1="103.5" y1="587.0" x2="111" y2="587.0" stroke="#4a4a4a" stroke-width="1.6"/>
<text transform="translate(58.59,595.16) scale(0.9000,1)" font-family='"Liberation Sans", sans-serif' font-weight="bold" font-size="26.40" fill="#000">200</text>
<line x1="103.5" y1="524.3" x2="111" y2="524.3" stroke="#4a4a4a" stroke-width="1.6"/>
<text transform="translate(58.59,532.49) scale(0.9000,1)" font-family='"Liberation Sans", sans-serif' font-weight="bold" font-size="26.40" fill="#000">240</text>
<line x1="107.5" y1="869.0" x2="111" y2="869.0" stroke="#4a4a4a" stroke-width="1.6"/>
<line x1="107.5" y1="806.3" x2="111" y2="806.3" stroke="#4a4a4a" stroke-width="1.6"/>
<line x1="107.5" y1="743.6" x2="111" y2="743.6" stroke="#4a4a4a" stroke-width="1.6"/>
<line x1="107.5" y1="681.0" x2="111" y2="681.0" stroke="#4a4a4a" stroke-width="1.6"/>
<line x1="107.5" y1="618.3" x2="111" y2="618.3" stroke="#4a4a4a" stroke-width="1.6"/>
<line x1="107.5" y1="555.6" x2="111" y2="555.6" stroke="#4a4a4a" stroke-width="1.6"/>
<line x1="107.5" y1="493.0" x2="111" y2="493.0" stroke="#4a4a4a" stroke-width="1.6"/>
<line x1="1181.3" y1="865.3" x2="1187.8" y2="865.3" stroke="#4a4a4a" stroke-width="1.6"/>
<text transform="translate(1196.07,872.50) scale(0.8800,1)" font-family='"Liberation Sans", sans-serif' font-weight="bold" font-size="26.40" fill="#000">0</text>
<line x1="1181.3" y1="794.8" x2="1187.8" y2="794.8" stroke="#4a4a4a" stroke-width="1.6"/>
<text transform="translate(1196.19,802.05) scale(0.8800,1)" font-family='"Liberation Sans", sans-serif' font-weight="bold" font-size="26.40" fill="#000">20</text>
<line x1="1181.3" y1="724.4" x2="1187.8" y2="724.4" stroke="#4a4a4a" stroke-width="1.6"/>
<text transform="translate(1196.65,731.60) scale(0.8800,1)" font-family='"Liberation Sans", sans-serif' font-weight="bold" font-size="26.40" fill="#000">40</text>
<line x1="1181.3" y1="653.9" x2="1187.8" y2="653.9" stroke="#4a4a4a" stroke-width="1.6"/>
<text transform="translate(1196.19,661.15) scale(0.8800,1)" font-family='"Liberation Sans", sans-serif' font-weight="bold" font-size="26.40" fill="#000">60</text>
<line x1="1181.3" y1="583.5" x2="1187.8" y2="583.5" stroke="#4a4a4a" stroke-width="1.6"/>
<text transform="translate(1196.30,590.70) scale(0.8800,1)" font-family='"Liberation Sans", sans-serif' font-weight="bold" font-size="26.40" fill="#000">80</text>
<line x1="1181.3" y1="513.0" x2="1187.8" y2="513.0" stroke="#4a4a4a" stroke-width="1.6"/>
<text transform="translate(1195.49,520.25) scale(0.8800,1)" font-family='"Liberation Sans", sans-serif' font-weight="bold" font-size="26.40" fill="#000">100</text>
<line x1="1184.3" y1="830.1" x2="1187.8" y2="830.1" stroke="#4a4a4a" stroke-width="1.6"/>
<line x1="1184.3" y1="759.6" x2="1187.8" y2="759.6" stroke="#4a4a4a" stroke-width="1.6"/>
<line x1="1184.3" y1="689.2" x2="1187.8" y2="689.2" stroke="#4a4a4a" stroke-width="1.6"/>
<line x1="1184.3" y1="618.7" x2="1187.8" y2="618.7" stroke="#4a4a4a" stroke-width="1.6"/>
<line x1="1184.3" y1="548.3" x2="1187.8" y2="548.3" stroke="#4a4a4a" stroke-width="1.6"/>
<line x1="1184.3" y1="477.8" x2="1187.8" y2="477.8" stroke="#4a4a4a" stroke-width="1.6"/>
<line x1="122.0" y1="900.3" x2="122.0" y2="907.8" stroke="#4a4a4a" stroke-width="1.6"/>
<text transform="translate(115.01,934.70) scale(0.9000,1)" font-family='"Liberation Sans", sans-serif' font-weight="bold" font-size="26.40" fill="#000">0</text>
<line x1="333.0" y1="900.3" x2="333.0" y2="907.8" stroke="#4a4a4a" stroke-width="1.6"/>
<text transform="translate(319.47,934.70) scale(0.9000,1)" font-family='"Liberation Sans", sans-serif' font-weight="bold" font-size="26.40" fill="#000">20</text>
<line x1="544.0" y1="900.3" x2="544.0" y2="907.8" stroke="#4a4a4a" stroke-width="1.6"/>
<text transform="translate(530.71,934.70) scale(0.9000,1)" font-family='"Liberation Sans", sans-serif' font-weight="bold" font-size="26.40" fill="#000">40</text>
<line x1="755.0" y1="900.3" x2="755.0" y2="907.8" stroke="#4a4a4a" stroke-width="1.6"/>
<text transform="translate(741.47,934.70) scale(0.9000,1)" font-family='"Liberation Sans", sans-serif' font-weight="bold" font-size="26.40" fill="#000">60</text>
<line x1="966.0" y1="900.3" x2="966.0" y2="907.8" stroke="#4a4a4a" stroke-width="1.6"/>
<text transform="translate(952.53,934.70) scale(0.9000,1)" font-family='"Liberation Sans", sans-serif' font-weight="bold" font-size="26.40" fill="#000">80</text>
<line x1="1177.0" y1="900.3" x2="1177.0" y2="907.8" stroke="#4a4a4a" stroke-width="1.6"/>
<text transform="translate(1156.52,934.70) scale(0.9000,1)" font-family='"Liberation Sans", sans-serif' font-weight="bold" font-size="26.40" fill="#000">100</text>
<line x1="227.5" y1="900.3" x2="227.5" y2="903.8" stroke="#4a4a4a" stroke-width="1.6"/>
<line x1="438.5" y1="900.3" x2="438.5" y2="903.8" stroke="#4a4a4a" stroke-width="1.6"/>
<line x1="649.5" y1="900.3" x2="649.5" y2="903.8" stroke="#4a4a4a" stroke-width="1.6"/>
<line x1="860.5" y1="900.3" x2="860.5" y2="903.8" stroke="#4a4a4a" stroke-width="1.6"/>
<line x1="1071.5" y1="900.3" x2="1071.5" y2="903.8" stroke="#4a4a4a" stroke-width="1.6"/>
<text transform="translate(540.89,986.30) scale(0.9804,1)" font-family='"Liberation Sans", sans-serif' font-weight="bold" font-size="33.40" fill="#000">Cycle number</text>
<text transform="translate(34.50,835.04) rotate(-90) scale(1.0160,1)" font-family='"Liberation Sans", sans-serif' font-weight="bold" font-size="35.40" fill="#000">Capacity / mAh g</text>
<text transform="translate(24.00,543.06) rotate(-90) scale(1.0882,1)" font-family='"Liberation Sans", sans-serif' font-weight="bold" font-size="31.30" fill="#000">-1</text>
<text transform="translate(1271.00,897.92) rotate(-90) scale(0.9895,1)" font-family='"Liberation Sans", sans-serif' font-weight="bold" font-size="35.80" fill="#000">Coulombic Efficiency / %</text>
<text transform="translate(4.93,486.60) scale(1.3570,1)" font-family='"Liberation Serif", serif' font-weight="bold" font-size="33.96" fill="#000">(</text>
<text transform="translate(18.00,490.87) scale(1.1209,1)" font-family='"Liberation Serif", serif' font-weight="bold" font-size="43.33" fill="#000">c</text>
<text transform="translate(37.43,486.69) scale(1.4227,1)" font-family='"Liberation Serif", serif' font-weight="bold" font-size="34.33" fill="#000">)</text>
<rect x="904.4" y="808.2" width="254.6" height="58.5" fill="#fff" stroke="#5a5a5a" stroke-width="2"/>
<line x1="909.3" y1="824.3" x2="952" y2="824.3" stroke="#f8c8c8" stroke-width="1.2"/>
<line x1="909.3" y1="852.5" x2="952" y2="852.5" stroke="#c8c8f8" stroke-width="1.2"/>
<ellipse cx="929.6" cy="824.3" rx="5.7" ry="7.2" fill="#fff" stroke="#f07878" stroke-width="1.4"/>
<ellipse cx="929.8" cy="852.5" rx="5.4" ry="6.6" fill="#fff" stroke="#7474f0" stroke-width="2.0"/>
<path d="M923.46,853.50 A6.40,7.60 0 1 1 936.14,853.50 Z" fill="#0000f0"/>
<text transform="translate(958.00,832.00) scale(0.9168,1)" font-family='"Liberation Sans", sans-serif' font-weight="bold" font-size="21.70" fill="#000">With 5% TFPN</text>
<text transform="translate(957.80,859.60) scale(0.9336,1)" font-family='"Liberation Sans", sans-serif' font-weight="bold" font-size="21.40" fill="#000">The blank electrolyte</text>
</svg>
</body></html>
